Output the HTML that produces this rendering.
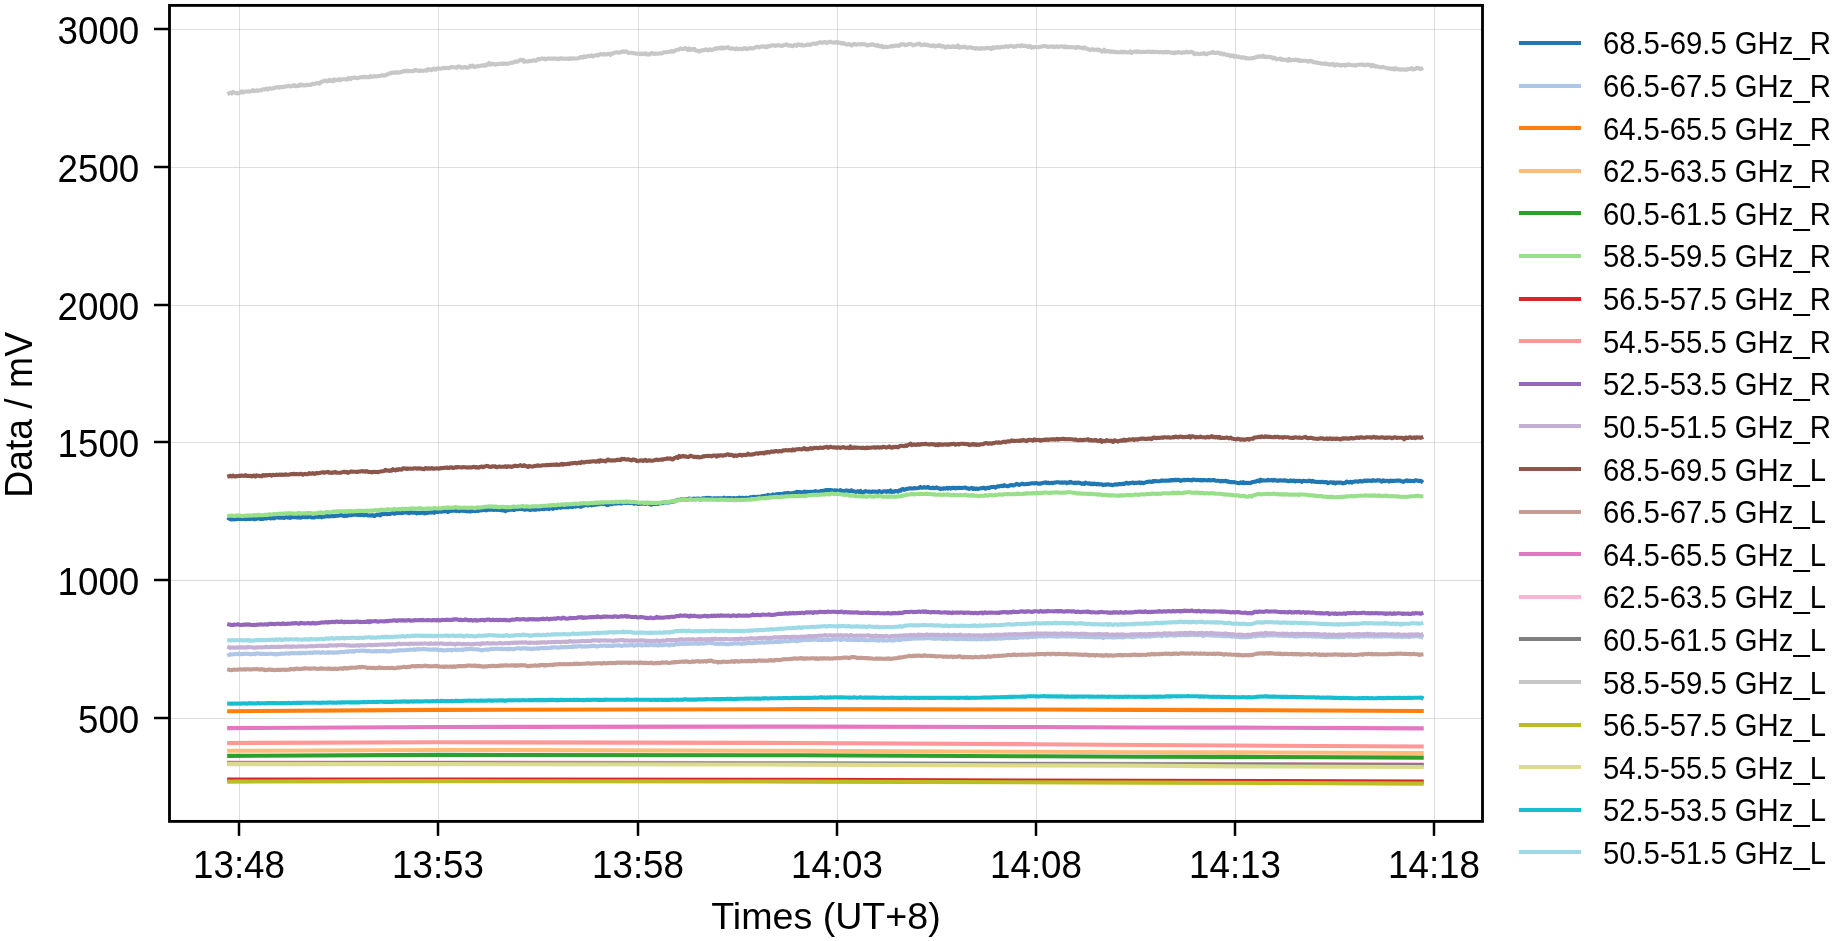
<!DOCTYPE html>
<html><head><meta charset="utf-8"><title>Data / mV vs Times (UT+8)</title>
<style>
html,body{margin:0;padding:0;background:#fff;overflow:hidden}
svg{display:block}
svg.root{will-change:transform}
text{font-family:"Liberation Sans",Arial,sans-serif;fill:#000}
.tk{font-size:37.5px}
.lg{font-size:29.17px}
.ln{fill:none;stroke-width:4.1;stroke-linejoin:round;stroke-linecap:square}
</style></head><body>
<svg class="root" width="1847" height="941" viewBox="0 0 1847 941">

<g stroke="#b0b0b0" stroke-opacity="0.42" stroke-width="1.0">
<line x1="239.50" y1="5.4" x2="239.50" y2="821.4"/>
<line x1="438.50" y1="5.4" x2="438.50" y2="821.4"/>
<line x1="638.50" y1="5.4" x2="638.50" y2="821.4"/>
<line x1="837.50" y1="5.4" x2="837.50" y2="821.4"/>
<line x1="1036.50" y1="5.4" x2="1036.50" y2="821.4"/>
<line x1="1235.50" y1="5.4" x2="1235.50" y2="821.4"/>
<line x1="1434.50" y1="5.4" x2="1434.50" y2="821.4"/>
<line x1="169.5" y1="718.50" x2="1482.5" y2="718.50"/>
<line x1="169.5" y1="580.50" x2="1482.5" y2="580.50"/>
<line x1="169.5" y1="442.50" x2="1482.5" y2="442.50"/>
<line x1="169.5" y1="305.50" x2="1482.5" y2="305.50"/>
<line x1="169.5" y1="167.50" x2="1482.5" y2="167.50"/>
<line x1="169.5" y1="29.50" x2="1482.5" y2="29.50"/>
</g>
<svg x="169.5" y="5.4" width="1313.0" height="816.0" viewBox="169.5 5.4 1313.0 816.0" overflow="hidden">
<path class="ln" stroke="#1f77b4" d="M229.2 518.6 230.4 519.2 231.7 519.5 232.9 519.0 234.2 519.4 235.4 519.2 236.7 519.1 237.9 518.7 239.2 518.9 240.4 519.1 241.7 518.8 242.9 519.1 244.2 518.7 245.4 519.2 246.7 519.1 247.9 518.9 249.2 518.7 250.4 519.2 251.7 518.7 252.9 518.4 254.2 519.3 255.4 519.3 256.7 518.6 257.9 518.3 259.2 518.6 260.4 518.9 261.7 518.7 262.9 518.9 264.2 518.3 265.4 518.4 266.7 518.4 267.9 517.7 269.2 517.9 270.4 518.4 271.7 518.3 272.9 517.9 274.2 518.4 275.4 517.4 276.7 517.4 277.9 517.4 279.2 517.6 280.4 517.5 281.7 517.7 282.9 517.4 284.2 518.0 285.4 516.9 286.7 517.2 287.9 517.6 289.2 516.9 290.4 517.9 291.7 517.0 292.9 517.2 294.2 517.1 295.4 517.1 296.7 517.4 297.9 517.5 299.2 517.0 300.4 517.7 301.7 517.3 302.9 517.0 304.2 517.0 305.4 517.3 306.7 517.3 307.9 517.2 309.2 516.6 310.4 516.8 311.7 517.4 312.9 517.4 314.2 517.5 315.4 516.6 316.7 516.3 317.9 517.0 319.2 516.7 320.4 516.5 321.7 517.3 322.9 516.4 324.2 516.7 325.4 515.9 326.7 516.5 327.9 515.8 329.2 516.4 330.4 516.3 331.7 515.4 332.9 516.2 334.2 516.1 335.4 515.9 336.7 515.8 337.9 515.7 339.2 515.4 340.4 515.2 341.7 515.0 342.9 515.7 344.2 516.1 345.4 515.3 346.7 516.0 347.9 515.4 349.2 515.3 350.4 515.3 351.7 515.2 352.9 514.4 354.2 514.6 355.4 514.8 356.7 514.1 357.9 515.1 359.2 515.0 360.4 514.9 361.7 515.0 362.9 515.0 364.2 515.2 365.4 515.0 366.7 514.9 367.9 515.5 369.2 515.5 370.4 515.3 371.7 515.6 372.9 515.1 374.2 516.0 375.4 515.5 376.7 514.5 377.9 514.9 379.2 514.3 380.4 515.4 381.7 514.0 382.9 514.0 384.2 514.1 385.4 513.6 386.7 514.2 387.9 513.8 389.2 514.0 390.4 513.9 391.7 513.0 392.9 513.0 394.2 513.8 395.4 513.6 396.7 512.8 397.9 513.1 399.2 512.5 400.4 513.0 401.7 513.1 402.9 512.9 404.2 512.2 405.4 512.4 406.7 512.8 407.9 512.3 409.2 513.2 410.4 512.4 411.7 512.3 412.9 512.8 414.2 512.7 415.4 512.5 416.7 513.5 417.9 512.7 419.2 512.9 420.4 512.9 421.7 512.7 422.9 512.5 424.2 513.5 425.4 512.6 426.7 513.1 427.9 512.6 429.2 512.6 430.4 512.3 431.7 512.6 432.9 511.7 434.2 512.8 435.4 511.5 436.7 511.9 437.9 512.1 439.2 511.0 440.4 511.6 441.7 511.7 442.9 510.9 444.2 511.5 445.4 511.1 446.7 511.2 447.9 511.9 449.2 511.3 450.4 511.0 451.7 510.8 452.9 510.4 454.2 510.6 455.4 510.7 456.7 510.9 457.9 510.4 459.2 511.2 460.4 510.7 461.7 510.5 462.9 510.6 464.2 511.0 465.4 510.9 466.7 511.4 467.9 510.9 469.2 511.2 470.4 511.5 471.7 510.6 472.9 511.0 474.2 510.7 475.4 511.1 476.7 510.4 477.9 511.0 479.2 510.6 480.4 510.0 481.7 510.4 482.9 509.9 484.2 510.0 485.4 510.3 486.7 510.2 487.9 509.0 489.2 509.7 490.4 509.5 491.7 509.8 492.9 509.6 494.2 509.9 495.4 509.3 496.7 509.9 497.9 509.5 499.2 510.0 500.4 509.8 501.7 510.3 502.9 510.5 504.2 509.8 505.4 511.2 506.7 510.2 507.9 510.2 509.2 509.9 510.4 509.5 511.7 509.7 513.0 509.7 514.2 510.0 515.5 509.2 516.7 509.1 518.0 509.3 519.2 509.1 520.5 508.9 521.7 509.1 523.0 508.9 524.2 509.6 525.5 509.7 526.7 508.7 528.0 509.5 529.2 509.6 530.5 510.1 531.7 509.3 533.0 509.4 534.2 509.8 535.5 509.7 536.7 509.4 538.0 508.7 539.2 509.5 540.5 508.9 541.7 508.7 543.0 508.9 544.2 509.2 545.5 508.7 546.7 508.5 548.0 508.7 549.2 509.1 550.5 507.9 551.7 508.2 553.0 508.9 554.2 508.1 555.5 507.2 556.7 508.2 558.0 507.5 559.2 507.1 560.5 507.7 561.7 507.3 563.0 507.2 564.2 507.0 565.5 507.4 566.7 507.0 568.0 507.4 569.2 506.9 570.5 506.5 571.7 507.0 573.0 506.9 574.2 505.7 575.5 506.6 576.7 506.1 578.0 506.3 579.2 506.2 580.5 506.8 581.7 506.5 583.0 505.9 584.2 505.4 585.5 505.2 586.7 505.3 588.0 505.4 589.2 505.1 590.5 504.8 591.7 505.5 593.0 504.5 594.2 505.0 595.5 504.2 596.7 504.6 598.0 504.1 599.2 504.3 600.5 503.9 601.7 503.5 603.0 504.2 604.2 503.8 605.5 503.9 606.7 505.0 608.0 505.0 609.2 504.3 610.5 504.0 611.7 504.2 613.0 503.4 614.2 503.6 615.5 503.0 616.7 503.5 618.0 503.2 619.2 503.2 620.5 503.4 621.7 503.5 623.0 502.7 624.2 502.8 625.5 503.1 626.7 502.5 628.0 502.9 629.2 503.0 630.5 502.9 631.7 502.6 633.0 503.3 634.2 503.8 635.5 503.4 636.7 503.3 638.0 503.9 639.2 503.9 640.5 503.8 641.7 503.6 643.0 503.6 644.2 503.5 645.5 503.9 646.7 503.3 648.0 503.2 649.2 503.9 650.5 504.5 651.7 504.7 653.0 503.1 654.2 504.0 655.5 503.9 656.7 503.9 658.0 503.9 659.2 503.3 660.5 503.2 661.7 503.2 663.0 503.2 664.2 502.3 665.5 502.6 666.7 502.3 668.0 502.6 669.2 502.4 670.5 501.8 671.7 501.9 673.0 501.2 674.2 501.5 675.5 500.6 676.7 500.5 678.0 499.8 679.2 499.7 680.5 499.8 681.7 499.2 683.0 499.2 684.2 499.5 685.5 499.6 686.7 499.1 688.0 499.4 689.2 498.5 690.5 499.3 691.7 498.7 693.0 499.4 694.2 498.5 695.5 499.1 696.7 498.6 698.0 498.9 699.2 498.6 700.5 499.7 701.7 498.7 703.0 498.2 704.2 498.7 705.5 498.1 706.7 497.9 708.0 498.5 709.2 497.7 710.5 498.4 711.7 498.3 713.0 498.8 714.2 498.2 715.5 498.6 716.7 498.3 718.0 498.3 719.2 498.2 720.5 498.2 721.7 498.3 723.0 498.4 724.2 497.6 725.5 498.6 726.7 498.3 728.0 497.9 729.2 498.3 730.5 498.1 731.7 498.4 733.0 498.3 734.2 498.1 735.5 498.5 736.7 498.1 738.0 498.5 739.2 497.5 740.5 498.2 741.7 497.9 743.0 497.8 744.2 498.4 745.5 497.7 746.7 497.8 748.0 498.0 749.2 498.0 750.5 497.1 751.7 497.7 753.0 496.9 754.2 496.8 755.5 497.5 756.7 496.7 758.0 496.8 759.2 496.9 760.5 497.0 761.7 496.3 763.0 496.1 764.2 495.9 765.5 495.8 766.7 496.1 768.0 494.9 769.2 495.3 770.5 495.5 771.7 495.4 773.0 494.4 774.2 495.2 775.5 494.7 776.7 494.3 778.0 494.1 779.2 494.1 780.5 494.1 781.7 494.4 783.0 493.7 784.2 493.4 785.5 493.4 786.7 493.5 788.0 492.8 789.2 493.7 790.5 493.2 791.7 493.2 793.0 493.0 794.2 492.7 795.5 492.4 796.7 491.9 798.0 492.0 799.2 492.0 800.5 492.2 801.7 492.3 803.0 492.4 804.2 491.6 805.5 491.9 806.7 492.0 808.0 491.9 809.2 492.3 810.5 491.7 811.7 492.2 813.0 491.7 814.2 491.5 815.5 491.1 816.7 491.8 818.0 491.8 819.2 491.6 820.5 491.1 821.7 491.3 823.0 490.7 824.2 491.3 825.5 490.1 826.7 490.5 828.0 490.0 829.2 490.3 830.5 490.0 831.7 490.4 833.0 490.6 834.2 490.4 835.5 490.6 836.7 490.4 838.0 490.8 839.2 490.9 840.5 490.1 841.7 491.0 843.0 491.0 844.2 491.1 845.5 490.9 846.7 490.4 848.0 491.2 849.2 490.8 850.5 491.1 851.7 490.3 853.0 491.3 854.2 491.4 855.5 491.9 856.7 491.7 858.0 491.2 859.2 491.9 860.5 490.9 861.7 492.7 863.0 492.4 864.2 491.7 865.5 491.1 866.7 491.5 868.0 491.7 869.2 491.6 870.5 491.8 871.7 491.9 873.0 491.4 874.2 491.7 875.5 491.6 876.7 491.7 878.0 491.9 879.2 491.0 880.5 491.7 881.7 492.2 883.0 491.5 884.2 491.3 885.5 491.4 886.7 491.9 888.0 491.0 889.2 491.7 890.5 490.5 891.7 492.1 893.0 491.5 894.2 491.8 895.5 491.0 896.7 491.2 898.0 491.7 899.2 490.4 900.5 490.8 901.7 489.4 903.0 489.0 904.2 489.9 905.5 489.4 906.7 488.9 908.0 488.8 909.2 488.4 910.5 488.4 911.7 488.5 913.0 488.5 914.2 488.1 915.5 488.3 916.7 488.2 918.0 488.0 919.2 487.7 920.5 486.9 921.7 487.7 923.0 487.6 924.2 487.1 925.5 487.8 926.7 487.5 928.0 487.0 929.2 487.9 930.5 488.0 931.7 488.3 933.0 487.6 934.2 488.3 935.5 488.0 936.7 487.4 938.0 488.3 939.2 488.3 940.5 489.1 941.7 488.5 943.0 488.8 944.2 488.2 945.5 488.6 946.7 487.9 948.0 488.6 949.2 487.8 950.5 488.6 951.7 488.1 953.0 487.9 954.2 487.8 955.5 488.4 956.7 487.7 958.0 488.1 959.2 487.8 960.5 488.0 961.7 488.0 963.0 487.7 964.2 487.7 965.5 487.6 966.7 488.3 968.0 488.3 969.2 488.9 970.5 488.4 971.7 487.8 973.0 489.0 974.2 488.2 975.5 488.9 976.7 488.6 978.0 489.0 979.2 488.6 980.5 488.2 981.7 488.1 983.0 487.9 984.2 487.9 985.5 488.7 986.7 487.9 988.0 487.8 989.2 488.1 990.5 487.2 991.7 487.1 993.0 487.0 994.2 486.9 995.5 487.6 996.7 486.7 998.0 486.3 999.2 486.4 1000.5 486.1 1001.7 485.8 1003.0 486.2 1004.2 485.2 1005.5 485.8 1006.7 486.1 1008.0 486.2 1009.2 485.8 1010.5 485.1 1011.7 485.1 1013.0 485.4 1014.2 485.2 1015.5 484.5 1016.7 483.9 1018.0 484.4 1019.2 485.0 1020.5 484.3 1021.7 483.8 1023.0 483.9 1024.2 484.3 1025.5 484.2 1026.7 483.9 1028.0 484.0 1029.2 483.7 1030.5 483.7 1031.7 483.2 1033.0 483.2 1034.2 483.4 1035.5 483.3 1036.7 483.1 1038.0 483.6 1039.2 483.5 1040.5 483.7 1041.7 483.2 1043.0 482.9 1044.2 482.8 1045.5 482.3 1046.7 483.1 1048.0 482.5 1049.2 483.2 1050.5 483.0 1051.7 482.9 1053.0 483.1 1054.2 482.6 1055.5 482.5 1056.7 482.3 1058.0 482.3 1059.2 482.4 1060.5 482.7 1061.7 482.4 1063.0 482.6 1064.2 482.5 1065.5 482.3 1066.7 483.3 1068.0 482.5 1069.2 482.7 1070.5 481.8 1071.7 482.5 1073.0 482.8 1074.2 483.1 1075.5 482.5 1076.7 483.1 1078.0 482.5 1079.2 482.9 1080.5 483.1 1081.7 483.9 1083.0 483.3 1084.2 483.9 1085.5 482.7 1086.7 483.2 1088.0 483.7 1089.2 483.3 1090.5 484.1 1091.7 483.5 1093.0 484.2 1094.2 483.6 1095.5 483.9 1096.7 484.4 1098.0 483.9 1099.2 484.4 1100.5 484.3 1101.7 484.3 1103.0 485.1 1104.2 484.7 1105.5 484.5 1106.7 484.6 1108.0 484.2 1109.2 484.7 1110.5 484.8 1111.7 484.9 1113.0 485.2 1114.2 484.7 1115.5 484.2 1116.7 484.7 1118.0 484.3 1119.2 484.1 1120.5 484.0 1121.7 484.1 1123.0 483.7 1124.2 484.0 1125.5 483.2 1126.7 482.7 1128.0 483.6 1129.2 483.0 1130.5 483.2 1131.7 482.7 1133.0 482.5 1134.2 483.2 1135.5 482.8 1136.7 482.9 1138.0 482.8 1139.2 482.4 1140.5 483.1 1141.7 482.6 1143.0 483.2 1144.2 482.8 1145.5 482.4 1146.7 482.0 1148.0 481.7 1149.2 481.6 1150.5 481.8 1151.7 481.9 1153.0 481.1 1154.2 481.4 1155.5 480.9 1156.7 481.2 1158.0 481.3 1159.2 481.3 1160.5 481.0 1161.7 480.5 1163.0 480.6 1164.2 480.7 1165.5 480.5 1166.7 480.7 1168.0 480.6 1169.2 480.8 1170.5 480.0 1171.7 480.5 1173.0 480.0 1174.2 480.2 1175.5 479.8 1176.7 480.2 1178.0 479.7 1179.2 479.9 1180.5 480.9 1181.7 480.3 1183.0 480.3 1184.2 479.7 1185.5 480.3 1186.7 479.8 1188.0 479.7 1189.2 480.1 1190.5 480.0 1191.7 480.4 1193.0 479.6 1194.2 479.8 1195.5 479.9 1196.7 480.1 1198.0 479.9 1199.2 480.1 1200.5 480.0 1201.7 480.5 1203.0 480.0 1204.2 480.1 1205.5 480.3 1206.7 480.2 1208.0 480.4 1209.2 479.9 1210.5 480.4 1211.7 480.3 1213.0 480.1 1214.2 480.0 1215.5 480.7 1216.7 480.7 1218.0 480.8 1219.2 480.8 1220.5 481.5 1221.7 480.8 1223.0 481.2 1224.2 481.1 1225.5 480.7 1226.7 481.5 1228.0 481.2 1229.2 482.0 1230.5 482.1 1231.7 482.1 1233.0 482.3 1234.2 482.1 1235.5 482.6 1236.7 482.8 1238.0 483.0 1239.2 483.2 1240.5 482.4 1241.7 483.0 1243.0 482.1 1244.2 483.2 1245.5 482.7 1246.7 483.0 1248.0 482.7 1249.2 483.0 1250.5 483.1 1251.7 482.3 1253.0 482.1 1254.2 481.7 1255.5 481.7 1256.7 480.9 1258.0 480.6 1259.2 481.4 1260.5 479.7 1261.7 480.6 1263.0 480.4 1264.2 480.5 1265.5 480.5 1266.7 480.5 1268.0 479.8 1269.2 480.5 1270.5 480.3 1271.7 480.0 1273.0 480.6 1274.2 479.8 1275.5 480.6 1276.7 480.4 1278.0 480.9 1279.2 480.3 1280.5 480.4 1281.7 480.5 1283.0 480.6 1284.2 480.2 1285.5 480.8 1286.7 480.6 1288.0 481.2 1289.2 481.2 1290.5 480.4 1291.7 480.9 1293.0 480.9 1294.2 480.6 1295.5 481.4 1296.7 480.9 1298.0 481.0 1299.2 480.8 1300.5 481.1 1301.7 481.9 1303.0 480.7 1304.2 481.0 1305.5 481.1 1306.7 481.2 1308.0 481.1 1309.2 480.6 1310.5 481.0 1311.7 481.6 1313.0 480.9 1314.2 481.8 1315.5 481.7 1316.7 481.9 1318.0 482.0 1319.2 481.9 1320.5 482.2 1321.7 481.7 1323.0 482.2 1324.2 482.3 1325.5 482.0 1326.7 482.3 1328.0 483.2 1329.2 482.7 1330.5 482.2 1331.7 482.3 1333.0 483.1 1334.2 482.3 1335.5 483.4 1336.7 482.5 1338.0 482.8 1339.2 482.6 1340.5 482.5 1341.7 482.7 1343.0 483.4 1344.2 483.0 1345.5 482.7 1346.7 481.5 1348.0 482.1 1349.2 482.5 1350.5 481.8 1351.7 482.6 1353.0 481.9 1354.2 481.8 1355.5 481.4 1356.7 481.5 1358.0 481.7 1359.2 481.3 1360.5 480.9 1361.7 481.6 1363.0 481.3 1364.2 480.6 1365.5 480.9 1366.7 480.6 1368.0 480.9 1369.2 480.5 1370.5 480.7 1371.7 481.1 1373.0 480.1 1374.2 480.6 1375.5 480.7 1376.7 480.4 1378.0 480.4 1379.2 480.2 1380.5 480.6 1381.7 481.7 1383.0 480.3 1384.2 480.9 1385.5 481.1 1386.7 480.8 1388.0 480.8 1389.2 481.6 1390.5 480.6 1391.7 480.9 1393.0 480.8 1394.2 480.9 1395.5 480.7 1396.7 480.6 1398.0 480.8 1399.2 480.5 1400.5 480.8 1401.7 481.3 1403.0 481.7 1404.2 481.6 1405.5 480.8 1406.7 480.4 1408.0 481.1 1409.2 480.8 1410.5 480.9 1411.7 481.0 1413.0 481.0 1414.2 481.2 1415.5 480.2 1416.7 480.4 1418.0 480.7 1419.2 481.0 1420.5 480.7 1421.4 481.4"/>
<path class="ln" stroke="#aec7e8" d="M229.2 654.8 230.4 654.3 231.7 654.4 232.9 654.2 234.2 654.3 235.4 654.0 236.7 653.9 237.9 654.2 239.2 653.6 240.4 654.1 241.7 654.1 242.9 653.8 244.2 653.9 245.4 653.7 246.7 653.6 247.9 654.0 249.2 653.8 250.4 654.2 251.7 654.3 252.9 653.9 254.2 653.8 255.4 654.1 256.7 653.4 257.9 653.5 259.2 653.8 260.4 653.9 261.7 653.9 262.9 653.9 264.2 654.0 265.4 653.9 266.7 654.0 267.9 654.0 269.2 653.8 270.4 653.8 271.7 653.7 272.9 654.1 274.2 654.0 275.4 654.4 276.7 654.1 277.9 654.5 279.2 653.8 280.4 653.9 281.7 653.6 282.9 653.7 284.2 653.8 285.4 653.5 286.7 653.4 287.9 653.5 289.2 653.8 290.4 653.1 291.7 653.1 292.9 653.1 294.2 653.2 295.4 653.0 296.7 653.2 297.9 653.3 299.2 652.8 300.4 653.4 301.7 652.7 302.9 653.0 304.2 652.9 305.4 653.3 306.7 652.7 307.9 652.8 309.2 652.8 310.4 652.9 311.7 652.6 312.9 653.0 314.2 652.3 315.4 652.4 316.7 652.6 317.9 652.4 319.2 652.2 320.4 652.9 321.7 652.7 322.9 652.1 324.2 652.7 325.4 652.8 326.7 652.3 327.9 652.8 329.2 652.2 330.4 652.4 331.7 652.5 332.9 652.6 334.2 652.6 335.4 652.5 336.7 652.2 337.9 652.6 339.2 652.3 340.4 652.0 341.7 651.9 342.9 652.3 344.2 652.0 345.4 651.6 346.7 651.6 347.9 651.9 349.2 651.1 350.4 651.3 351.7 651.6 352.9 651.0 354.2 651.6 355.4 650.9 356.7 650.8 357.9 650.7 359.2 650.9 360.4 650.7 361.7 650.6 362.9 650.7 364.2 650.6 365.4 650.9 366.7 651.1 367.9 651.1 369.2 650.8 370.4 651.3 371.7 651.2 372.9 651.4 374.2 651.4 375.4 651.1 376.7 651.4 377.9 651.0 379.2 651.3 380.4 650.8 381.7 651.3 382.9 651.2 384.2 650.8 385.4 651.3 386.7 651.1 387.9 651.6 389.2 651.1 390.4 651.5 391.7 651.1 392.9 650.7 394.2 650.8 395.4 650.7 396.7 650.8 397.9 650.2 399.2 650.4 400.4 650.2 401.7 650.3 402.9 650.2 404.2 650.2 405.4 650.2 406.7 649.9 407.9 650.0 409.2 649.7 410.4 649.6 411.7 649.7 412.9 649.6 414.2 649.3 415.4 650.0 416.7 649.2 417.9 649.0 419.2 649.5 420.4 649.3 421.7 649.3 422.9 649.1 424.2 649.0 425.4 649.3 426.7 649.4 427.9 649.5 429.2 649.6 430.4 649.9 431.7 649.5 432.9 649.3 434.2 649.7 435.4 649.5 436.7 649.3 437.9 650.3 439.2 650.1 440.4 649.9 441.7 649.9 442.9 650.4 444.2 650.3 445.4 650.2 446.7 650.1 447.9 649.8 449.2 650.0 450.4 649.8 451.7 650.5 452.9 649.8 454.2 649.7 455.4 649.6 456.7 650.1 457.9 649.5 459.2 649.9 460.4 649.8 461.7 649.6 462.9 650.1 464.2 649.3 465.4 649.5 466.7 649.0 467.9 649.1 469.2 649.3 470.4 648.9 471.7 649.0 472.9 649.3 474.2 649.3 475.4 649.3 476.7 649.5 477.9 649.2 479.2 649.7 480.4 650.1 481.7 650.4 482.9 650.1 484.2 649.8 485.4 649.7 486.7 649.4 487.9 649.7 489.2 649.6 490.4 649.1 491.7 648.8 492.9 649.1 494.2 649.2 495.4 648.7 496.7 648.7 497.9 648.8 499.2 649.0 500.4 648.9 501.7 648.7 502.9 649.1 504.2 648.9 505.4 649.0 506.7 649.3 507.9 648.7 509.2 649.3 510.4 648.8 511.7 648.9 513.0 649.2 514.2 649.1 515.5 648.6 516.7 648.5 518.0 648.3 519.2 648.3 520.5 648.8 521.7 648.4 523.0 648.2 524.2 648.4 525.5 648.3 526.7 648.6 528.0 648.9 529.2 648.5 530.5 649.0 531.7 649.1 533.0 648.9 534.2 648.5 535.5 648.8 536.7 648.3 538.0 648.2 539.2 648.8 540.5 648.0 541.7 648.0 543.0 648.1 544.2 648.1 545.5 648.3 546.7 648.1 548.0 648.1 549.2 647.9 550.5 647.8 551.7 647.3 553.0 647.6 554.2 647.3 555.5 647.3 556.7 647.3 558.0 647.8 559.2 647.5 560.5 647.5 561.7 647.0 563.0 647.2 564.2 647.1 565.5 647.1 566.7 647.2 568.0 646.9 569.2 647.0 570.5 647.0 571.7 646.9 573.0 647.0 574.2 646.1 575.5 646.5 576.7 646.6 578.0 646.4 579.2 646.3 580.5 645.9 581.7 646.6 583.0 646.4 584.2 646.2 585.5 646.7 586.7 646.2 588.0 646.4 589.2 646.3 590.5 646.3 591.7 645.7 593.0 646.0 594.2 645.9 595.5 646.1 596.7 646.6 598.0 646.2 599.2 646.1 600.5 645.5 601.7 645.9 603.0 645.7 604.2 645.5 605.5 645.8 606.7 645.9 608.0 645.8 609.2 645.9 610.5 646.0 611.7 645.5 613.0 646.0 614.2 645.4 615.5 645.5 616.7 645.5 618.0 645.4 619.2 645.2 620.5 645.7 621.7 645.9 623.0 645.5 624.2 645.4 625.5 645.3 626.7 645.5 628.0 645.5 629.2 645.3 630.5 645.2 631.7 644.8 633.0 645.3 634.2 645.7 635.5 645.4 636.7 645.0 638.0 645.2 639.2 645.0 640.5 644.8 641.7 645.6 643.0 645.3 644.2 645.3 645.5 644.7 646.7 645.3 648.0 645.3 649.2 645.4 650.5 644.9 651.7 644.8 653.0 645.3 654.2 645.2 655.5 645.0 656.7 645.2 658.0 645.4 659.2 645.1 660.5 645.1 661.7 645.2 663.0 645.2 664.2 645.0 665.5 645.0 666.7 644.6 668.0 644.7 669.2 645.5 670.5 644.7 671.7 644.3 673.0 644.9 674.2 644.9 675.5 644.1 676.7 644.3 678.0 644.2 679.2 644.1 680.5 643.9 681.7 643.8 683.0 643.9 684.2 644.1 685.5 643.9 686.7 644.0 688.0 643.9 689.2 643.8 690.5 643.7 691.7 643.6 693.0 643.7 694.2 643.8 695.5 643.4 696.7 643.6 698.0 643.9 699.2 643.5 700.5 643.6 701.7 643.2 703.0 643.7 704.2 643.6 705.5 643.2 706.7 643.1 708.0 643.1 709.2 642.8 710.5 642.8 711.7 643.3 713.0 643.1 714.2 643.6 715.5 643.9 716.7 643.6 718.0 644.0 719.2 644.0 720.5 643.5 721.7 643.8 723.0 643.9 724.2 643.6 725.5 644.1 726.7 644.2 728.0 644.2 729.2 644.3 730.5 643.7 731.7 644.0 733.0 643.8 734.2 643.4 735.5 643.5 736.7 643.6 738.0 643.2 739.2 643.5 740.5 643.5 741.7 644.1 743.0 643.4 744.2 643.6 745.5 643.4 746.7 643.1 748.0 642.9 749.2 643.0 750.5 643.0 751.7 643.2 753.0 643.2 754.2 642.8 755.5 642.8 756.7 642.6 758.0 642.6 759.2 642.7 760.5 642.4 761.7 642.5 763.0 642.3 764.2 642.7 765.5 642.4 766.7 642.1 768.0 642.5 769.2 641.7 770.5 642.0 771.7 642.3 773.0 642.2 774.2 642.1 775.5 641.8 776.7 642.0 778.0 641.9 779.2 641.9 780.5 641.3 781.7 641.8 783.0 641.2 784.2 641.1 785.5 641.3 786.7 641.2 788.0 641.5 789.2 641.1 790.5 641.1 791.7 640.7 793.0 640.6 794.2 640.7 795.5 640.8 796.7 641.2 798.0 640.3 799.2 640.8 800.5 640.3 801.7 640.5 803.0 639.8 804.2 640.1 805.5 640.0 806.7 639.9 808.0 639.9 809.2 640.0 810.5 640.0 811.7 639.5 813.0 639.6 814.2 639.7 815.5 639.3 816.7 639.6 818.0 640.1 819.2 640.0 820.5 639.7 821.7 640.1 823.0 639.9 824.2 639.6 825.5 640.0 826.7 640.1 828.0 639.7 829.2 640.0 830.5 639.9 831.7 639.8 833.0 639.4 834.2 639.3 835.5 639.3 836.7 639.6 838.0 639.5 839.2 639.5 840.5 639.9 841.7 639.9 843.0 639.2 844.2 639.2 845.5 639.6 846.7 639.8 848.0 639.9 849.2 639.7 850.5 639.3 851.7 640.2 853.0 639.7 854.2 639.9 855.5 639.9 856.7 639.8 858.0 640.2 859.2 640.2 860.5 639.7 861.7 639.4 863.0 639.9 864.2 640.1 865.5 640.1 866.7 640.2 868.0 640.3 869.2 640.3 870.5 640.0 871.7 639.8 873.0 640.0 874.2 640.4 875.5 640.0 876.7 640.4 878.0 640.3 879.2 640.7 880.5 640.2 881.7 639.7 883.0 640.7 884.2 640.3 885.5 640.2 886.7 640.6 888.0 640.2 889.2 640.1 890.5 640.3 891.7 640.5 893.0 640.2 894.2 640.6 895.5 639.8 896.7 639.8 898.0 639.5 899.2 640.1 900.5 640.0 901.7 639.4 903.0 639.2 904.2 638.9 905.5 639.5 906.7 639.2 908.0 639.1 909.2 638.7 910.5 639.0 911.7 638.7 913.0 638.4 914.2 638.4 915.5 638.6 916.7 638.2 918.0 638.6 919.2 638.3 920.5 638.4 921.7 638.3 923.0 638.4 924.2 638.5 925.5 638.1 926.7 638.2 928.0 638.0 929.2 638.3 930.5 638.2 931.7 638.4 933.0 638.5 934.2 638.9 935.5 638.4 936.7 638.8 938.0 638.4 939.2 638.4 940.5 638.7 941.7 638.8 943.0 638.9 944.2 638.8 945.5 638.7 946.7 639.1 948.0 638.6 949.2 638.5 950.5 638.6 951.7 638.5 953.0 638.6 954.2 639.2 955.5 638.5 956.7 639.2 958.0 638.5 959.2 639.1 960.5 638.3 961.7 639.3 963.0 638.8 964.2 639.0 965.5 639.0 966.7 638.9 968.0 639.4 969.2 639.3 970.5 639.0 971.7 639.2 973.0 639.3 974.2 639.1 975.5 639.3 976.7 639.4 978.0 639.0 979.2 638.9 980.5 639.2 981.7 638.9 983.0 639.1 984.2 638.9 985.5 639.2 986.7 639.1 988.0 639.3 989.2 639.1 990.5 638.9 991.7 638.6 993.0 638.5 994.2 638.8 995.5 638.9 996.7 638.8 998.0 638.5 999.2 638.3 1000.5 638.7 1001.7 638.4 1003.0 637.9 1004.2 638.6 1005.5 637.7 1006.7 638.0 1008.0 638.0 1009.2 638.2 1010.5 637.9 1011.7 637.8 1013.0 637.9 1014.2 638.1 1015.5 637.7 1016.7 638.2 1018.0 637.7 1019.2 637.5 1020.5 637.4 1021.7 637.3 1023.0 637.6 1024.2 637.3 1025.5 637.2 1026.7 637.0 1028.0 637.5 1029.2 636.6 1030.5 636.9 1031.7 637.0 1033.0 636.9 1034.2 636.7 1035.5 636.8 1036.7 636.6 1038.0 636.5 1039.2 636.3 1040.5 636.5 1041.7 636.2 1043.0 636.0 1044.2 636.6 1045.5 636.4 1046.7 636.3 1048.0 636.3 1049.2 636.3 1050.5 636.3 1051.7 636.3 1053.0 636.4 1054.2 636.3 1055.5 636.4 1056.7 636.8 1058.0 636.5 1059.2 636.4 1060.5 636.3 1061.7 636.3 1063.0 636.4 1064.2 636.3 1065.5 636.5 1066.7 636.4 1068.0 636.1 1069.2 636.1 1070.5 636.4 1071.7 636.7 1073.0 636.1 1074.2 636.5 1075.5 636.4 1076.7 636.5 1078.0 636.5 1079.2 637.0 1080.5 636.9 1081.7 636.8 1083.0 636.7 1084.2 637.0 1085.5 637.0 1086.7 636.8 1088.0 636.9 1089.2 637.1 1090.5 636.7 1091.7 637.1 1093.0 637.1 1094.2 637.0 1095.5 637.4 1096.7 637.1 1098.0 637.3 1099.2 637.2 1100.5 637.3 1101.7 637.3 1103.0 638.1 1104.2 637.5 1105.5 637.3 1106.7 637.1 1108.0 637.1 1109.2 637.2 1110.5 637.3 1111.7 637.3 1113.0 637.6 1114.2 637.2 1115.5 637.4 1116.7 637.2 1118.0 637.3 1119.2 637.3 1120.5 637.2 1121.7 637.1 1123.0 637.5 1124.2 637.1 1125.5 636.8 1126.7 636.8 1128.0 636.6 1129.2 636.7 1130.5 636.5 1131.7 637.0 1133.0 637.3 1134.2 636.8 1135.5 636.5 1136.7 636.5 1138.0 636.3 1139.2 636.3 1140.5 636.5 1141.7 636.7 1143.0 636.3 1144.2 636.0 1145.5 636.8 1146.7 635.8 1148.0 636.3 1149.2 636.6 1150.5 636.4 1151.7 636.2 1153.0 635.6 1154.2 636.1 1155.5 635.8 1156.7 635.9 1158.0 635.5 1159.2 635.5 1160.5 635.5 1161.7 636.1 1163.0 635.4 1164.2 635.3 1165.5 635.0 1166.7 635.9 1168.0 635.6 1169.2 635.3 1170.5 634.9 1171.7 635.2 1173.0 635.2 1174.2 635.8 1175.5 635.1 1176.7 635.4 1178.0 634.8 1179.2 635.1 1180.5 635.4 1181.7 635.0 1183.0 634.8 1184.2 635.2 1185.5 635.2 1186.7 635.1 1188.0 635.2 1189.2 634.9 1190.5 635.1 1191.7 634.8 1193.0 635.0 1194.2 635.1 1195.5 634.6 1196.7 635.0 1198.0 635.3 1199.2 634.8 1200.5 635.0 1201.7 635.2 1203.0 635.9 1204.2 635.4 1205.5 635.1 1206.7 634.9 1208.0 635.2 1209.2 635.3 1210.5 635.5 1211.7 635.2 1213.0 635.5 1214.2 635.7 1215.5 635.4 1216.7 635.7 1218.0 635.6 1219.2 635.7 1220.5 635.4 1221.7 635.9 1223.0 636.1 1224.2 636.1 1225.5 636.0 1226.7 636.3 1228.0 636.1 1229.2 636.2 1230.5 636.1 1231.7 636.6 1233.0 636.4 1234.2 636.6 1235.5 636.7 1236.7 636.7 1238.0 636.9 1239.2 637.1 1240.5 637.0 1241.7 637.1 1243.0 637.0 1244.2 637.1 1245.5 636.9 1246.7 637.2 1248.0 637.1 1249.2 636.8 1250.5 637.0 1251.7 636.7 1253.0 636.2 1254.2 636.3 1255.5 636.4 1256.7 636.0 1258.0 635.6 1259.2 635.7 1260.5 635.7 1261.7 635.8 1263.0 635.7 1264.2 635.9 1265.5 635.6 1266.7 635.0 1268.0 635.4 1269.2 635.6 1270.5 635.3 1271.7 635.1 1273.0 635.5 1274.2 635.3 1275.5 635.0 1276.7 635.5 1278.0 635.8 1279.2 635.8 1280.5 635.8 1281.7 635.7 1283.0 635.5 1284.2 636.0 1285.5 635.7 1286.7 635.7 1288.0 635.9 1289.2 636.2 1290.5 636.0 1291.7 636.0 1293.0 635.7 1294.2 636.4 1295.5 636.2 1296.7 636.4 1298.0 636.4 1299.2 635.8 1300.5 636.3 1301.7 636.3 1303.0 635.7 1304.2 636.2 1305.5 636.1 1306.7 635.8 1308.0 636.4 1309.2 636.3 1310.5 636.3 1311.7 636.5 1313.0 636.4 1314.2 636.5 1315.5 636.2 1316.7 636.7 1318.0 636.5 1319.2 636.4 1320.5 636.6 1321.7 636.8 1323.0 636.4 1324.2 636.9 1325.5 636.7 1326.7 637.2 1328.0 637.0 1329.2 636.9 1330.5 637.0 1331.7 636.8 1333.0 637.0 1334.2 636.9 1335.5 636.9 1336.7 637.1 1338.0 636.9 1339.2 637.2 1340.5 637.0 1341.7 636.9 1343.0 636.8 1344.2 637.1 1345.5 636.3 1346.7 636.3 1348.0 636.4 1349.2 636.7 1350.5 636.2 1351.7 636.3 1353.0 636.7 1354.2 636.6 1355.5 636.2 1356.7 636.6 1358.0 636.7 1359.2 636.8 1360.5 636.3 1361.7 636.3 1363.0 636.2 1364.2 636.6 1365.5 636.3 1366.7 636.0 1368.0 636.4 1369.2 636.1 1370.5 636.4 1371.7 636.0 1373.0 636.2 1374.2 636.8 1375.5 636.0 1376.7 636.4 1378.0 636.6 1379.2 636.3 1380.5 636.6 1381.7 636.5 1383.0 636.3 1384.2 636.3 1385.5 636.5 1386.7 636.1 1388.0 636.2 1389.2 636.5 1390.5 636.2 1391.7 636.5 1393.0 636.3 1394.2 636.8 1395.5 636.8 1396.7 636.7 1398.0 636.6 1399.2 636.5 1400.5 636.4 1401.7 637.1 1403.0 636.8 1404.2 636.6 1405.5 636.8 1406.7 636.8 1408.0 636.8 1409.2 636.9 1410.5 636.6 1411.7 636.2 1413.0 636.4 1414.2 636.4 1415.5 636.2 1416.7 636.2 1418.0 635.5 1419.2 636.7 1420.5 636.4 1421.4 636.9"/>
<path class="ln" stroke="#ff7f0e" d="M229.2 711.2 440.0 709.9 638.0 709.5 800.0 709.1 1036.0 709.5 1140.0 709.9 1235.0 710.1 1421.7 711.0"/>
<path class="ln" stroke="#ffbb78" d="M229.2 750.8 440.0 750.0 800.0 750.8 1036.0 751.8 1140.0 752.2 1235.0 752.4 1421.7 753.0"/>
<path class="ln" stroke="#2ca02c" d="M229.2 755.9 440.0 754.9 800.0 755.3 1036.0 756.3 1140.0 756.7 1235.0 756.9 1421.7 757.6"/>
<path class="ln" stroke="#98df8a" d="M229.2 515.7 230.4 515.7 231.7 515.6 232.9 515.8 234.2 515.9 235.4 515.7 236.7 515.4 237.9 515.8 239.2 515.5 240.4 515.6 241.7 516.0 242.9 516.1 244.2 515.7 245.4 515.8 246.7 515.3 247.9 515.8 249.2 515.3 250.4 515.5 251.7 515.6 252.9 515.4 254.2 515.1 255.4 515.4 256.7 515.5 257.9 514.9 259.2 515.1 260.4 515.3 261.7 515.3 262.9 515.2 264.2 514.9 265.4 514.9 266.7 514.7 267.9 515.0 269.2 514.3 270.4 514.5 271.7 514.5 272.9 514.3 274.2 514.0 275.4 514.2 276.7 514.1 277.9 513.8 279.2 513.8 280.4 513.9 281.7 513.6 282.9 513.7 284.2 514.0 285.4 513.3 286.7 513.4 287.9 513.8 289.2 513.2 290.4 513.3 291.7 513.5 292.9 513.4 294.2 513.7 295.4 513.5 296.7 513.6 297.9 513.1 299.2 513.0 300.4 513.7 301.7 513.3 302.9 513.2 304.2 513.5 305.4 513.3 306.7 513.0 307.9 513.1 309.2 513.4 310.4 513.1 311.7 513.2 312.9 514.0 314.2 513.4 315.4 513.4 316.7 513.4 317.9 512.8 319.2 512.6 320.4 512.9 321.7 512.4 322.9 513.1 324.2 512.9 325.4 512.3 326.7 512.0 327.9 512.1 329.2 512.4 330.4 512.2 331.7 512.1 332.9 511.8 334.2 511.5 335.4 511.5 336.7 511.3 337.9 511.5 339.2 511.2 340.4 511.2 341.7 511.3 342.9 511.6 344.2 511.4 345.4 511.3 346.7 511.1 347.9 511.2 349.2 511.1 350.4 511.0 351.7 511.1 352.9 511.5 354.2 511.2 355.4 511.3 356.7 510.7 357.9 511.1 359.2 510.9 360.4 510.8 361.7 510.9 362.9 510.8 364.2 510.9 365.4 511.0 366.7 510.6 367.9 510.9 369.2 510.7 370.4 510.5 371.7 510.8 372.9 510.5 374.2 510.5 375.4 510.1 376.7 510.3 377.9 510.5 379.2 510.0 380.4 509.9 381.7 509.5 382.9 509.9 384.2 510.1 385.4 509.7 386.7 509.5 387.9 509.4 389.2 509.4 390.4 509.9 391.7 509.5 392.9 509.5 394.2 508.9 395.4 509.3 396.7 509.3 397.9 509.2 399.2 509.1 400.4 509.4 401.7 509.0 402.9 508.7 404.2 509.2 405.4 508.8 406.7 508.9 407.9 509.0 409.2 508.6 410.4 508.8 411.7 508.4 412.9 508.6 414.2 508.4 415.4 508.8 416.7 508.8 417.9 508.4 419.2 508.2 420.4 508.2 421.7 508.5 422.9 508.7 424.2 508.7 425.4 508.6 426.7 508.5 427.9 508.4 429.2 508.6 430.4 508.5 431.7 508.7 432.9 508.4 434.2 508.1 435.4 508.3 436.7 508.5 437.9 508.5 439.2 508.4 440.4 508.4 441.7 508.2 442.9 507.9 444.2 507.8 445.4 507.8 446.7 507.7 447.9 507.4 449.2 507.7 450.4 507.7 451.7 507.5 452.9 507.7 454.2 507.8 455.4 507.0 456.7 507.4 457.9 507.9 459.2 507.6 460.4 507.7 461.7 507.8 462.9 507.8 464.2 507.6 465.4 507.8 466.7 507.8 467.9 507.9 469.2 507.7 470.4 507.8 471.7 507.6 472.9 507.7 474.2 508.2 475.4 508.1 476.7 507.5 477.9 507.3 479.2 507.8 480.4 507.5 481.7 507.3 482.9 507.3 484.2 506.8 485.4 506.8 486.7 506.7 487.9 506.6 489.2 506.3 490.4 506.7 491.7 506.4 492.9 506.5 494.2 507.0 495.4 506.5 496.7 506.9 497.9 506.9 499.2 507.3 500.4 506.8 501.7 506.8 502.9 506.7 504.2 507.0 505.4 507.2 506.7 507.0 507.9 507.1 509.2 507.1 510.4 507.2 511.7 507.0 513.0 506.6 514.2 506.6 515.5 506.7 516.7 506.7 518.0 506.6 519.2 506.5 520.5 506.5 521.7 506.2 523.0 506.0 524.2 506.7 525.5 506.5 526.7 506.3 528.0 506.4 529.2 506.8 530.5 506.8 531.7 506.4 533.0 506.4 534.2 506.4 535.5 506.2 536.7 506.2 538.0 506.4 539.2 506.2 540.5 506.1 541.7 506.1 543.0 505.7 544.2 505.7 545.5 505.8 546.7 505.7 548.0 505.5 549.2 505.4 550.5 505.7 551.7 505.1 553.0 505.1 554.2 505.0 555.5 505.2 556.7 505.2 558.0 504.5 559.2 504.9 560.5 504.7 561.7 504.4 563.0 504.4 564.2 505.0 565.5 504.1 566.7 504.4 568.0 504.3 569.2 504.3 570.5 504.2 571.7 504.1 573.0 503.6 574.2 504.1 575.5 503.5 576.7 503.7 578.0 504.0 579.2 503.7 580.5 503.3 581.7 503.5 583.0 503.4 584.2 503.0 585.5 503.4 586.7 503.5 588.0 503.2 589.2 503.4 590.5 502.9 591.7 503.1 593.0 503.2 594.2 502.6 595.5 502.9 596.7 502.3 598.0 503.0 599.2 502.6 600.5 502.6 601.7 502.1 603.0 502.8 604.2 502.4 605.5 502.2 606.7 502.3 608.0 502.3 609.2 502.3 610.5 502.3 611.7 502.1 613.0 502.2 614.2 502.2 615.5 501.7 616.7 501.8 618.0 502.0 619.2 501.7 620.5 501.8 621.7 501.8 623.0 501.9 624.2 501.6 625.5 502.0 626.7 501.3 628.0 501.8 629.2 501.9 630.5 501.7 631.7 502.1 633.0 502.0 634.2 502.0 635.5 502.1 636.7 502.3 638.0 502.5 639.2 502.7 640.5 502.8 641.7 502.5 643.0 502.5 644.2 503.0 645.5 503.0 646.7 502.4 648.0 503.1 649.2 502.5 650.5 502.9 651.7 502.8 653.0 503.0 654.2 502.9 655.5 502.8 656.7 503.1 658.0 502.8 659.2 502.8 660.5 502.9 661.7 502.5 663.0 502.2 664.2 502.2 665.5 502.1 666.7 502.2 668.0 501.9 669.2 501.8 670.5 501.8 671.7 501.4 673.0 501.1 674.2 501.0 675.5 501.2 676.7 500.5 678.0 500.2 679.2 500.2 680.5 499.9 681.7 499.6 683.0 499.5 684.2 499.4 685.5 499.7 686.7 499.7 688.0 499.6 689.2 499.7 690.5 499.1 691.7 499.7 693.0 499.7 694.2 499.7 695.5 499.8 696.7 499.5 698.0 499.5 699.2 499.6 700.5 500.0 701.7 499.5 703.0 499.4 704.2 499.6 705.5 499.5 706.7 499.6 708.0 499.8 709.2 499.6 710.5 499.7 711.7 499.5 713.0 499.6 714.2 499.7 715.5 499.7 716.7 499.9 718.0 499.8 719.2 500.0 720.5 499.5 721.7 499.7 723.0 499.7 724.2 499.8 725.5 499.9 726.7 499.9 728.0 500.0 729.2 499.9 730.5 500.0 731.7 499.9 733.0 500.0 734.2 500.3 735.5 499.8 736.7 500.2 738.0 499.8 739.2 500.0 740.5 500.2 741.7 499.7 743.0 500.1 744.2 499.7 745.5 499.8 746.7 499.7 748.0 499.6 749.2 499.5 750.5 499.7 751.7 498.9 753.0 499.4 754.2 499.1 755.5 499.2 756.7 498.8 758.0 498.7 759.2 498.1 760.5 498.5 761.7 498.3 763.0 498.3 764.2 498.0 765.5 498.3 766.7 497.7 768.0 498.0 769.2 497.6 770.5 497.3 771.7 497.6 773.0 497.3 774.2 497.1 775.5 497.3 776.7 496.7 778.0 497.1 779.2 497.1 780.5 497.1 781.7 496.5 783.0 496.9 784.2 496.8 785.5 496.4 786.7 496.4 788.0 496.4 789.2 496.3 790.5 496.2 791.7 496.1 793.0 496.1 794.2 496.1 795.5 496.1 796.7 496.0 798.0 496.0 799.2 495.9 800.5 496.0 801.7 496.0 803.0 495.8 804.2 496.1 805.5 495.9 806.7 495.8 808.0 495.4 809.2 495.4 810.5 495.0 811.7 495.2 813.0 494.8 814.2 494.8 815.5 495.0 816.7 494.6 818.0 495.0 819.2 494.7 820.5 494.6 821.7 494.5 823.0 494.4 824.2 494.8 825.5 494.1 826.7 494.1 828.0 494.2 829.2 494.4 830.5 493.8 831.7 493.6 833.0 493.6 834.2 494.1 835.5 494.0 836.7 493.9 838.0 493.7 839.2 494.1 840.5 494.2 841.7 494.4 843.0 494.6 844.2 494.9 845.5 494.6 846.7 494.6 848.0 494.8 849.2 495.4 850.5 495.6 851.7 495.4 853.0 495.7 854.2 495.6 855.5 496.2 856.7 496.3 858.0 496.2 859.2 496.2 860.5 496.3 861.7 496.0 863.0 496.7 864.2 496.3 865.5 496.3 866.7 496.9 868.0 496.5 869.2 496.1 870.5 496.2 871.7 496.7 873.0 496.5 874.2 496.6 875.5 496.3 876.7 496.0 878.0 496.5 879.2 495.8 880.5 496.1 881.7 496.4 883.0 496.6 884.2 496.8 885.5 496.6 886.7 496.4 888.0 496.9 889.2 496.4 890.5 496.7 891.7 496.7 893.0 496.8 894.2 496.4 895.5 497.0 896.7 496.6 898.0 496.3 899.2 496.6 900.5 496.1 901.7 496.1 903.0 495.5 904.2 495.4 905.5 495.2 906.7 494.6 908.0 494.7 909.2 494.5 910.5 494.3 911.7 493.9 913.0 494.1 914.2 494.4 915.5 494.2 916.7 494.1 918.0 493.8 919.2 494.1 920.5 493.9 921.7 494.0 923.0 494.0 924.2 494.0 925.5 493.9 926.7 493.8 928.0 494.1 929.2 494.0 930.5 494.0 931.7 494.3 933.0 494.4 934.2 494.4 935.5 494.6 936.7 494.7 938.0 494.7 939.2 494.6 940.5 494.8 941.7 495.0 943.0 494.5 944.2 494.6 945.5 494.8 946.7 494.7 948.0 494.3 949.2 494.9 950.5 494.9 951.7 495.2 953.0 494.8 954.2 495.2 955.5 495.1 956.7 495.1 958.0 495.2 959.2 495.1 960.5 494.9 961.7 495.2 963.0 495.2 964.2 494.9 965.5 494.8 966.7 495.4 968.0 495.4 969.2 495.5 970.5 495.2 971.7 495.8 973.0 495.1 974.2 495.8 975.5 495.7 976.7 495.6 978.0 496.2 979.2 496.0 980.5 495.8 981.7 495.8 983.0 495.8 984.2 495.7 985.5 495.0 986.7 495.6 988.0 495.6 989.2 495.0 990.5 495.2 991.7 495.2 993.0 495.5 994.2 495.3 995.5 494.7 996.7 495.0 998.0 494.6 999.2 494.4 1000.5 494.5 1001.7 494.7 1003.0 494.6 1004.2 494.2 1005.5 494.1 1006.7 494.2 1008.0 494.0 1009.2 494.3 1010.5 494.3 1011.7 494.2 1013.0 494.1 1014.2 494.3 1015.5 494.1 1016.7 493.5 1018.0 494.0 1019.2 493.8 1020.5 494.1 1021.7 494.0 1023.0 494.0 1024.2 493.5 1025.5 493.8 1026.7 493.1 1028.0 493.5 1029.2 493.3 1030.5 493.4 1031.7 493.5 1033.0 493.0 1034.2 493.3 1035.5 493.3 1036.7 492.7 1038.0 493.1 1039.2 492.8 1040.5 493.2 1041.7 492.7 1043.0 492.9 1044.2 492.5 1045.5 492.4 1046.7 492.7 1048.0 492.8 1049.2 492.9 1050.5 493.0 1051.7 492.4 1053.0 492.8 1054.2 492.5 1055.5 492.3 1056.7 492.5 1058.0 492.4 1059.2 492.8 1060.5 492.7 1061.7 492.5 1063.0 492.7 1064.2 492.6 1065.5 492.6 1066.7 492.5 1068.0 492.1 1069.2 492.3 1070.5 492.3 1071.7 492.5 1073.0 492.7 1074.2 492.8 1075.5 493.0 1076.7 493.5 1078.0 493.4 1079.2 493.4 1080.5 493.4 1081.7 493.7 1083.0 493.6 1084.2 493.7 1085.5 493.8 1086.7 493.8 1088.0 493.9 1089.2 493.8 1090.5 494.2 1091.7 493.7 1093.0 494.0 1094.2 494.2 1095.5 494.3 1096.7 494.3 1098.0 494.7 1099.2 494.1 1100.5 494.6 1101.7 494.9 1103.0 495.0 1104.2 495.0 1105.5 494.7 1106.7 495.2 1108.0 495.4 1109.2 495.1 1110.5 495.5 1111.7 495.4 1113.0 495.3 1114.2 495.4 1115.5 495.5 1116.7 495.7 1118.0 495.6 1119.2 495.6 1120.5 495.4 1121.7 495.3 1123.0 495.6 1124.2 495.4 1125.5 495.2 1126.7 495.0 1128.0 494.9 1129.2 495.1 1130.5 494.9 1131.7 495.2 1133.0 495.0 1134.2 494.8 1135.5 494.4 1136.7 494.8 1138.0 494.8 1139.2 494.9 1140.5 494.4 1141.7 494.3 1143.0 494.2 1144.2 494.6 1145.5 494.2 1146.7 494.1 1148.0 494.0 1149.2 494.0 1150.5 494.2 1151.7 493.6 1153.0 493.5 1154.2 493.8 1155.5 493.8 1156.7 494.1 1158.0 493.5 1159.2 493.7 1160.5 493.9 1161.7 493.6 1163.0 493.2 1164.2 493.2 1165.5 493.3 1166.7 493.3 1168.0 493.6 1169.2 493.2 1170.5 493.3 1171.7 493.2 1173.0 492.4 1174.2 493.2 1175.5 492.7 1176.7 493.2 1178.0 492.5 1179.2 493.0 1180.5 492.9 1181.7 493.1 1183.0 492.7 1184.2 492.5 1185.5 492.6 1186.7 492.2 1188.0 492.2 1189.2 492.1 1190.5 492.4 1191.7 492.8 1193.0 492.7 1194.2 492.6 1195.5 492.9 1196.7 492.6 1198.0 492.5 1199.2 493.1 1200.5 492.7 1201.7 493.0 1203.0 492.9 1204.2 493.4 1205.5 493.2 1206.7 493.1 1208.0 493.2 1209.2 493.5 1210.5 493.2 1211.7 493.1 1213.0 493.4 1214.2 493.2 1215.5 493.7 1216.7 493.8 1218.0 493.7 1219.2 493.8 1220.5 493.8 1221.7 494.0 1223.0 494.2 1224.2 494.7 1225.5 494.4 1226.7 494.4 1228.0 494.8 1229.2 494.5 1230.5 494.9 1231.7 495.3 1233.0 495.1 1234.2 495.2 1235.5 495.5 1236.7 495.5 1238.0 495.2 1239.2 495.8 1240.5 496.3 1241.7 496.0 1243.0 495.8 1244.2 496.1 1245.5 496.4 1246.7 496.7 1248.0 496.6 1249.2 496.1 1250.5 496.1 1251.7 496.6 1253.0 495.6 1254.2 495.0 1255.5 495.0 1256.7 494.4 1258.0 494.0 1259.2 493.9 1260.5 494.5 1261.7 494.3 1263.0 494.2 1264.2 494.1 1265.5 494.0 1266.7 493.7 1268.0 494.0 1269.2 494.1 1270.5 493.9 1271.7 494.1 1273.0 493.7 1274.2 493.6 1275.5 494.1 1276.7 494.2 1278.0 494.0 1279.2 494.4 1280.5 494.3 1281.7 494.5 1283.0 494.0 1284.2 494.8 1285.5 494.5 1286.7 494.2 1288.0 494.7 1289.2 494.5 1290.5 494.6 1291.7 494.6 1293.0 494.6 1294.2 494.6 1295.5 494.7 1296.7 494.8 1298.0 494.5 1299.2 495.0 1300.5 494.4 1301.7 494.5 1303.0 494.5 1304.2 494.5 1305.5 494.7 1306.7 494.8 1308.0 494.8 1309.2 495.4 1310.5 495.3 1311.7 495.3 1313.0 495.3 1314.2 495.8 1315.5 495.9 1316.7 495.9 1318.0 496.1 1319.2 496.1 1320.5 496.0 1321.7 496.0 1323.0 496.7 1324.2 496.7 1325.5 496.6 1326.7 496.8 1328.0 497.1 1329.2 496.9 1330.5 496.9 1331.7 496.8 1333.0 497.0 1334.2 497.4 1335.5 497.3 1336.7 497.1 1338.0 497.2 1339.2 497.0 1340.5 497.3 1341.7 496.7 1343.0 497.1 1344.2 496.8 1345.5 496.6 1346.7 496.3 1348.0 496.4 1349.2 496.2 1350.5 496.3 1351.7 495.9 1353.0 496.5 1354.2 496.3 1355.5 496.0 1356.7 496.1 1358.0 495.8 1359.2 495.7 1360.5 495.6 1361.7 495.8 1363.0 495.8 1364.2 495.7 1365.5 495.3 1366.7 495.5 1368.0 495.8 1369.2 495.6 1370.5 495.5 1371.7 495.6 1373.0 495.4 1374.2 495.8 1375.5 495.4 1376.7 495.7 1378.0 495.9 1379.2 495.3 1380.5 495.8 1381.7 496.0 1383.0 496.0 1384.2 495.9 1385.5 495.5 1386.7 496.0 1388.0 495.9 1389.2 496.4 1390.5 496.2 1391.7 496.1 1393.0 496.3 1394.2 496.3 1395.5 496.2 1396.7 496.7 1398.0 496.3 1399.2 496.6 1400.5 496.7 1401.7 496.7 1403.0 496.9 1404.2 496.7 1405.5 496.7 1406.7 497.0 1408.0 496.7 1409.2 496.5 1410.5 496.3 1411.7 496.3 1413.0 496.3 1414.2 496.2 1415.5 496.0 1416.7 495.8 1418.0 495.9 1419.2 495.9 1420.5 496.2 1421.4 496.2"/>
<path class="ln" stroke="#d62728" d="M229.2 779.6 440.0 779.5 800.0 779.9 1140.0 780.8 1421.7 781.6"/>
<path class="ln" stroke="#ff9896" d="M229.2 743.0 440.0 742.2 638.0 742.6 800.0 743.0 1036.0 744.2 1140.0 745.0 1235.0 745.5 1421.7 746.5"/>
<path class="ln" stroke="#9467bd" d="M229.2 624.4 230.4 624.7 231.7 625.0 232.9 625.0 234.2 624.5 235.4 624.7 236.7 624.5 237.9 624.2 239.2 624.7 240.4 624.9 241.7 625.0 242.9 624.9 244.2 624.5 245.4 624.6 246.7 624.4 247.9 624.8 249.2 624.4 250.4 624.8 251.7 625.0 252.9 625.0 254.2 624.7 255.4 625.1 256.7 624.7 257.9 624.5 259.2 624.6 260.4 624.4 261.7 624.4 262.9 624.6 264.2 624.5 265.4 624.2 266.7 624.5 267.9 624.6 269.2 623.8 270.4 624.1 271.7 623.8 272.9 624.0 274.2 624.1 275.4 624.1 276.7 623.7 277.9 623.7 279.2 623.7 280.4 624.1 281.7 624.0 282.9 623.4 284.2 624.0 285.4 623.9 286.7 624.0 287.9 623.6 289.2 623.8 290.4 623.8 291.7 623.4 292.9 623.3 294.2 623.4 295.4 623.1 296.7 623.2 297.9 623.7 299.2 623.7 300.4 622.9 301.7 623.1 302.9 623.3 304.2 623.4 305.4 623.5 306.7 623.3 307.9 623.0 309.2 623.2 310.4 623.6 311.7 623.2 312.9 622.8 314.2 623.4 315.4 623.2 316.7 623.4 317.9 623.0 319.2 623.0 320.4 622.7 321.7 622.4 322.9 622.5 324.2 622.5 325.4 622.1 326.7 622.4 327.9 622.5 329.2 622.0 330.4 622.2 331.7 621.9 332.9 621.9 334.2 622.3 335.4 621.7 336.7 621.5 337.9 621.9 339.2 621.9 340.4 621.9 341.7 621.3 342.9 622.3 344.2 621.8 345.4 622.2 346.7 621.7 347.9 621.9 349.2 621.9 350.4 622.2 351.7 621.7 352.9 621.9 354.2 621.7 355.4 621.9 356.7 621.5 357.9 621.6 359.2 622.1 360.4 621.8 361.7 622.1 362.9 622.0 364.2 621.9 365.4 621.7 366.7 622.0 367.9 621.2 369.2 622.2 370.4 621.0 371.7 621.6 372.9 621.3 374.2 621.3 375.4 621.1 376.7 621.2 377.9 621.8 379.2 621.4 380.4 621.2 381.7 621.3 382.9 621.2 384.2 621.5 385.4 621.1 386.7 621.1 387.9 621.2 389.2 620.8 390.4 620.7 391.7 620.8 392.9 620.6 394.2 620.4 395.4 620.4 396.7 621.0 397.9 620.3 399.2 620.4 400.4 620.3 401.7 620.4 402.9 620.3 404.2 620.4 405.4 620.7 406.7 620.2 407.9 620.4 409.2 620.0 410.4 620.6 411.7 620.6 412.9 620.4 414.2 620.4 415.4 620.1 416.7 620.2 417.9 620.2 419.2 620.1 420.4 620.0 421.7 620.2 422.9 619.8 424.2 620.3 425.4 620.3 426.7 620.2 427.9 619.9 429.2 620.3 430.4 620.3 431.7 620.4 432.9 620.1 434.2 620.0 435.4 620.3 436.7 620.4 437.9 619.7 439.2 620.4 440.4 620.4 441.7 619.9 442.9 620.0 444.2 620.0 445.4 620.0 446.7 619.6 447.9 620.0 449.2 619.9 450.4 619.7 451.7 619.9 452.9 619.6 454.2 619.4 455.4 619.4 456.7 619.3 457.9 619.6 459.2 620.1 460.4 619.6 461.7 620.2 462.9 620.0 464.2 620.0 465.4 619.4 466.7 619.8 467.9 620.2 469.2 620.1 470.4 620.4 471.7 620.0 472.9 620.6 474.2 620.2 475.4 619.9 476.7 620.7 477.9 620.3 479.2 620.3 480.4 620.1 481.7 620.0 482.9 619.9 484.2 620.4 485.4 620.1 486.7 619.6 487.9 619.5 489.2 619.6 490.4 620.2 491.7 620.0 492.9 619.6 494.2 620.2 495.4 620.0 496.7 619.7 497.9 620.3 499.2 619.9 500.4 619.9 501.7 620.0 502.9 620.1 504.2 619.8 505.4 620.2 506.7 620.0 507.9 620.3 509.2 620.5 510.4 620.0 511.7 619.8 513.0 619.6 514.2 619.7 515.5 619.5 516.7 619.0 518.0 619.1 519.2 619.5 520.5 619.4 521.7 619.2 523.0 619.3 524.2 619.0 525.5 619.6 526.7 619.4 528.0 619.6 529.2 619.0 530.5 619.3 531.7 619.4 533.0 619.1 534.2 619.4 535.5 619.2 536.7 619.4 538.0 619.2 539.2 619.4 540.5 619.1 541.7 619.0 543.0 618.6 544.2 619.2 545.5 619.0 546.7 618.6 548.0 618.7 549.2 619.4 550.5 618.8 551.7 618.9 553.0 618.7 554.2 618.5 555.5 618.9 556.7 618.3 558.0 618.1 559.2 618.2 560.5 618.5 561.7 618.6 563.0 617.6 564.2 618.2 565.5 618.4 566.7 618.7 568.0 618.5 569.2 618.2 570.5 617.8 571.7 618.3 573.0 618.0 574.2 618.0 575.5 618.1 576.7 617.9 578.0 617.4 579.2 617.4 580.5 617.4 581.7 617.1 583.0 618.0 584.2 617.3 585.5 617.8 586.7 617.5 588.0 617.5 589.2 617.2 590.5 617.1 591.7 617.4 593.0 616.9 594.2 617.2 595.5 616.8 596.7 617.1 598.0 616.4 599.2 617.0 600.5 617.4 601.7 616.9 603.0 617.0 604.2 616.4 605.5 616.7 606.7 616.5 608.0 616.8 609.2 616.8 610.5 616.7 611.7 616.8 613.0 616.9 614.2 616.2 615.5 616.5 616.7 616.6 618.0 616.9 619.2 616.7 620.5 616.3 621.7 616.4 623.0 616.4 624.2 616.2 625.5 616.0 626.7 616.8 628.0 616.2 629.2 616.7 630.5 616.7 631.7 617.0 633.0 617.0 634.2 617.0 635.5 616.7 636.7 617.2 638.0 617.5 639.2 617.2 640.5 617.1 641.7 617.0 643.0 617.3 644.2 617.5 645.5 617.9 646.7 617.8 648.0 618.2 649.2 617.9 650.5 617.5 651.7 618.0 653.0 618.2 654.2 618.0 655.5 617.7 656.7 616.9 658.0 617.6 659.2 617.6 660.5 617.5 661.7 617.7 663.0 617.8 664.2 617.5 665.5 617.4 666.7 617.3 668.0 617.1 669.2 617.4 670.5 616.8 671.7 616.8 673.0 616.9 674.2 616.7 675.5 616.5 676.7 616.0 678.0 616.0 679.2 616.1 680.5 615.3 681.7 615.8 683.0 615.8 684.2 615.5 685.5 615.6 686.7 615.9 688.0 615.8 689.2 616.7 690.5 615.5 691.7 615.9 693.0 616.2 694.2 615.7 695.5 616.0 696.7 616.2 698.0 616.4 699.2 616.4 700.5 616.6 701.7 616.3 703.0 616.3 704.2 615.8 705.5 615.9 706.7 616.4 708.0 616.1 709.2 616.2 710.5 616.1 711.7 615.6 713.0 616.1 714.2 615.6 715.5 615.9 716.7 615.9 718.0 615.5 719.2 615.9 720.5 615.3 721.7 615.7 723.0 615.5 724.2 615.8 725.5 615.8 726.7 615.6 728.0 615.8 729.2 615.6 730.5 616.1 731.7 615.9 733.0 615.3 734.2 615.6 735.5 615.7 736.7 616.0 738.0 615.5 739.2 615.4 740.5 615.6 741.7 615.7 743.0 615.5 744.2 615.8 745.5 615.6 746.7 615.5 748.0 615.8 749.2 615.8 750.5 615.5 751.7 615.3 753.0 614.4 754.2 615.2 755.5 614.9 756.7 615.1 758.0 614.7 759.2 615.2 760.5 615.2 761.7 614.8 763.0 614.6 764.2 614.7 765.5 614.8 766.7 614.7 768.0 614.7 769.2 614.3 770.5 615.0 771.7 614.9 773.0 615.0 774.2 614.6 775.5 614.6 776.7 614.3 778.0 613.9 779.2 613.9 780.5 613.7 781.7 613.9 783.0 613.8 784.2 613.7 785.5 613.0 786.7 613.7 788.0 613.7 789.2 613.0 790.5 613.5 791.7 613.2 793.0 612.9 794.2 613.4 795.5 613.2 796.7 613.0 798.0 613.1 799.2 612.9 800.5 613.0 801.7 612.7 803.0 612.8 804.2 613.2 805.5 612.7 806.7 612.2 808.0 612.5 809.2 612.2 810.5 612.4 811.7 612.3 813.0 613.0 814.2 612.0 815.5 612.4 816.7 612.2 818.0 612.4 819.2 611.8 820.5 611.7 821.7 612.0 823.0 612.0 824.2 612.1 825.5 611.9 826.7 612.1 828.0 611.5 829.2 611.8 830.5 612.0 831.7 611.8 833.0 611.7 834.2 611.8 835.5 612.0 836.7 611.9 838.0 612.3 839.2 612.0 840.5 611.9 841.7 611.5 843.0 612.4 844.2 612.4 845.5 612.1 846.7 612.1 848.0 612.5 849.2 612.1 850.5 612.6 851.7 612.2 853.0 612.7 854.2 612.5 855.5 612.4 856.7 612.2 858.0 612.8 859.2 612.6 860.5 613.0 861.7 612.9 863.0 612.9 864.2 612.7 865.5 612.7 866.7 612.9 868.0 612.6 869.2 612.9 870.5 613.0 871.7 613.0 873.0 613.1 874.2 613.1 875.5 613.0 876.7 613.2 878.0 612.8 879.2 613.1 880.5 613.3 881.7 613.2 883.0 613.3 884.2 613.4 885.5 613.3 886.7 613.2 888.0 612.9 889.2 613.3 890.5 613.5 891.7 613.4 893.0 613.1 894.2 613.1 895.5 613.0 896.7 613.2 898.0 613.3 899.2 612.7 900.5 612.9 901.7 613.1 903.0 612.7 904.2 612.1 905.5 612.1 906.7 612.0 908.0 612.0 909.2 612.2 910.5 611.7 911.7 611.7 913.0 612.2 914.2 611.9 915.5 612.0 916.7 611.9 918.0 611.7 919.2 611.5 920.5 611.9 921.7 611.8 923.0 611.3 924.2 611.9 925.5 611.3 926.7 612.1 928.0 611.7 929.2 612.1 930.5 612.5 931.7 612.0 933.0 612.0 934.2 612.1 935.5 612.2 936.7 612.2 938.0 612.1 939.2 612.1 940.5 612.6 941.7 612.5 943.0 612.5 944.2 612.4 945.5 612.2 946.7 612.6 948.0 612.9 949.2 612.4 950.5 612.7 951.7 613.1 953.0 612.4 954.2 612.8 955.5 612.8 956.7 612.5 958.0 612.6 959.2 612.8 960.5 612.4 961.7 612.6 963.0 612.5 964.2 613.0 965.5 612.8 966.7 612.6 968.0 612.8 969.2 612.6 970.5 613.1 971.7 612.7 973.0 613.3 974.2 613.0 975.5 612.8 976.7 613.2 978.0 613.2 979.2 612.8 980.5 612.8 981.7 612.6 983.0 613.4 984.2 612.6 985.5 612.4 986.7 612.9 988.0 612.7 989.2 612.5 990.5 612.7 991.7 612.6 993.0 612.8 994.2 612.8 995.5 612.7 996.7 612.9 998.0 612.6 999.2 613.0 1000.5 612.2 1001.7 612.4 1003.0 612.1 1004.2 612.3 1005.5 612.1 1006.7 612.3 1008.0 612.7 1009.2 612.3 1010.5 612.0 1011.7 612.5 1013.0 611.5 1014.2 612.0 1015.5 611.9 1016.7 612.1 1018.0 612.0 1019.2 611.9 1020.5 611.5 1021.7 611.2 1023.0 611.7 1024.2 611.5 1025.5 611.9 1026.7 611.2 1028.0 611.4 1029.2 611.4 1030.5 611.8 1031.7 611.9 1033.0 611.8 1034.2 611.2 1035.5 611.3 1036.7 611.2 1038.0 611.5 1039.2 611.7 1040.5 610.9 1041.7 611.3 1043.0 611.7 1044.2 611.4 1045.5 611.3 1046.7 611.6 1048.0 610.8 1049.2 611.3 1050.5 611.3 1051.7 611.2 1053.0 611.3 1054.2 611.5 1055.5 611.1 1056.7 611.0 1058.0 611.5 1059.2 611.0 1060.5 611.4 1061.7 611.1 1063.0 611.5 1064.2 611.6 1065.5 611.5 1066.7 611.1 1068.0 611.4 1069.2 611.3 1070.5 611.2 1071.7 611.6 1073.0 611.3 1074.2 611.6 1075.5 611.9 1076.7 611.9 1078.0 611.6 1079.2 611.9 1080.5 612.3 1081.7 611.9 1083.0 611.7 1084.2 611.7 1085.5 611.8 1086.7 612.1 1088.0 611.3 1089.2 612.2 1090.5 612.0 1091.7 612.4 1093.0 612.3 1094.2 612.3 1095.5 612.5 1096.7 612.5 1098.0 612.4 1099.2 612.4 1100.5 612.0 1101.7 611.9 1103.0 612.3 1104.2 612.3 1105.5 612.2 1106.7 612.2 1108.0 612.8 1109.2 612.6 1110.5 612.9 1111.7 612.5 1113.0 612.8 1114.2 612.0 1115.5 612.6 1116.7 612.2 1118.0 612.7 1119.2 612.7 1120.5 612.1 1121.7 612.4 1123.0 612.8 1124.2 612.7 1125.5 612.0 1126.7 612.5 1128.0 612.5 1129.2 612.5 1130.5 612.2 1131.7 612.6 1133.0 612.2 1134.2 612.1 1135.5 611.9 1136.7 612.0 1138.0 611.7 1139.2 611.5 1140.5 611.6 1141.7 611.9 1143.0 611.8 1144.2 612.1 1145.5 611.3 1146.7 612.1 1148.0 612.0 1149.2 611.9 1150.5 612.1 1151.7 611.8 1153.0 611.9 1154.2 611.7 1155.5 611.8 1156.7 611.5 1158.0 611.7 1159.2 611.0 1160.5 611.6 1161.7 611.8 1163.0 611.4 1164.2 611.4 1165.5 611.5 1166.7 611.4 1168.0 611.3 1169.2 611.1 1170.5 611.5 1171.7 611.5 1173.0 610.9 1174.2 611.5 1175.5 611.3 1176.7 611.1 1178.0 611.0 1179.2 611.0 1180.5 611.5 1181.7 611.0 1183.0 611.1 1184.2 610.6 1185.5 610.9 1186.7 610.9 1188.0 610.9 1189.2 611.0 1190.5 610.9 1191.7 610.5 1193.0 611.0 1194.2 611.2 1195.5 611.1 1196.7 611.5 1198.0 611.0 1199.2 610.7 1200.5 611.6 1201.7 611.4 1203.0 611.2 1204.2 611.0 1205.5 611.2 1206.7 611.4 1208.0 611.4 1209.2 611.4 1210.5 611.6 1211.7 611.4 1213.0 611.7 1214.2 611.3 1215.5 611.5 1216.7 611.5 1218.0 611.5 1219.2 611.5 1220.5 611.7 1221.7 611.3 1223.0 611.9 1224.2 611.5 1225.5 611.9 1226.7 611.8 1228.0 611.9 1229.2 612.1 1230.5 612.4 1231.7 612.2 1233.0 612.0 1234.2 612.4 1235.5 612.4 1236.7 612.0 1238.0 612.3 1239.2 612.1 1240.5 612.8 1241.7 612.7 1243.0 612.7 1244.2 612.9 1245.5 612.5 1246.7 613.1 1248.0 613.0 1249.2 613.3 1250.5 612.9 1251.7 613.4 1253.0 612.9 1254.2 611.9 1255.5 611.9 1256.7 611.9 1258.0 612.1 1259.2 611.4 1260.5 611.8 1261.7 611.8 1263.0 611.7 1264.2 611.9 1265.5 611.4 1266.7 611.1 1268.0 611.5 1269.2 611.6 1270.5 611.5 1271.7 611.5 1273.0 611.5 1274.2 611.5 1275.5 611.4 1276.7 611.7 1278.0 611.8 1279.2 612.0 1280.5 612.1 1281.7 612.1 1283.0 612.2 1284.2 611.9 1285.5 612.3 1286.7 612.2 1288.0 612.6 1289.2 611.7 1290.5 612.0 1291.7 612.6 1293.0 612.3 1294.2 612.4 1295.5 612.1 1296.7 612.4 1298.0 612.0 1299.2 611.9 1300.5 612.7 1301.7 612.4 1303.0 612.1 1304.2 612.2 1305.5 613.0 1306.7 612.3 1308.0 612.6 1309.2 612.3 1310.5 612.8 1311.7 612.8 1313.0 612.4 1314.2 612.7 1315.5 613.2 1316.7 613.0 1318.0 613.2 1319.2 613.0 1320.5 613.5 1321.7 613.1 1323.0 613.4 1324.2 613.5 1325.5 613.4 1326.7 613.0 1328.0 613.0 1329.2 614.2 1330.5 613.7 1331.7 613.5 1333.0 613.5 1334.2 613.9 1335.5 613.4 1336.7 614.0 1338.0 613.8 1339.2 613.5 1340.5 613.8 1341.7 613.7 1343.0 613.6 1344.2 613.3 1345.5 613.9 1346.7 613.3 1348.0 613.1 1349.2 613.1 1350.5 613.0 1351.7 613.1 1353.0 613.0 1354.2 612.6 1355.5 613.2 1356.7 613.0 1358.0 613.2 1359.2 613.0 1360.5 613.0 1361.7 612.9 1363.0 612.7 1364.2 612.8 1365.5 613.1 1366.7 613.2 1368.0 613.0 1369.2 613.4 1370.5 613.3 1371.7 613.0 1373.0 613.2 1374.2 613.3 1375.5 613.1 1376.7 613.1 1378.0 613.3 1379.2 613.4 1380.5 613.3 1381.7 613.3 1383.0 613.5 1384.2 613.3 1385.5 613.9 1386.7 613.3 1388.0 613.8 1389.2 613.3 1390.5 613.4 1391.7 613.9 1393.0 613.7 1394.2 613.3 1395.5 613.7 1396.7 613.5 1398.0 613.2 1399.2 613.3 1400.5 613.5 1401.7 613.5 1403.0 614.0 1404.2 613.5 1405.5 613.8 1406.7 613.8 1408.0 613.5 1409.2 614.0 1410.5 614.0 1411.7 613.7 1413.0 613.2 1414.2 613.6 1415.5 613.0 1416.7 613.3 1418.0 613.3 1419.2 613.4 1420.5 613.7 1421.4 613.4"/>
<path class="ln" stroke="#c5b0d5" d="M229.2 647.5 230.4 648.0 231.7 647.3 232.9 647.6 234.2 647.6 235.4 647.7 236.7 647.5 237.9 647.4 239.2 647.4 240.4 647.2 241.7 647.4 242.9 647.3 244.2 647.6 245.4 647.4 246.7 647.5 247.9 647.0 249.2 647.3 250.4 647.3 251.7 647.3 252.9 647.4 254.2 647.7 255.4 647.6 256.7 647.2 257.9 647.4 259.2 647.3 260.4 647.3 261.7 647.5 262.9 647.2 264.2 647.3 265.4 646.9 266.7 646.9 267.9 647.3 269.2 647.3 270.4 646.9 271.7 647.0 272.9 646.7 274.2 646.9 275.4 647.0 276.7 646.9 277.9 646.9 279.2 646.7 280.4 646.9 281.7 646.8 282.9 646.8 284.2 646.7 285.4 646.4 286.7 646.6 287.9 646.6 289.2 646.5 290.4 646.6 291.7 646.9 292.9 646.2 294.2 646.6 295.4 646.8 296.7 646.7 297.9 646.4 299.2 646.4 300.4 646.5 301.7 646.3 302.9 646.4 304.2 646.5 305.4 646.5 306.7 646.6 307.9 646.2 309.2 646.3 310.4 646.2 311.7 646.0 312.9 646.2 314.2 646.2 315.4 646.2 316.7 645.8 317.9 646.0 319.2 645.8 320.4 645.8 321.7 646.1 322.9 645.8 324.2 645.8 325.4 646.0 326.7 645.7 327.9 646.0 329.2 645.1 330.4 645.4 331.7 645.2 332.9 645.5 334.2 645.5 335.4 645.2 336.7 645.6 337.9 645.0 339.2 645.2 340.4 645.3 341.7 645.0 342.9 645.2 344.2 644.9 345.4 645.4 346.7 645.4 347.9 645.2 349.2 645.4 350.4 645.7 351.7 645.7 352.9 645.6 354.2 645.5 355.4 645.6 356.7 645.2 357.9 645.3 359.2 645.7 360.4 645.3 361.7 645.1 362.9 645.5 364.2 645.4 365.4 645.4 366.7 645.3 367.9 645.0 369.2 644.8 370.4 645.1 371.7 645.0 372.9 645.2 374.2 645.0 375.4 644.9 376.7 644.9 377.9 644.7 379.2 644.7 380.4 644.7 381.7 644.4 382.9 644.6 384.2 644.6 385.4 644.9 386.7 644.3 387.9 644.5 389.2 644.3 390.4 644.4 391.7 644.5 392.9 644.3 394.2 644.3 395.4 644.7 396.7 644.0 397.9 643.7 399.2 643.6 400.4 644.2 401.7 644.0 402.9 643.7 404.2 643.7 405.4 644.0 406.7 644.0 407.9 643.9 409.2 644.1 410.4 643.5 411.7 643.8 412.9 643.9 414.2 643.7 415.4 643.7 416.7 643.8 417.9 643.9 419.2 643.8 420.4 643.5 421.7 643.7 422.9 643.8 424.2 643.4 425.4 643.5 426.7 643.6 427.9 643.7 429.2 644.0 430.4 643.2 431.7 643.8 432.9 643.8 434.2 643.7 435.4 643.4 436.7 643.8 437.9 643.6 439.2 643.7 440.4 643.4 441.7 643.5 442.9 643.6 444.2 643.9 445.4 644.1 446.7 643.7 447.9 644.1 449.2 643.8 450.4 643.6 451.7 644.1 452.9 643.9 454.2 644.2 455.4 644.7 456.7 643.7 457.9 644.0 459.2 643.8 460.4 643.8 461.7 644.3 462.9 644.0 464.2 644.1 465.4 644.1 466.7 644.3 467.9 643.8 469.2 644.2 470.4 644.3 471.7 644.4 472.9 644.1 474.2 644.2 475.4 643.7 476.7 643.7 477.9 643.7 479.2 643.9 480.4 644.5 481.7 643.2 482.9 643.3 484.2 643.6 485.4 643.5 486.7 643.3 487.9 643.1 489.2 643.6 490.4 643.5 491.7 643.5 492.9 643.1 494.2 643.4 495.4 643.5 496.7 643.5 497.9 643.4 499.2 643.3 500.4 642.7 501.7 643.4 502.9 643.5 504.2 643.2 505.4 643.1 506.7 643.2 507.9 642.9 509.2 643.4 510.4 643.1 511.7 642.8 513.0 642.9 514.2 642.8 515.5 642.6 516.7 642.9 518.0 642.6 519.2 642.5 520.5 642.5 521.7 642.4 523.0 642.6 524.2 642.5 525.5 642.2 526.7 642.7 528.0 642.8 529.2 643.0 530.5 642.5 531.7 642.8 533.0 642.7 534.2 642.7 535.5 642.7 536.7 643.0 538.0 642.5 539.2 642.6 540.5 642.7 541.7 642.2 543.0 642.5 544.2 642.3 545.5 642.4 546.7 642.6 548.0 642.1 549.2 642.3 550.5 642.3 551.7 642.0 553.0 642.0 554.2 642.3 555.5 641.8 556.7 641.9 558.0 642.0 559.2 641.8 560.5 642.3 561.7 641.8 563.0 641.7 564.2 641.7 565.5 641.9 566.7 641.8 568.0 642.0 569.2 641.3 570.5 641.0 571.7 641.7 573.0 641.7 574.2 641.3 575.5 641.5 576.7 641.5 578.0 641.4 579.2 641.3 580.5 641.3 581.7 641.0 583.0 640.9 584.2 641.2 585.5 641.1 586.7 641.2 588.0 640.7 589.2 641.0 590.5 641.1 591.7 640.6 593.0 640.5 594.2 640.3 595.5 640.4 596.7 640.5 598.0 640.4 599.2 640.9 600.5 640.3 601.7 640.5 603.0 640.5 604.2 640.4 605.5 640.4 606.7 640.6 608.0 640.6 609.2 640.5 610.5 640.5 611.7 640.7 613.0 640.9 614.2 640.9 615.5 640.3 616.7 640.6 618.0 640.2 619.2 640.4 620.5 640.0 621.7 640.2 623.0 640.1 624.2 640.7 625.5 640.5 626.7 640.4 628.0 640.6 629.2 640.7 630.5 640.6 631.7 640.4 633.0 640.9 634.2 640.5 635.5 640.6 636.7 640.4 638.0 640.8 639.2 640.6 640.5 640.3 641.7 640.6 643.0 640.2 644.2 640.8 645.5 640.6 646.7 640.9 648.0 640.8 649.2 641.1 650.5 640.7 651.7 641.1 653.0 640.7 654.2 641.1 655.5 640.7 656.7 640.4 658.0 641.0 659.2 640.7 660.5 641.0 661.7 640.6 663.0 640.5 664.2 640.8 665.5 640.5 666.7 640.1 668.0 639.9 669.2 640.1 670.5 640.1 671.7 640.3 673.0 639.9 674.2 640.1 675.5 640.1 676.7 640.1 678.0 639.9 679.2 639.7 680.5 639.3 681.7 639.4 683.0 639.6 684.2 639.6 685.5 639.8 686.7 639.2 688.0 639.6 689.2 639.1 690.5 639.5 691.7 639.4 693.0 639.2 694.2 639.5 695.5 639.8 696.7 639.8 698.0 639.1 699.2 639.5 700.5 638.9 701.7 639.7 703.0 639.2 704.2 639.3 705.5 639.7 706.7 639.3 708.0 639.3 709.2 639.4 710.5 639.4 711.7 638.8 713.0 639.2 714.2 639.1 715.5 638.6 716.7 639.1 718.0 639.2 719.2 639.1 720.5 639.0 721.7 639.1 723.0 639.2 724.2 639.0 725.5 639.0 726.7 638.9 728.0 639.2 729.2 639.3 730.5 639.3 731.7 639.3 733.0 639.3 734.2 639.0 735.5 639.4 736.7 639.0 738.0 639.1 739.2 639.2 740.5 638.6 741.7 638.8 743.0 639.2 744.2 639.1 745.5 638.8 746.7 638.4 748.0 638.7 749.2 638.6 750.5 638.4 751.7 638.1 753.0 638.5 754.2 638.3 755.5 638.8 756.7 638.5 758.0 638.2 759.2 638.0 760.5 637.9 761.7 638.4 763.0 637.8 764.2 637.8 765.5 637.6 766.7 638.1 768.0 637.8 769.2 638.0 770.5 637.7 771.7 638.0 773.0 637.7 774.2 637.3 775.5 637.4 776.7 637.4 778.0 637.7 779.2 637.1 780.5 637.8 781.7 637.1 783.0 637.1 784.2 636.9 785.5 637.4 786.7 636.9 788.0 637.0 789.2 637.0 790.5 637.4 791.7 636.9 793.0 636.8 794.2 636.8 795.5 636.7 796.7 637.3 798.0 636.9 799.2 636.7 800.5 636.9 801.7 636.6 803.0 636.8 804.2 636.8 805.5 636.6 806.7 636.7 808.0 636.3 809.2 635.9 810.5 636.5 811.7 636.2 813.0 636.1 814.2 636.1 815.5 636.1 816.7 636.1 818.0 635.7 819.2 635.6 820.5 635.8 821.7 635.7 823.0 635.5 824.2 635.4 825.5 635.0 826.7 635.8 828.0 635.7 829.2 635.3 830.5 635.3 831.7 635.6 833.0 635.7 834.2 635.2 835.5 635.5 836.7 635.4 838.0 635.4 839.2 635.6 840.5 635.0 841.7 635.8 843.0 635.6 844.2 635.4 845.5 635.3 846.7 635.3 848.0 635.7 849.2 635.9 850.5 635.1 851.7 635.3 853.0 635.7 854.2 635.9 855.5 635.8 856.7 635.6 858.0 635.9 859.2 635.8 860.5 635.5 861.7 635.7 863.0 635.6 864.2 635.6 865.5 635.7 866.7 635.7 868.0 635.0 869.2 635.7 870.5 635.9 871.7 635.8 873.0 636.1 874.2 636.1 875.5 635.5 876.7 636.0 878.0 636.1 879.2 636.4 880.5 636.0 881.7 636.0 883.0 636.2 884.2 636.3 885.5 636.0 886.7 635.8 888.0 636.4 889.2 636.6 890.5 636.6 891.7 635.8 893.0 636.1 894.2 636.0 895.5 635.7 896.7 635.7 898.0 636.3 899.2 635.5 900.5 635.6 901.7 635.7 903.0 635.4 904.2 635.2 905.5 635.4 906.7 635.3 908.0 635.5 909.2 635.2 910.5 634.9 911.7 635.3 913.0 635.2 914.2 634.8 915.5 635.4 916.7 635.1 918.0 634.6 919.2 634.9 920.5 634.9 921.7 634.9 923.0 635.1 924.2 635.0 925.5 634.7 926.7 634.4 928.0 634.8 929.2 635.0 930.5 634.8 931.7 634.8 933.0 635.0 934.2 634.7 935.5 635.1 936.7 634.8 938.0 634.9 939.2 634.8 940.5 635.2 941.7 635.4 943.0 634.8 944.2 634.9 945.5 635.0 946.7 635.1 948.0 634.5 949.2 634.9 950.5 635.5 951.7 635.3 953.0 635.0 954.2 634.9 955.5 635.0 956.7 635.2 958.0 635.4 959.2 634.9 960.5 634.6 961.7 635.2 963.0 635.3 964.2 635.8 965.5 635.4 966.7 635.3 968.0 635.4 969.2 635.1 970.5 635.4 971.7 635.5 973.0 635.4 974.2 635.3 975.5 635.5 976.7 635.4 978.0 635.2 979.2 635.6 980.5 635.4 981.7 635.7 983.0 635.6 984.2 635.0 985.5 635.3 986.7 635.4 988.0 635.4 989.2 635.3 990.5 634.8 991.7 635.0 993.0 635.7 994.2 635.1 995.5 634.7 996.7 634.9 998.0 634.6 999.2 635.0 1000.5 634.8 1001.7 635.0 1003.0 634.6 1004.2 634.8 1005.5 634.3 1006.7 634.7 1008.0 634.5 1009.2 634.2 1010.5 634.3 1011.7 634.7 1013.0 634.3 1014.2 634.4 1015.5 634.1 1016.7 634.2 1018.0 634.2 1019.2 634.2 1020.5 634.4 1021.7 634.2 1023.0 634.4 1024.2 634.1 1025.5 634.1 1026.7 633.9 1028.0 633.9 1029.2 634.0 1030.5 633.9 1031.7 633.5 1033.0 633.9 1034.2 633.6 1035.5 633.7 1036.7 633.6 1038.0 633.4 1039.2 633.7 1040.5 633.6 1041.7 633.5 1043.0 633.8 1044.2 633.5 1045.5 633.5 1046.7 633.4 1048.0 634.3 1049.2 633.6 1050.5 633.5 1051.7 634.1 1053.0 633.5 1054.2 633.7 1055.5 633.4 1056.7 633.9 1058.0 633.7 1059.2 633.8 1060.5 633.9 1061.7 633.3 1063.0 633.7 1064.2 633.7 1065.5 633.6 1066.7 633.4 1068.0 633.8 1069.2 633.6 1070.5 634.0 1071.7 633.6 1073.0 634.0 1074.2 634.0 1075.5 633.8 1076.7 634.1 1078.0 633.9 1079.2 634.2 1080.5 633.9 1081.7 633.9 1083.0 633.6 1084.2 634.0 1085.5 633.8 1086.7 634.0 1088.0 634.2 1089.2 634.2 1090.5 634.4 1091.7 634.3 1093.0 634.2 1094.2 634.5 1095.5 634.1 1096.7 634.6 1098.0 634.0 1099.2 633.9 1100.5 634.3 1101.7 634.2 1103.0 634.5 1104.2 634.3 1105.5 634.4 1106.7 634.1 1108.0 634.3 1109.2 634.7 1110.5 634.7 1111.7 634.6 1113.0 634.5 1114.2 634.7 1115.5 634.6 1116.7 634.7 1118.0 634.3 1119.2 634.8 1120.5 634.5 1121.7 634.6 1123.0 634.4 1124.2 634.7 1125.5 635.1 1126.7 634.7 1128.0 634.9 1129.2 634.8 1130.5 634.4 1131.7 634.5 1133.0 634.3 1134.2 634.6 1135.5 634.2 1136.7 634.4 1138.0 634.4 1139.2 634.2 1140.5 634.0 1141.7 634.2 1143.0 634.6 1144.2 634.1 1145.5 634.2 1146.7 634.6 1148.0 634.3 1149.2 634.1 1150.5 634.0 1151.7 634.4 1153.0 634.0 1154.2 634.0 1155.5 634.0 1156.7 633.7 1158.0 633.5 1159.2 633.9 1160.5 633.8 1161.7 633.7 1163.0 633.7 1164.2 633.3 1165.5 633.4 1166.7 633.5 1168.0 633.6 1169.2 633.3 1170.5 633.5 1171.7 633.6 1173.0 633.5 1174.2 633.9 1175.5 633.3 1176.7 633.4 1178.0 633.2 1179.2 633.7 1180.5 633.0 1181.7 633.3 1183.0 633.6 1184.2 633.1 1185.5 632.8 1186.7 633.5 1188.0 633.1 1189.2 633.2 1190.5 632.6 1191.7 633.0 1193.0 633.0 1194.2 633.0 1195.5 633.3 1196.7 633.9 1198.0 633.1 1199.2 633.0 1200.5 633.1 1201.7 632.7 1203.0 633.2 1204.2 633.2 1205.5 633.5 1206.7 633.0 1208.0 633.2 1209.2 633.4 1210.5 633.0 1211.7 632.8 1213.0 633.5 1214.2 633.3 1215.5 633.5 1216.7 633.6 1218.0 633.5 1219.2 633.5 1220.5 633.7 1221.7 633.7 1223.0 633.7 1224.2 633.7 1225.5 633.4 1226.7 633.8 1228.0 634.1 1229.2 634.0 1230.5 634.5 1231.7 634.3 1233.0 634.4 1234.2 634.4 1235.5 634.7 1236.7 634.7 1238.0 634.7 1239.2 634.5 1240.5 634.8 1241.7 634.6 1243.0 635.0 1244.2 635.2 1245.5 635.0 1246.7 635.2 1248.0 634.6 1249.2 635.0 1250.5 634.8 1251.7 634.9 1253.0 634.1 1254.2 634.2 1255.5 634.2 1256.7 633.7 1258.0 633.7 1259.2 633.9 1260.5 633.4 1261.7 633.4 1263.0 633.7 1264.2 633.4 1265.5 632.7 1266.7 633.6 1268.0 633.2 1269.2 633.7 1270.5 633.3 1271.7 633.4 1273.0 633.4 1274.2 633.4 1275.5 633.5 1276.7 633.8 1278.0 634.0 1279.2 633.7 1280.5 633.7 1281.7 634.2 1283.0 633.5 1284.2 633.8 1285.5 634.4 1286.7 633.6 1288.0 634.2 1289.2 634.2 1290.5 633.9 1291.7 633.8 1293.0 633.9 1294.2 634.2 1295.5 634.0 1296.7 633.9 1298.0 633.8 1299.2 634.1 1300.5 634.4 1301.7 634.1 1303.0 633.7 1304.2 633.9 1305.5 633.8 1306.7 634.0 1308.0 634.4 1309.2 634.1 1310.5 634.0 1311.7 634.1 1313.0 634.1 1314.2 633.8 1315.5 634.4 1316.7 634.1 1318.0 634.0 1319.2 634.2 1320.5 634.8 1321.7 634.8 1323.0 634.4 1324.2 634.3 1325.5 634.4 1326.7 634.9 1328.0 634.8 1329.2 634.5 1330.5 634.7 1331.7 635.3 1333.0 634.6 1334.2 634.6 1335.5 635.1 1336.7 635.1 1338.0 634.6 1339.2 635.0 1340.5 634.5 1341.7 635.0 1343.0 634.6 1344.2 635.2 1345.5 634.4 1346.7 634.6 1348.0 634.4 1349.2 634.1 1350.5 634.8 1351.7 634.6 1353.0 634.9 1354.2 634.4 1355.5 634.6 1356.7 634.0 1358.0 634.2 1359.2 634.0 1360.5 634.3 1361.7 634.5 1363.0 634.1 1364.2 634.2 1365.5 634.4 1366.7 633.8 1368.0 633.9 1369.2 634.5 1370.5 633.8 1371.7 634.5 1373.0 634.5 1374.2 634.0 1375.5 634.9 1376.7 634.9 1378.0 634.3 1379.2 634.5 1380.5 634.4 1381.7 634.4 1383.0 634.3 1384.2 634.3 1385.5 634.4 1386.7 634.4 1388.0 634.6 1389.2 634.8 1390.5 634.4 1391.7 634.2 1393.0 634.5 1394.2 634.6 1395.5 634.8 1396.7 634.6 1398.0 634.3 1399.2 634.2 1400.5 634.9 1401.7 634.8 1403.0 634.7 1404.2 634.5 1405.5 634.7 1406.7 634.7 1408.0 634.9 1409.2 634.3 1410.5 634.9 1411.7 634.2 1413.0 634.5 1414.2 634.9 1415.5 634.4 1416.7 634.5 1418.0 634.2 1419.2 634.6 1420.5 635.0 1421.4 634.7"/>
<path class="ln" stroke="#8c564b" d="M229.2 476.1 230.4 475.7 231.7 476.5 232.9 475.5 234.2 476.4 235.4 476.4 236.7 476.1 237.9 476.2 239.2 475.7 240.4 476.0 241.7 475.5 242.9 475.7 244.2 475.9 245.4 475.1 246.7 476.0 247.9 475.9 249.2 476.0 250.4 475.8 251.7 476.4 252.9 475.8 254.2 475.5 255.4 476.6 256.7 475.3 257.9 475.8 259.2 475.8 260.4 476.2 261.7 476.2 262.9 475.1 264.2 475.7 265.4 475.1 266.7 475.4 267.9 475.1 269.2 475.0 270.4 474.9 271.7 475.7 272.9 474.8 274.2 475.1 275.4 475.0 276.7 474.6 277.9 475.0 279.2 474.6 280.4 474.9 281.7 474.6 282.9 474.9 284.2 474.8 285.4 474.4 286.7 474.6 287.9 474.7 289.2 474.7 290.4 474.2 291.7 474.0 292.9 474.2 294.2 473.8 295.4 474.3 296.7 474.0 297.9 474.3 299.2 474.2 300.4 473.8 301.7 474.1 302.9 474.7 304.2 474.0 305.4 473.9 306.7 474.2 307.9 474.2 309.2 473.1 310.4 473.7 311.7 473.7 312.9 473.0 314.2 474.0 315.4 473.5 316.7 472.9 317.9 473.4 319.2 473.0 320.4 472.8 321.7 472.3 322.9 472.2 324.2 472.8 325.4 472.2 326.7 472.3 327.9 471.8 329.2 472.7 330.4 472.6 331.7 472.9 332.9 472.2 334.2 472.6 335.4 471.9 336.7 472.7 337.9 472.8 339.2 472.7 340.4 472.7 341.7 472.4 342.9 472.1 344.2 471.7 345.4 472.3 346.7 471.9 347.9 472.9 349.2 472.4 350.4 471.6 351.7 471.5 352.9 471.7 354.2 471.8 355.4 471.7 356.7 471.9 357.9 471.9 359.2 471.5 360.4 471.5 361.7 471.1 362.9 471.4 364.2 471.4 365.4 471.8 366.7 471.0 367.9 471.7 369.2 472.1 370.4 471.9 371.7 472.4 372.9 472.1 374.2 471.7 375.4 472.0 376.7 472.0 377.9 472.2 379.2 471.8 380.4 471.6 381.7 471.3 382.9 471.3 384.2 470.9 385.4 469.8 386.7 470.6 387.9 470.4 389.2 470.9 390.4 470.3 391.7 470.7 392.9 469.2 394.2 469.9 395.4 470.5 396.7 469.4 397.9 469.9 399.2 469.1 400.4 469.5 401.7 469.7 402.9 468.3 404.2 468.4 405.4 468.5 406.7 469.0 407.9 468.5 409.2 468.7 410.4 468.6 411.7 468.7 412.9 468.8 414.2 468.2 415.4 468.2 416.7 468.6 417.9 468.6 419.2 468.2 420.4 468.7 421.7 468.6 422.9 469.0 424.2 469.2 425.4 468.1 426.7 468.3 427.9 468.8 429.2 468.2 430.4 468.6 431.7 468.0 432.9 468.7 434.2 468.6 435.4 468.5 436.7 468.3 437.9 468.5 439.2 468.7 440.4 468.0 441.7 468.3 442.9 468.1 444.2 467.9 445.4 467.8 446.7 467.5 447.9 468.0 449.2 468.0 450.4 467.2 451.7 467.2 452.9 467.9 454.2 467.9 455.4 467.1 456.7 467.5 457.9 467.0 459.2 467.2 460.4 467.2 461.7 467.5 462.9 467.1 464.2 467.3 465.4 467.3 466.7 467.6 467.9 467.4 469.2 467.3 470.4 467.5 471.7 467.4 472.9 467.1 474.2 466.8 475.4 467.4 476.7 467.1 477.9 467.6 479.2 467.4 480.4 466.7 481.7 466.6 482.9 467.3 484.2 466.6 485.4 466.4 486.7 465.9 487.9 466.1 489.2 466.8 490.4 466.9 491.7 466.7 492.9 466.2 494.2 466.6 495.4 466.3 496.7 467.3 497.9 466.9 499.2 466.5 500.4 466.8 501.7 466.7 502.9 466.8 504.2 466.7 505.4 466.3 506.7 467.1 507.9 466.2 509.2 466.5 510.4 466.6 511.7 466.9 513.0 466.5 514.2 465.9 515.5 465.8 516.7 466.1 518.0 466.0 519.2 465.6 520.5 465.1 521.7 465.9 523.0 466.0 524.2 465.2 525.5 466.3 526.7 466.1 528.0 467.0 529.2 465.9 530.5 466.2 531.7 466.4 533.0 466.6 534.2 465.9 535.5 466.0 536.7 465.7 538.0 465.3 539.2 465.8 540.5 465.8 541.7 465.5 543.0 465.3 544.2 465.2 545.5 465.3 546.7 464.8 548.0 465.3 549.2 464.9 550.5 464.7 551.7 465.0 553.0 464.6 554.2 464.7 555.5 465.0 556.7 464.3 558.0 464.9 559.2 464.9 560.5 464.5 561.7 463.8 563.0 464.7 564.2 464.1 565.5 464.2 566.7 464.2 568.0 463.7 569.2 464.1 570.5 463.3 571.7 463.5 573.0 463.1 574.2 463.0 575.5 462.8 576.7 463.5 578.0 462.9 579.2 462.5 580.5 463.1 581.7 461.9 583.0 462.4 584.2 462.5 585.5 462.1 586.7 461.8 588.0 461.8 589.2 461.9 590.5 461.6 591.7 461.5 593.0 461.2 594.2 461.2 595.5 461.6 596.7 461.6 598.0 460.7 599.2 461.7 600.5 460.1 601.7 460.9 603.0 460.7 604.2 460.8 605.5 461.4 606.7 460.4 608.0 459.5 609.2 460.4 610.5 460.3 611.7 460.6 613.0 460.2 614.2 460.5 615.5 460.4 616.7 459.8 618.0 459.9 619.2 459.7 620.5 460.2 621.7 458.8 623.0 459.2 624.2 458.9 625.5 459.4 626.7 459.6 628.0 459.2 629.2 459.5 630.5 460.1 631.7 460.4 633.0 459.4 634.2 460.0 635.5 459.8 636.7 460.9 638.0 461.1 639.2 460.6 640.5 460.5 641.7 460.2 643.0 460.9 644.2 460.3 645.5 459.9 646.7 460.9 648.0 460.7 649.2 460.2 650.5 460.7 651.7 460.8 653.0 460.6 654.2 460.3 655.5 459.9 656.7 459.6 658.0 460.1 659.2 459.7 660.5 459.7 661.7 459.4 663.0 459.6 664.2 459.1 665.5 459.0 666.7 458.6 668.0 458.4 669.2 458.8 670.5 458.4 671.7 459.2 673.0 459.5 674.2 458.1 675.5 457.8 676.7 457.1 678.0 457.9 679.2 455.9 680.5 457.0 681.7 456.4 683.0 455.8 684.2 456.7 685.5 456.2 686.7 456.8 688.0 457.0 689.2 456.7 690.5 455.7 691.7 456.2 693.0 456.5 694.2 457.1 695.5 456.8 696.7 457.2 698.0 456.8 699.2 457.5 700.5 457.3 701.7 457.1 703.0 456.4 704.2 456.4 705.5 456.1 706.7 455.9 708.0 456.0 709.2 455.9 710.5 456.0 711.7 456.4 713.0 455.5 714.2 455.5 715.5 455.6 716.7 456.6 718.0 455.3 719.2 455.7 720.5 455.3 721.7 455.4 723.0 455.7 724.2 455.3 725.5 455.2 726.7 454.5 728.0 454.3 729.2 455.1 730.5 454.7 731.7 455.0 733.0 455.5 734.2 456.1 735.5 455.3 736.7 455.9 738.0 455.3 739.2 454.8 740.5 454.7 741.7 455.6 743.0 455.1 744.2 454.8 745.5 455.1 746.7 454.9 748.0 453.7 749.2 454.5 750.5 454.7 751.7 454.4 753.0 454.4 754.2 454.1 755.5 453.5 756.7 453.4 758.0 453.8 759.2 453.2 760.5 452.9 761.7 453.2 763.0 452.8 764.2 453.4 765.5 452.2 766.7 452.6 768.0 451.9 769.2 452.6 770.5 452.0 771.7 451.5 773.0 451.6 774.2 451.8 775.5 451.0 776.7 451.0 778.0 451.6 779.2 451.1 780.5 451.3 781.7 451.5 783.0 450.4 784.2 450.5 785.5 450.1 786.7 450.3 788.0 450.4 789.2 450.1 790.5 450.3 791.7 450.6 793.0 449.3 794.2 450.3 795.5 449.7 796.7 449.2 798.0 449.3 799.2 449.0 800.5 449.2 801.7 449.4 803.0 448.8 804.2 448.1 805.5 449.3 806.7 448.7 808.0 449.4 809.2 448.7 810.5 448.0 811.7 448.9 813.0 448.5 814.2 447.7 815.5 448.0 816.7 447.9 818.0 448.1 819.2 448.0 820.5 447.5 821.7 447.9 823.0 447.9 824.2 447.4 825.5 447.3 826.7 446.8 828.0 447.7 829.2 447.5 830.5 446.7 831.7 447.1 833.0 447.5 834.2 447.2 835.5 447.5 836.7 447.9 838.0 447.2 839.2 447.6 840.5 447.9 841.7 447.5 843.0 447.1 844.2 447.4 845.5 447.9 846.7 447.7 848.0 447.5 849.2 448.1 850.5 446.5 851.7 447.9 853.0 448.0 854.2 447.4 855.5 447.6 856.7 447.6 858.0 447.7 859.2 447.7 860.5 447.7 861.7 448.0 863.0 447.6 864.2 448.0 865.5 448.2 866.7 447.5 868.0 448.0 869.2 447.7 870.5 447.7 871.7 447.5 873.0 447.5 874.2 447.2 875.5 447.8 876.7 447.4 878.0 447.3 879.2 447.6 880.5 447.4 881.7 447.6 883.0 446.7 884.2 446.9 885.5 447.4 886.7 447.5 888.0 447.1 889.2 446.4 890.5 447.5 891.7 447.7 893.0 446.9 894.2 447.2 895.5 446.8 896.7 446.8 898.0 447.4 899.2 446.5 900.5 445.7 901.7 445.8 903.0 446.0 904.2 446.2 905.5 445.4 906.7 446.0 908.0 444.9 909.2 444.6 910.5 443.6 911.7 445.1 913.0 444.6 914.2 444.6 915.5 444.6 916.7 445.0 918.0 444.0 919.2 444.9 920.5 444.5 921.7 444.0 923.0 444.2 924.2 444.1 925.5 443.7 926.7 444.3 928.0 444.2 929.2 444.6 930.5 444.2 931.7 444.1 933.0 444.4 934.2 444.4 935.5 445.1 936.7 444.4 938.0 445.2 939.2 444.1 940.5 444.8 941.7 444.6 943.0 444.6 944.2 444.5 945.5 444.4 946.7 444.7 948.0 444.3 949.2 444.8 950.5 444.1 951.7 444.1 953.0 444.0 954.2 443.8 955.5 444.8 956.7 444.4 958.0 444.0 959.2 444.5 960.5 443.7 961.7 443.8 963.0 443.7 964.2 444.0 965.5 443.9 966.7 444.2 968.0 444.0 969.2 445.1 970.5 444.5 971.7 444.8 973.0 443.9 974.2 444.8 975.5 444.2 976.7 445.0 978.0 444.5 979.2 444.9 980.5 444.4 981.7 444.3 983.0 444.3 984.2 443.5 985.5 443.1 986.7 443.1 988.0 443.8 989.2 443.3 990.5 443.3 991.7 443.8 993.0 443.1 994.2 443.1 995.5 442.6 996.7 442.4 998.0 442.7 999.2 442.3 1000.5 442.8 1001.7 442.5 1003.0 441.8 1004.2 441.7 1005.5 442.3 1006.7 441.5 1008.0 441.4 1009.2 441.3 1010.5 441.4 1011.7 440.4 1013.0 441.0 1014.2 440.8 1015.5 441.0 1016.7 440.8 1018.0 440.7 1019.2 441.0 1020.5 440.4 1021.7 440.7 1023.0 439.9 1024.2 440.4 1025.5 440.6 1026.7 441.2 1028.0 440.0 1029.2 439.8 1030.5 440.0 1031.7 440.0 1033.0 440.7 1034.2 439.4 1035.5 440.1 1036.7 439.9 1038.0 440.0 1039.2 439.9 1040.5 440.6 1041.7 440.0 1043.0 440.1 1044.2 439.6 1045.5 440.0 1046.7 439.4 1048.0 440.0 1049.2 439.5 1050.5 439.5 1051.7 439.3 1053.0 439.4 1054.2 439.4 1055.5 439.6 1056.7 438.9 1058.0 439.6 1059.2 439.0 1060.5 439.3 1061.7 439.1 1063.0 438.8 1064.2 439.1 1065.5 439.0 1066.7 439.3 1068.0 439.2 1069.2 439.1 1070.5 439.2 1071.7 439.3 1073.0 439.5 1074.2 439.7 1075.5 439.4 1076.7 439.9 1078.0 440.2 1079.2 440.1 1080.5 439.8 1081.7 440.2 1083.0 439.9 1084.2 440.0 1085.5 439.8 1086.7 439.8 1088.0 439.2 1089.2 440.4 1090.5 439.8 1091.7 440.6 1093.0 440.3 1094.2 440.5 1095.5 440.0 1096.7 440.5 1098.0 441.2 1099.2 440.7 1100.5 439.9 1101.7 441.9 1103.0 440.8 1104.2 441.2 1105.5 441.2 1106.7 440.0 1108.0 440.8 1109.2 441.0 1110.5 440.6 1111.7 441.3 1113.0 441.9 1114.2 440.3 1115.5 440.5 1116.7 441.3 1118.0 441.6 1119.2 440.7 1120.5 440.7 1121.7 440.3 1123.0 440.7 1124.2 439.6 1125.5 440.6 1126.7 440.1 1128.0 440.0 1129.2 439.3 1130.5 439.8 1131.7 439.6 1133.0 439.1 1134.2 440.0 1135.5 439.3 1136.7 439.4 1138.0 439.6 1139.2 438.9 1140.5 438.9 1141.7 438.6 1143.0 438.5 1144.2 438.9 1145.5 438.8 1146.7 439.1 1148.0 438.6 1149.2 438.6 1150.5 438.5 1151.7 439.1 1153.0 437.8 1154.2 437.5 1155.5 438.0 1156.7 438.2 1158.0 437.7 1159.2 437.9 1160.5 437.7 1161.7 437.5 1163.0 437.8 1164.2 437.2 1165.5 437.3 1166.7 437.5 1168.0 437.4 1169.2 437.4 1170.5 437.8 1171.7 437.6 1173.0 437.1 1174.2 437.4 1175.5 436.5 1176.7 437.0 1178.0 437.4 1179.2 436.8 1180.5 436.6 1181.7 436.9 1183.0 437.1 1184.2 437.1 1185.5 437.0 1186.7 436.9 1188.0 437.0 1189.2 436.1 1190.5 437.5 1191.7 436.3 1193.0 436.4 1194.2 436.8 1195.5 437.5 1196.7 436.9 1198.0 437.2 1199.2 437.1 1200.5 436.5 1201.7 437.2 1203.0 437.2 1204.2 437.2 1205.5 437.6 1206.7 437.1 1208.0 436.9 1209.2 437.4 1210.5 436.8 1211.7 436.2 1213.0 437.2 1214.2 436.8 1215.5 437.5 1216.7 436.9 1218.0 437.6 1219.2 436.8 1220.5 438.1 1221.7 437.8 1223.0 437.9 1224.2 438.1 1225.5 437.8 1226.7 437.5 1228.0 437.9 1229.2 438.5 1230.5 437.5 1231.7 438.4 1233.0 438.7 1234.2 438.9 1235.5 439.4 1236.7 439.3 1238.0 438.7 1239.2 439.1 1240.5 439.7 1241.7 439.4 1243.0 439.4 1244.2 439.9 1245.5 439.4 1246.7 439.4 1248.0 439.0 1249.2 439.7 1250.5 438.7 1251.7 438.7 1253.0 438.8 1254.2 437.5 1255.5 437.5 1256.7 437.3 1258.0 437.2 1259.2 436.7 1260.5 437.3 1261.7 436.4 1263.0 436.9 1264.2 437.1 1265.5 436.3 1266.7 437.0 1268.0 436.6 1269.2 436.9 1270.5 436.9 1271.7 437.1 1273.0 437.2 1274.2 436.9 1275.5 437.1 1276.7 436.7 1278.0 436.7 1279.2 437.4 1280.5 437.3 1281.7 437.3 1283.0 437.7 1284.2 437.1 1285.5 437.3 1286.7 437.3 1288.0 437.2 1289.2 437.7 1290.5 437.8 1291.7 437.9 1293.0 438.0 1294.2 437.5 1295.5 437.2 1296.7 437.5 1298.0 437.7 1299.2 437.4 1300.5 437.8 1301.7 438.0 1303.0 437.6 1304.2 437.3 1305.5 436.9 1306.7 437.9 1308.0 438.1 1309.2 438.0 1310.5 437.7 1311.7 437.8 1313.0 438.4 1314.2 438.5 1315.5 438.8 1316.7 438.8 1318.0 438.9 1319.2 438.6 1320.5 438.2 1321.7 438.5 1323.0 438.3 1324.2 439.2 1325.5 438.7 1326.7 438.4 1328.0 439.1 1329.2 438.7 1330.5 438.3 1331.7 439.2 1333.0 438.5 1334.2 438.9 1335.5 439.0 1336.7 438.5 1338.0 438.9 1339.2 438.7 1340.5 439.5 1341.7 438.7 1343.0 438.3 1344.2 438.7 1345.5 438.2 1346.7 438.7 1348.0 438.4 1349.2 438.8 1350.5 438.1 1351.7 438.1 1353.0 438.4 1354.2 438.2 1355.5 438.0 1356.7 437.5 1358.0 437.5 1359.2 438.0 1360.5 437.3 1361.7 437.4 1363.0 437.6 1364.2 437.7 1365.5 437.7 1366.7 437.2 1368.0 437.2 1369.2 437.2 1370.5 437.4 1371.7 437.7 1373.0 437.0 1374.2 436.9 1375.5 437.7 1376.7 437.3 1378.0 437.6 1379.2 437.7 1380.5 437.5 1381.7 437.4 1383.0 437.4 1384.2 437.7 1385.5 438.0 1386.7 437.5 1388.0 437.6 1389.2 437.5 1390.5 437.5 1391.7 438.1 1393.0 437.9 1394.2 437.4 1395.5 437.3 1396.7 437.9 1398.0 437.7 1399.2 437.7 1400.5 437.8 1401.7 437.8 1403.0 438.1 1404.2 439.3 1405.5 437.5 1406.7 438.0 1408.0 438.0 1409.2 437.2 1410.5 437.3 1411.7 438.0 1413.0 437.7 1414.2 437.4 1415.5 438.1 1416.7 437.3 1418.0 437.6 1419.2 437.4 1420.5 437.9 1421.4 437.6"/>
<path class="ln" stroke="#c49c94" d="M229.2 669.7 230.4 670.0 231.7 670.2 232.9 669.8 234.2 669.6 235.4 669.7 236.7 669.7 237.9 669.6 239.2 669.5 240.4 669.3 241.7 669.6 242.9 669.4 244.2 669.2 245.4 669.6 246.7 669.2 247.9 669.3 249.2 669.4 250.4 669.4 251.7 669.5 252.9 669.2 254.2 669.1 255.4 669.2 256.7 669.1 257.9 669.3 259.2 669.5 260.4 669.6 261.7 669.1 262.9 669.6 264.2 669.5 265.4 670.2 266.7 670.0 267.9 669.6 269.2 669.6 270.4 669.5 271.7 670.0 272.9 669.9 274.2 670.1 275.4 670.0 276.7 669.7 277.9 670.0 279.2 669.8 280.4 670.1 281.7 669.8 282.9 669.8 284.2 669.6 285.4 670.0 286.7 669.7 287.9 669.7 289.2 669.8 290.4 668.9 291.7 669.2 292.9 669.0 294.2 669.5 295.4 668.8 296.7 668.6 297.9 668.9 299.2 668.7 300.4 669.0 301.7 668.7 302.9 668.5 304.2 668.6 305.4 668.1 306.7 668.5 307.9 668.5 309.2 668.6 310.4 668.6 311.7 668.6 312.9 668.4 314.2 668.2 315.4 668.7 316.7 668.7 317.9 668.9 319.2 668.7 320.4 668.4 321.7 668.6 322.9 668.5 324.2 668.7 325.4 668.8 326.7 668.7 327.9 668.5 329.2 668.6 330.4 668.9 331.7 668.9 332.9 668.8 334.2 669.0 335.4 668.6 336.7 668.9 337.9 669.0 339.2 668.6 340.4 668.4 341.7 668.4 342.9 668.9 344.2 667.9 345.4 668.4 346.7 668.1 347.9 668.6 349.2 667.8 350.4 667.9 351.7 667.5 352.9 667.7 354.2 667.7 355.4 667.6 356.7 667.7 357.9 667.2 359.2 667.1 360.4 667.4 361.7 666.8 362.9 667.0 364.2 667.3 365.4 667.2 366.7 667.7 367.9 667.9 369.2 667.8 370.4 667.8 371.7 668.1 372.9 667.9 374.2 667.9 375.4 668.2 376.7 667.9 377.9 668.1 379.2 667.4 380.4 668.1 381.7 667.8 382.9 668.0 384.2 668.2 385.4 668.0 386.7 668.0 387.9 667.9 389.2 668.0 390.4 668.1 391.7 667.7 392.9 668.1 394.2 668.2 395.4 668.3 396.7 667.9 397.9 667.4 399.2 667.8 400.4 667.5 401.7 667.3 402.9 667.1 404.2 666.8 405.4 667.1 406.7 667.3 407.9 666.9 409.2 666.9 410.4 666.7 411.7 666.2 412.9 665.9 414.2 666.2 415.4 666.5 416.7 666.0 417.9 666.1 419.2 666.1 420.4 666.1 421.7 666.2 422.9 666.1 424.2 665.9 425.4 665.6 426.7 666.1 427.9 666.0 429.2 666.1 430.4 666.5 431.7 666.3 432.9 666.2 434.2 666.1 435.4 666.1 436.7 665.9 437.9 666.5 439.2 666.4 440.4 666.7 441.7 666.8 442.9 666.5 444.2 667.0 445.4 666.6 446.7 666.6 447.9 666.7 449.2 666.7 450.4 666.5 451.7 666.6 452.9 666.9 454.2 666.3 455.4 666.9 456.7 666.4 457.9 666.3 459.2 666.0 460.4 666.1 461.7 666.1 462.9 666.0 464.2 666.1 465.4 666.2 466.7 665.6 467.9 665.6 469.2 665.5 470.4 665.5 471.7 665.9 472.9 665.8 474.2 665.5 475.4 666.0 476.7 665.7 477.9 666.3 479.2 665.8 480.4 666.2 481.7 666.2 482.9 666.8 484.2 666.6 485.4 666.2 486.7 666.6 487.9 666.1 489.2 666.1 490.4 666.3 491.7 665.8 492.9 666.0 494.2 665.8 495.4 666.3 496.7 666.0 497.9 665.8 499.2 665.9 500.4 665.4 501.7 665.9 502.9 665.5 504.2 665.3 505.4 665.5 506.7 665.3 507.9 665.6 509.2 665.5 510.4 665.5 511.7 665.2 513.0 665.3 514.2 665.7 515.5 665.3 516.7 665.7 518.0 665.4 519.2 665.4 520.5 665.4 521.7 665.1 523.0 665.5 524.2 665.3 525.5 665.3 526.7 665.9 528.0 666.2 529.2 665.9 530.5 665.9 531.7 665.8 533.0 665.8 534.2 665.6 535.5 665.4 536.7 665.7 538.0 665.6 539.2 665.1 540.5 665.4 541.7 664.8 543.0 665.1 544.2 665.6 545.5 664.9 546.7 665.4 548.0 665.0 549.2 664.9 550.5 664.7 551.7 664.7 553.0 665.0 554.2 664.5 555.5 664.4 556.7 664.5 558.0 664.4 559.2 664.0 560.5 664.1 561.7 664.2 563.0 664.3 564.2 664.1 565.5 664.2 566.7 664.1 568.0 664.2 569.2 664.1 570.5 664.1 571.7 664.2 573.0 664.0 574.2 663.7 575.5 663.9 576.7 663.6 578.0 664.0 579.2 663.8 580.5 664.0 581.7 663.8 583.0 663.8 584.2 663.7 585.5 663.6 586.7 663.4 588.0 663.5 589.2 663.2 590.5 663.7 591.7 663.8 593.0 663.4 594.2 663.5 595.5 663.4 596.7 663.2 598.0 663.2 599.2 663.2 600.5 663.3 601.7 663.7 603.0 663.1 604.2 662.9 605.5 663.2 606.7 663.4 608.0 663.0 609.2 663.1 610.5 662.7 611.7 663.1 613.0 663.0 614.2 663.0 615.5 663.1 616.7 662.5 618.0 662.8 619.2 662.8 620.5 662.5 621.7 663.0 623.0 662.6 624.2 662.8 625.5 662.6 626.7 662.7 628.0 662.7 629.2 663.0 630.5 662.5 631.7 662.7 633.0 662.8 634.2 662.6 635.5 662.7 636.7 662.7 638.0 662.8 639.2 663.1 640.5 662.4 641.7 662.7 643.0 662.9 644.2 662.9 645.5 662.9 646.7 662.8 648.0 663.0 649.2 663.2 650.5 662.7 651.7 662.6 653.0 663.5 654.2 663.3 655.5 663.0 656.7 663.3 658.0 662.7 659.2 662.9 660.5 663.1 661.7 662.4 663.0 662.6 664.2 662.8 665.5 662.5 666.7 662.3 668.0 662.9 669.2 663.0 670.5 662.8 671.7 662.5 673.0 662.2 674.2 662.5 675.5 662.0 676.7 662.1 678.0 662.0 679.2 661.9 680.5 661.8 681.7 661.8 683.0 661.5 684.2 661.9 685.5 661.2 686.7 661.7 688.0 661.6 689.2 662.0 690.5 662.1 691.7 661.6 693.0 661.4 694.2 661.7 695.5 661.4 696.7 661.3 698.0 661.0 699.2 661.8 700.5 661.5 701.7 661.3 703.0 661.6 704.2 661.1 705.5 661.3 706.7 661.7 708.0 660.7 709.2 661.0 710.5 660.5 711.7 660.7 713.0 661.5 714.2 661.7 715.5 661.8 716.7 661.7 718.0 662.5 719.2 662.0 720.5 662.1 721.7 662.1 723.0 661.5 724.2 661.7 725.5 661.8 726.7 662.1 728.0 661.8 729.2 661.8 730.5 661.8 731.7 661.2 733.0 661.3 734.2 661.9 735.5 661.1 736.7 661.0 738.0 661.7 739.2 661.4 740.5 661.4 741.7 660.9 743.0 661.3 744.2 661.3 745.5 660.9 746.7 661.4 748.0 661.0 749.2 661.2 750.5 660.8 751.7 661.4 753.0 661.0 754.2 660.5 755.5 661.2 756.7 660.8 758.0 660.6 759.2 660.4 760.5 660.5 761.7 660.9 763.0 660.5 764.2 660.9 765.5 660.5 766.7 660.8 768.0 660.7 769.2 660.3 770.5 660.1 771.7 660.6 773.0 660.3 774.2 660.6 775.5 659.9 776.7 659.7 778.0 660.1 779.2 660.0 780.5 659.9 781.7 659.8 783.0 659.3 784.2 659.3 785.5 659.1 786.7 659.3 788.0 659.2 789.2 659.0 790.5 659.0 791.7 658.7 793.0 658.6 794.2 658.6 795.5 658.3 796.7 658.8 798.0 658.6 799.2 658.2 800.5 658.5 801.7 658.0 803.0 658.8 804.2 658.3 805.5 658.8 806.7 658.2 808.0 658.5 809.2 658.5 810.5 658.4 811.7 658.2 813.0 658.3 814.2 658.4 815.5 658.8 816.7 658.2 818.0 659.0 819.2 658.5 820.5 658.3 821.7 658.6 823.0 658.4 824.2 658.3 825.5 658.4 826.7 658.6 828.0 658.3 829.2 658.7 830.5 658.5 831.7 658.5 833.0 658.6 834.2 658.3 835.5 658.3 836.7 658.2 838.0 658.0 839.2 658.2 840.5 658.1 841.7 658.0 843.0 657.8 844.2 657.6 845.5 657.6 846.7 657.6 848.0 657.7 849.2 658.2 850.5 657.4 851.7 657.1 853.0 657.1 854.2 657.3 855.5 657.4 856.7 657.9 858.0 657.9 859.2 657.7 860.5 657.9 861.7 657.9 863.0 658.0 864.2 658.0 865.5 658.3 866.7 658.0 868.0 658.4 869.2 658.4 870.5 658.4 871.7 658.5 873.0 658.7 874.2 658.7 875.5 658.8 876.7 658.4 878.0 658.7 879.2 658.5 880.5 658.6 881.7 658.8 883.0 658.8 884.2 658.7 885.5 658.9 886.7 658.5 888.0 658.9 889.2 658.4 890.5 659.0 891.7 658.9 893.0 658.6 894.2 658.4 895.5 658.3 896.7 658.3 898.0 657.8 899.2 657.4 900.5 657.7 901.7 657.2 903.0 657.3 904.2 656.8 905.5 656.7 906.7 656.5 908.0 656.3 909.2 655.7 910.5 656.1 911.7 656.1 913.0 655.7 914.2 656.2 915.5 655.5 916.7 655.9 918.0 655.8 919.2 655.5 920.5 655.9 921.7 655.8 923.0 655.9 924.2 655.2 925.5 655.6 926.7 655.9 928.0 655.8 929.2 655.7 930.5 656.0 931.7 655.9 933.0 656.0 934.2 656.1 935.5 656.2 936.7 656.5 938.0 656.3 939.2 656.2 940.5 656.3 941.7 656.3 943.0 656.8 944.2 656.6 945.5 656.5 946.7 656.6 948.0 656.8 949.2 656.9 950.5 656.5 951.7 656.5 953.0 657.2 954.2 656.6 955.5 656.7 956.7 656.9 958.0 656.6 959.2 656.3 960.5 656.5 961.7 657.0 963.0 657.5 964.2 656.8 965.5 657.2 966.7 657.1 968.0 657.1 969.2 657.0 970.5 657.4 971.7 657.1 973.0 657.5 974.2 657.1 975.5 656.9 976.7 657.0 978.0 657.2 979.2 657.1 980.5 657.1 981.7 656.5 983.0 656.8 984.2 657.2 985.5 656.7 986.7 656.9 988.0 656.4 989.2 656.4 990.5 657.0 991.7 656.4 993.0 656.3 994.2 655.8 995.5 656.2 996.7 656.2 998.0 655.7 999.2 655.9 1000.5 655.7 1001.7 655.7 1003.0 655.6 1004.2 655.5 1005.5 655.5 1006.7 655.3 1008.0 654.8 1009.2 655.0 1010.5 655.4 1011.7 654.9 1013.0 654.9 1014.2 654.3 1015.5 655.0 1016.7 655.1 1018.0 654.7 1019.2 654.8 1020.5 654.9 1021.7 654.5 1023.0 654.6 1024.2 654.7 1025.5 654.7 1026.7 654.7 1028.0 654.8 1029.2 654.4 1030.5 654.5 1031.7 654.5 1033.0 654.5 1034.2 654.6 1035.5 654.5 1036.7 654.0 1038.0 654.1 1039.2 654.2 1040.5 654.0 1041.7 654.0 1043.0 654.1 1044.2 654.0 1045.5 654.5 1046.7 653.8 1048.0 653.8 1049.2 653.9 1050.5 654.4 1051.7 653.8 1053.0 653.8 1054.2 653.8 1055.5 654.2 1056.7 653.9 1058.0 654.1 1059.2 653.7 1060.5 654.0 1061.7 654.2 1063.0 654.1 1064.2 654.3 1065.5 654.1 1066.7 653.7 1068.0 654.4 1069.2 654.3 1070.5 654.5 1071.7 654.2 1073.0 654.5 1074.2 654.2 1075.5 654.4 1076.7 654.4 1078.0 654.6 1079.2 654.8 1080.5 654.5 1081.7 654.8 1083.0 655.1 1084.2 654.8 1085.5 654.5 1086.7 654.9 1088.0 654.8 1089.2 655.5 1090.5 655.1 1091.7 655.1 1093.0 655.1 1094.2 655.0 1095.5 655.6 1096.7 654.9 1098.0 655.2 1099.2 655.3 1100.5 655.4 1101.7 655.3 1103.0 655.7 1104.2 655.4 1105.5 655.4 1106.7 654.9 1108.0 655.7 1109.2 655.4 1110.5 655.3 1111.7 655.4 1113.0 655.8 1114.2 655.5 1115.5 655.3 1116.7 655.2 1118.0 655.1 1119.2 655.3 1120.5 654.9 1121.7 655.4 1123.0 655.1 1124.2 655.2 1125.5 654.9 1126.7 655.1 1128.0 655.2 1129.2 655.1 1130.5 655.3 1131.7 654.7 1133.0 654.9 1134.2 654.5 1135.5 655.0 1136.7 654.9 1138.0 655.1 1139.2 654.9 1140.5 654.7 1141.7 655.0 1143.0 654.8 1144.2 654.7 1145.5 655.0 1146.7 654.7 1148.0 654.3 1149.2 654.5 1150.5 654.6 1151.7 653.9 1153.0 654.3 1154.2 654.4 1155.5 654.1 1156.7 654.2 1158.0 654.2 1159.2 654.0 1160.5 654.3 1161.7 653.8 1163.0 654.0 1164.2 653.7 1165.5 653.6 1166.7 653.9 1168.0 653.8 1169.2 653.6 1170.5 654.3 1171.7 653.7 1173.0 654.0 1174.2 653.5 1175.5 653.6 1176.7 653.6 1178.0 654.0 1179.2 653.7 1180.5 653.4 1181.7 653.4 1183.0 653.3 1184.2 653.5 1185.5 653.6 1186.7 653.5 1188.0 653.4 1189.2 653.7 1190.5 653.5 1191.7 653.4 1193.0 653.4 1194.2 653.9 1195.5 653.6 1196.7 653.4 1198.0 653.8 1199.2 653.8 1200.5 653.4 1201.7 653.8 1203.0 653.7 1204.2 653.6 1205.5 653.8 1206.7 653.9 1208.0 653.9 1209.2 653.8 1210.5 653.7 1211.7 654.0 1213.0 653.9 1214.2 653.6 1215.5 654.1 1216.7 653.8 1218.0 653.5 1219.2 653.9 1220.5 653.8 1221.7 654.0 1223.0 654.4 1224.2 654.7 1225.5 654.1 1226.7 654.2 1228.0 654.7 1229.2 654.2 1230.5 654.5 1231.7 654.8 1233.0 654.8 1234.2 654.7 1235.5 654.7 1236.7 655.1 1238.0 654.5 1239.2 655.4 1240.5 655.0 1241.7 655.3 1243.0 655.4 1244.2 655.4 1245.5 655.0 1246.7 655.1 1248.0 655.2 1249.2 655.0 1250.5 655.3 1251.7 654.7 1253.0 654.9 1254.2 654.4 1255.5 654.0 1256.7 653.6 1258.0 653.8 1259.2 653.4 1260.5 653.2 1261.7 653.4 1263.0 653.3 1264.2 653.7 1265.5 653.3 1266.7 653.1 1268.0 653.8 1269.2 653.0 1270.5 653.5 1271.7 653.1 1273.0 653.5 1274.2 653.6 1275.5 653.7 1276.7 653.9 1278.0 653.5 1279.2 654.0 1280.5 653.6 1281.7 654.2 1283.0 654.1 1284.2 653.7 1285.5 654.1 1286.7 653.7 1288.0 654.0 1289.2 654.1 1290.5 654.0 1291.7 653.9 1293.0 654.1 1294.2 654.4 1295.5 653.9 1296.7 654.4 1298.0 654.1 1299.2 654.1 1300.5 654.7 1301.7 654.1 1303.0 654.5 1304.2 654.2 1305.5 654.2 1306.7 654.3 1308.0 654.2 1309.2 654.0 1310.5 654.5 1311.7 654.7 1313.0 654.5 1314.2 654.4 1315.5 654.1 1316.7 654.5 1318.0 654.7 1319.2 654.4 1320.5 655.1 1321.7 654.9 1323.0 654.3 1324.2 655.1 1325.5 654.9 1326.7 654.9 1328.0 654.6 1329.2 654.8 1330.5 654.7 1331.7 654.6 1333.0 654.7 1334.2 654.4 1335.5 654.4 1336.7 654.5 1338.0 654.8 1339.2 654.6 1340.5 654.6 1341.7 655.2 1343.0 654.4 1344.2 655.0 1345.5 654.8 1346.7 654.9 1348.0 654.5 1349.2 654.9 1350.5 654.5 1351.7 654.8 1353.0 655.0 1354.2 654.9 1355.5 654.7 1356.7 655.0 1358.0 654.8 1359.2 654.5 1360.5 654.5 1361.7 654.3 1363.0 654.7 1364.2 654.3 1365.5 653.9 1366.7 654.1 1368.0 654.1 1369.2 653.8 1370.5 654.3 1371.7 653.8 1373.0 654.5 1374.2 654.3 1375.5 654.3 1376.7 654.0 1378.0 654.4 1379.2 654.2 1380.5 654.3 1381.7 654.3 1383.0 654.2 1384.2 654.2 1385.5 654.2 1386.7 654.2 1388.0 654.2 1389.2 654.0 1390.5 653.9 1391.7 654.0 1393.0 654.1 1394.2 653.8 1395.5 654.1 1396.7 653.6 1398.0 653.7 1399.2 653.8 1400.5 653.6 1401.7 653.8 1403.0 653.9 1404.2 654.0 1405.5 653.8 1406.7 654.0 1408.0 654.0 1409.2 654.1 1410.5 654.0 1411.7 654.2 1413.0 654.0 1414.2 653.8 1415.5 654.3 1416.7 654.3 1418.0 654.3 1419.2 655.0 1420.5 654.6 1421.4 654.5"/>
<path class="ln" stroke="#e377c2" d="M229.2 728.1 440.0 727.0 800.0 726.6 1036.0 727.0 1140.0 727.5 1235.0 727.6 1421.7 728.4"/>
<path class="ln" stroke="#f7b6d2" d="M229.2 762.5 440.0 762.5 800.0 763.0 1140.0 763.8 1421.7 764.4"/>
<path class="ln" stroke="#7f7f7f" d="M229.2 763.2 440.0 763.1 800.0 763.5 1140.0 764.3 1421.7 765.0"/>
<path class="ln" stroke="#c7c7c7" d="M229.2 93.2 230.4 92.5 231.7 93.5 232.9 92.0 234.2 92.4 235.4 92.9 236.7 93.4 237.9 93.0 239.2 93.1 240.4 92.4 241.7 91.3 242.9 92.5 244.2 92.0 245.4 91.6 246.7 91.5 247.9 91.4 249.2 91.6 250.4 91.4 251.7 91.1 252.9 90.2 254.2 91.2 255.4 90.9 256.7 90.3 257.9 90.9 259.2 90.3 260.4 90.2 261.7 90.1 262.9 89.3 264.2 89.6 265.4 89.1 266.7 88.5 267.9 89.5 269.2 88.4 270.4 88.5 271.7 88.8 272.9 88.4 274.2 88.1 275.4 87.5 276.7 87.2 277.9 86.9 279.2 87.6 280.4 87.3 281.7 86.8 282.9 87.1 284.2 86.9 285.4 86.5 286.7 86.2 287.9 86.2 289.2 85.8 290.4 86.5 291.7 86.2 292.9 85.8 294.2 85.0 295.4 86.2 296.7 86.1 297.9 85.6 299.2 85.9 300.4 84.4 301.7 85.4 302.9 84.7 304.2 85.4 305.4 85.4 306.7 84.7 307.9 85.1 309.2 84.7 310.4 85.0 311.7 84.2 312.9 83.8 314.2 84.1 315.4 83.8 316.7 83.1 317.9 83.3 319.2 83.7 320.4 82.5 321.7 81.6 322.9 81.5 324.2 80.7 325.4 80.4 326.7 81.2 327.9 81.2 329.2 79.8 330.4 80.8 331.7 80.2 332.9 81.2 334.2 79.5 335.4 80.4 336.7 79.7 337.9 80.1 339.2 79.2 340.4 80.2 341.7 79.4 342.9 79.3 344.2 79.2 345.4 79.2 346.7 79.7 347.9 78.5 349.2 78.0 350.4 79.1 351.7 78.1 352.9 78.0 354.2 77.4 355.4 77.8 356.7 78.1 357.9 78.2 359.2 77.4 360.4 77.2 361.7 77.3 362.9 76.8 364.2 77.2 365.4 76.8 366.7 77.2 367.9 77.0 369.2 77.3 370.4 76.1 371.7 76.7 372.9 76.8 374.2 76.1 375.4 76.5 376.7 76.5 377.9 76.1 379.2 76.1 380.4 75.8 381.7 75.4 382.9 75.4 384.2 75.6 385.4 75.4 386.7 74.5 387.9 74.3 389.2 73.2 390.4 73.5 391.7 72.6 392.9 72.5 394.2 72.9 395.4 72.6 396.7 72.1 397.9 72.6 399.2 72.6 400.4 72.1 401.7 72.0 402.9 71.3 404.2 71.0 405.4 71.3 406.7 70.5 407.9 71.4 409.2 70.9 410.4 71.0 411.7 71.4 412.9 70.9 414.2 70.9 415.4 69.9 416.7 70.3 417.9 70.8 419.2 70.9 420.4 70.6 421.7 70.8 422.9 70.9 424.2 70.5 425.4 70.4 426.7 70.7 427.9 69.0 429.2 69.7 430.4 69.4 431.7 70.2 432.9 68.9 434.2 68.6 435.4 69.7 436.7 69.1 437.9 68.3 439.2 68.4 440.4 68.7 441.7 68.5 442.9 68.0 444.2 67.9 445.4 68.2 446.7 67.8 447.9 68.0 449.2 68.3 450.4 67.2 451.7 66.9 452.9 67.3 454.2 67.3 455.4 67.5 456.7 67.7 457.9 66.6 459.2 66.5 460.4 66.9 461.7 67.7 462.9 67.7 464.2 66.9 465.4 67.1 466.7 67.8 467.9 67.6 469.2 67.4 470.4 65.7 471.7 66.4 472.9 65.6 474.2 67.1 475.4 66.6 476.7 66.7 477.9 65.8 479.2 66.2 480.4 66.0 481.7 65.4 482.9 65.6 484.2 65.0 485.4 65.7 486.7 64.4 487.9 64.7 489.2 63.0 490.4 64.6 491.7 64.0 492.9 63.7 494.2 64.3 495.4 64.8 496.7 64.0 497.9 64.1 499.2 64.0 500.4 63.6 501.7 63.7 502.9 64.0 504.2 63.3 505.4 63.8 506.7 63.9 507.9 63.8 509.2 63.3 510.4 63.0 511.7 62.6 513.0 62.6 514.2 62.0 515.5 61.4 516.7 61.9 518.0 61.3 519.2 60.7 520.5 59.6 521.7 60.4 523.0 59.9 524.2 61.8 525.5 61.1 526.7 61.5 528.0 61.4 529.2 60.7 530.5 61.2 531.7 60.9 533.0 60.4 534.2 60.4 535.5 60.8 536.7 60.2 538.0 58.9 539.2 59.2 540.5 59.1 541.7 58.4 543.0 58.7 544.2 58.6 545.5 59.4 546.7 59.0 548.0 58.4 549.2 58.6 550.5 58.8 551.7 58.6 553.0 58.7 554.2 58.4 555.5 58.8 556.7 58.9 558.0 58.6 559.2 59.1 560.5 58.3 561.7 58.5 563.0 58.9 564.2 58.5 565.5 58.8 566.7 58.8 568.0 58.5 569.2 59.0 570.5 58.2 571.7 58.7 573.0 58.5 574.2 58.3 575.5 58.8 576.7 58.5 578.0 58.3 579.2 58.0 580.5 57.1 581.7 56.9 583.0 57.7 584.2 56.3 585.5 57.1 586.7 56.4 588.0 56.0 589.2 56.3 590.5 56.1 591.7 55.3 593.0 56.3 594.2 55.7 595.5 55.3 596.7 55.0 598.0 55.5 599.2 54.9 600.5 54.0 601.7 54.3 603.0 54.5 604.2 54.0 605.5 54.5 606.7 54.5 608.0 53.7 609.2 54.0 610.5 55.0 611.7 53.6 613.0 53.4 614.2 52.8 615.5 52.4 616.7 52.2 618.0 52.7 619.2 52.6 620.5 52.0 621.7 52.1 623.0 51.3 624.2 51.9 625.5 51.4 626.7 51.6 628.0 52.7 629.2 53.0 630.5 52.8 631.7 52.7 633.0 53.2 634.2 53.3 635.5 53.3 636.7 53.8 638.0 53.8 639.2 53.5 640.5 54.3 641.7 53.6 643.0 54.3 644.2 53.5 645.5 53.2 646.7 54.5 648.0 54.3 649.2 54.6 650.5 53.7 651.7 53.1 653.0 53.4 654.2 54.0 655.5 53.5 656.7 53.7 658.0 53.8 659.2 53.5 660.5 53.4 661.7 53.4 663.0 52.7 664.2 52.2 665.5 52.2 666.7 52.2 668.0 52.0 669.2 51.7 670.5 51.7 671.7 50.9 673.0 51.8 674.2 51.4 675.5 50.3 676.7 49.8 678.0 49.7 679.2 49.4 680.5 48.5 681.7 48.9 683.0 49.0 684.2 48.6 685.5 48.0 686.7 49.1 688.0 50.0 689.2 48.3 690.5 49.9 691.7 49.1 693.0 49.7 694.2 48.9 695.5 50.4 696.7 50.8 698.0 50.7 699.2 51.6 700.5 50.6 701.7 50.7 703.0 50.1 704.2 50.3 705.5 49.3 706.7 49.7 708.0 50.5 709.2 49.4 710.5 49.5 711.7 50.1 713.0 49.7 714.2 48.7 715.5 48.9 716.7 48.0 718.0 48.6 719.2 47.9 720.5 48.5 721.7 47.4 723.0 48.5 724.2 47.6 725.5 48.1 726.7 47.5 728.0 47.1 729.2 48.1 730.5 48.8 731.7 48.2 733.0 48.5 734.2 48.7 735.5 49.3 736.7 48.4 738.0 49.2 739.2 48.8 740.5 48.8 741.7 49.2 743.0 49.1 744.2 48.1 745.5 48.2 746.7 49.1 748.0 48.7 749.2 48.4 750.5 47.9 751.7 48.4 753.0 48.5 754.2 47.9 755.5 47.4 756.7 46.8 758.0 46.9 759.2 47.5 760.5 46.8 761.7 46.3 763.0 46.6 764.2 46.9 765.5 46.4 766.7 47.3 768.0 46.1 769.2 46.4 770.5 45.9 771.7 45.4 773.0 45.4 774.2 45.2 775.5 45.9 776.7 45.3 778.0 45.3 779.2 45.4 780.5 45.5 781.7 46.1 783.0 45.6 784.2 44.9 785.5 45.0 786.7 44.4 788.0 45.4 789.2 45.7 790.5 45.2 791.7 46.0 793.0 46.1 794.2 45.1 795.5 45.0 796.7 45.8 798.0 44.4 799.2 44.6 800.5 45.3 801.7 44.6 803.0 45.5 804.2 45.5 805.5 45.1 806.7 44.7 808.0 44.4 809.2 45.0 810.5 44.7 811.7 44.1 813.0 43.8 814.2 43.6 815.5 43.9 816.7 43.2 818.0 43.4 819.2 42.4 820.5 42.3 821.7 42.6 823.0 42.8 824.2 42.0 825.5 42.3 826.7 43.1 828.0 42.5 829.2 41.8 830.5 41.7 831.7 42.3 833.0 42.6 834.2 42.6 835.5 42.4 836.7 41.8 838.0 43.0 839.2 42.5 840.5 42.7 841.7 43.7 843.0 42.8 844.2 43.6 845.5 44.2 846.7 44.7 848.0 44.4 849.2 44.1 850.5 44.8 851.7 45.4 853.0 44.6 854.2 43.8 855.5 44.4 856.7 44.7 858.0 44.2 859.2 44.2 860.5 44.5 861.7 44.0 863.0 44.3 864.2 44.2 865.5 44.4 866.7 45.2 868.0 45.5 869.2 44.8 870.5 44.9 871.7 44.2 873.0 44.5 874.2 44.9 875.5 45.5 876.7 45.8 878.0 45.2 879.2 46.3 880.5 46.5 881.7 45.8 883.0 47.3 884.2 46.9 885.5 46.8 886.7 47.1 888.0 46.7 889.2 46.8 890.5 46.3 891.7 45.8 893.0 46.4 894.2 46.0 895.5 45.5 896.7 45.5 898.0 45.9 899.2 45.7 900.5 44.8 901.7 44.1 903.0 44.5 904.2 44.3 905.5 45.3 906.7 45.0 908.0 44.5 909.2 43.9 910.5 44.0 911.7 44.4 913.0 45.4 914.2 44.7 915.5 44.7 916.7 44.3 918.0 44.1 919.2 43.5 920.5 44.8 921.7 45.2 923.0 44.9 924.2 44.3 925.5 45.0 926.7 44.5 928.0 45.4 929.2 45.4 930.5 45.8 931.7 46.1 933.0 45.4 934.2 45.6 935.5 46.4 936.7 45.9 938.0 46.0 939.2 45.1 940.5 45.8 941.7 46.7 943.0 46.1 944.2 46.7 945.5 47.6 946.7 46.6 948.0 46.2 949.2 47.0 950.5 46.9 951.7 46.9 953.0 46.2 954.2 47.1 955.5 46.8 956.7 46.9 958.0 45.3 959.2 47.7 960.5 47.3 961.7 46.9 963.0 47.3 964.2 46.5 965.5 47.3 966.7 47.7 968.0 47.8 969.2 47.4 970.5 47.4 971.7 47.5 973.0 48.2 974.2 47.9 975.5 48.8 976.7 48.1 978.0 48.7 979.2 48.2 980.5 49.0 981.7 48.1 983.0 48.2 984.2 48.4 985.5 48.5 986.7 47.9 988.0 47.9 989.2 48.4 990.5 47.8 991.7 49.0 993.0 47.3 994.2 48.1 995.5 47.4 996.7 47.6 998.0 46.9 999.2 47.6 1000.5 47.4 1001.7 46.8 1003.0 47.0 1004.2 46.9 1005.5 46.3 1006.7 46.3 1008.0 46.9 1009.2 46.2 1010.5 46.0 1011.7 46.0 1013.0 46.8 1014.2 46.6 1015.5 46.8 1016.7 45.9 1018.0 45.7 1019.2 45.8 1020.5 46.3 1021.7 45.2 1023.0 45.9 1024.2 45.9 1025.5 45.9 1026.7 46.3 1028.0 47.1 1029.2 45.9 1030.5 46.4 1031.7 47.8 1033.0 47.1 1034.2 47.1 1035.5 47.0 1036.7 47.0 1038.0 47.3 1039.2 46.8 1040.5 46.8 1041.7 46.8 1043.0 46.0 1044.2 45.9 1045.5 46.4 1046.7 46.2 1048.0 47.0 1049.2 46.8 1050.5 46.6 1051.7 46.6 1053.0 46.4 1054.2 47.2 1055.5 46.7 1056.7 46.4 1058.0 46.9 1059.2 46.7 1060.5 46.4 1061.7 46.2 1063.0 46.5 1064.2 47.1 1065.5 46.4 1066.7 47.4 1068.0 46.8 1069.2 47.3 1070.5 47.1 1071.7 47.3 1073.0 47.3 1074.2 47.3 1075.5 48.0 1076.7 47.1 1078.0 47.0 1079.2 47.5 1080.5 47.6 1081.7 48.0 1083.0 48.5 1084.2 47.3 1085.5 48.2 1086.7 48.6 1088.0 49.1 1089.2 49.6 1090.5 49.9 1091.7 49.3 1093.0 49.4 1094.2 49.9 1095.5 49.7 1096.7 49.6 1098.0 50.1 1099.2 49.5 1100.5 50.5 1101.7 51.6 1103.0 51.4 1104.2 49.7 1105.5 51.6 1106.7 51.0 1108.0 51.4 1109.2 51.1 1110.5 52.0 1111.7 51.3 1113.0 52.0 1114.2 51.6 1115.5 52.0 1116.7 52.1 1118.0 52.2 1119.2 52.3 1120.5 52.3 1121.7 51.6 1123.0 52.4 1124.2 51.7 1125.5 52.2 1126.7 52.2 1128.0 52.5 1129.2 52.3 1130.5 51.4 1131.7 52.9 1133.0 51.9 1134.2 51.7 1135.5 51.6 1136.7 52.1 1138.0 51.3 1139.2 51.9 1140.5 52.1 1141.7 52.0 1143.0 51.8 1144.2 51.9 1145.5 52.0 1146.7 51.8 1148.0 51.5 1149.2 52.0 1150.5 51.6 1151.7 52.3 1153.0 51.6 1154.2 52.3 1155.5 52.0 1156.7 51.7 1158.0 52.1 1159.2 52.2 1160.5 52.1 1161.7 52.0 1163.0 52.5 1164.2 52.2 1165.5 51.8 1166.7 52.5 1168.0 51.7 1169.2 52.3 1170.5 52.2 1171.7 52.9 1173.0 52.5 1174.2 53.3 1175.5 52.4 1176.7 52.7 1178.0 52.0 1179.2 52.5 1180.5 52.5 1181.7 53.1 1183.0 52.2 1184.2 52.7 1185.5 52.2 1186.7 51.8 1188.0 52.4 1189.2 52.3 1190.5 51.8 1191.7 52.0 1193.0 52.4 1194.2 54.1 1195.5 53.7 1196.7 53.4 1198.0 53.7 1199.2 54.1 1200.5 54.0 1201.7 53.8 1203.0 53.6 1204.2 53.1 1205.5 54.0 1206.7 54.3 1208.0 53.5 1209.2 53.3 1210.5 52.8 1211.7 53.0 1213.0 51.9 1214.2 53.0 1215.5 53.0 1216.7 52.9 1218.0 52.5 1219.2 53.3 1220.5 53.7 1221.7 53.3 1223.0 54.5 1224.2 53.9 1225.5 54.5 1226.7 55.1 1228.0 54.7 1229.2 55.3 1230.5 56.2 1231.7 55.4 1233.0 55.5 1234.2 56.7 1235.5 55.8 1236.7 56.3 1238.0 57.1 1239.2 56.7 1240.5 57.4 1241.7 57.8 1243.0 57.2 1244.2 57.5 1245.5 58.4 1246.7 58.1 1248.0 58.4 1249.2 58.5 1250.5 58.5 1251.7 58.1 1253.0 58.0 1254.2 57.7 1255.5 57.3 1256.7 56.8 1258.0 57.1 1259.2 56.2 1260.5 56.7 1261.7 56.8 1263.0 55.7 1264.2 57.1 1265.5 56.6 1266.7 57.1 1268.0 56.9 1269.2 56.8 1270.5 57.3 1271.7 57.1 1273.0 58.4 1274.2 57.7 1275.5 58.3 1276.7 59.4 1278.0 59.0 1279.2 58.7 1280.5 58.5 1281.7 60.0 1283.0 59.4 1284.2 59.9 1285.5 59.8 1286.7 59.8 1288.0 60.7 1289.2 58.9 1290.5 60.5 1291.7 60.2 1293.0 59.7 1294.2 60.1 1295.5 59.6 1296.7 60.1 1298.0 59.7 1299.2 61.0 1300.5 60.5 1301.7 61.0 1303.0 60.7 1304.2 60.7 1305.5 60.7 1306.7 61.0 1308.0 61.7 1309.2 60.9 1310.5 61.1 1311.7 60.8 1313.0 62.2 1314.2 62.3 1315.5 62.5 1316.7 62.6 1318.0 62.9 1319.2 63.1 1320.5 63.4 1321.7 63.5 1323.0 63.7 1324.2 63.9 1325.5 63.3 1326.7 64.3 1328.0 64.1 1329.2 64.7 1330.5 64.4 1331.7 64.5 1333.0 63.9 1334.2 65.5 1335.5 65.2 1336.7 64.3 1338.0 65.0 1339.2 64.7 1340.5 65.7 1341.7 65.3 1343.0 65.0 1344.2 64.9 1345.5 65.6 1346.7 64.5 1348.0 65.0 1349.2 64.3 1350.5 64.9 1351.7 65.2 1353.0 65.3 1354.2 65.1 1355.5 65.6 1356.7 65.0 1358.0 64.8 1359.2 64.8 1360.5 64.6 1361.7 64.6 1363.0 64.5 1364.2 65.1 1365.5 65.2 1366.7 64.6 1368.0 64.8 1369.2 65.1 1370.5 64.9 1371.7 66.3 1373.0 64.9 1374.2 65.7 1375.5 66.6 1376.7 66.2 1378.0 66.6 1379.2 67.1 1380.5 67.2 1381.7 67.3 1383.0 66.9 1384.2 67.4 1385.5 67.8 1386.7 68.1 1388.0 68.4 1389.2 68.5 1390.5 68.5 1391.7 69.0 1393.0 68.5 1394.2 69.6 1395.5 68.2 1396.7 69.1 1398.0 69.0 1399.2 69.3 1400.5 69.8 1401.7 69.2 1403.0 69.5 1404.2 69.6 1405.5 69.4 1406.7 69.7 1408.0 68.9 1409.2 69.1 1410.5 68.8 1411.7 68.2 1413.0 69.4 1414.2 69.2 1415.5 68.8 1416.7 68.0 1418.0 68.1 1419.2 68.4 1420.5 69.1 1421.4 68.8"/>
<path class="ln" stroke="#bcbd22" d="M229.2 781.6 440.0 781.1 800.0 781.6 1140.0 782.6 1421.7 783.6"/>
<path class="ln" stroke="#dbdb8d" d="M229.2 764.1 440.0 764.1 800.0 764.6 1036.0 765.4 1140.0 765.6 1235.0 766.4 1421.7 767.0"/>
<path class="ln" stroke="#17becf" d="M229.2 703.6 230.4 703.7 231.7 703.6 232.9 703.6 234.2 703.6 235.4 703.4 236.7 703.7 237.9 703.5 239.2 703.5 240.4 703.6 241.7 703.5 242.9 703.5 244.2 703.4 245.4 703.5 246.7 703.6 247.9 703.5 249.2 703.1 250.4 703.4 251.7 703.3 252.9 703.5 254.2 703.3 255.4 703.5 256.7 703.4 257.9 703.1 259.2 703.2 260.4 703.5 261.7 703.2 262.9 703.2 264.2 703.2 265.4 703.4 266.7 703.1 267.9 703.3 269.2 703.0 270.4 703.1 271.7 703.1 272.9 703.1 274.2 703.1 275.4 703.1 276.7 703.2 277.9 703.1 279.2 703.2 280.4 703.3 281.7 703.0 282.9 703.1 284.2 703.1 285.4 703.0 286.7 703.2 287.9 702.9 289.2 702.9 290.4 703.2 291.7 703.1 292.9 703.0 294.2 702.7 295.4 703.1 296.7 702.9 297.9 702.9 299.2 702.9 300.4 702.9 301.7 702.9 302.9 702.7 304.2 702.8 305.4 702.8 306.7 702.7 307.9 702.8 309.2 702.8 310.4 702.7 311.7 702.8 312.9 702.6 314.2 702.8 315.4 702.8 316.7 702.8 317.9 702.8 319.2 702.7 320.4 702.9 321.7 702.7 322.9 702.6 324.2 702.8 325.4 702.7 326.7 702.6 327.9 702.6 329.2 702.6 330.4 702.4 331.7 702.8 332.9 702.6 334.2 702.6 335.4 702.7 336.7 702.7 337.9 702.4 339.2 702.5 340.4 702.6 341.7 702.4 342.9 702.3 344.2 702.4 345.4 702.5 346.7 702.3 347.9 702.3 349.2 702.4 350.4 702.4 351.7 702.4 352.9 702.3 354.2 702.4 355.4 702.3 356.7 702.4 357.9 702.4 359.2 702.4 360.4 702.3 361.7 702.2 362.9 702.1 364.2 702.0 365.4 702.2 366.7 702.1 367.9 701.9 369.2 702.0 370.4 702.0 371.7 702.0 372.9 701.9 374.2 702.0 375.4 702.0 376.7 701.9 377.9 702.0 379.2 701.8 380.4 701.7 381.7 701.8 382.9 701.8 384.2 702.0 385.4 701.7 386.7 701.9 387.9 701.9 389.2 701.9 390.4 701.9 391.7 701.8 392.9 701.9 394.2 701.8 395.4 701.6 396.7 701.6 397.9 701.7 399.2 701.6 400.4 701.6 401.7 701.6 402.9 701.4 404.2 701.6 405.4 701.4 406.7 701.6 407.9 701.5 409.2 701.6 410.4 701.5 411.7 701.4 412.9 701.6 414.2 701.4 415.4 701.5 416.7 701.4 417.9 701.3 419.2 701.6 420.4 701.4 421.7 701.5 422.9 701.5 424.2 701.2 425.4 701.2 426.7 701.3 427.9 701.2 429.2 701.4 430.4 701.3 431.7 701.2 432.9 701.1 434.2 701.3 435.4 701.2 436.7 701.0 437.9 700.9 439.2 701.2 440.4 701.1 441.7 700.9 442.9 701.0 444.2 701.0 445.4 701.2 446.7 700.9 447.9 701.2 449.2 701.0 450.4 701.0 451.7 700.9 452.9 701.2 454.2 701.0 455.4 700.9 456.7 700.8 457.9 700.9 459.2 701.0 460.4 701.0 461.7 700.9 462.9 701.0 464.2 700.7 465.4 700.7 466.7 700.8 467.9 700.7 469.2 700.6 470.4 700.8 471.7 700.8 472.9 700.8 474.2 700.6 475.4 700.8 476.7 700.7 477.9 700.8 479.2 700.8 480.4 700.6 481.7 700.5 482.9 700.7 484.2 700.8 485.4 700.5 486.7 700.7 487.9 700.5 489.2 700.4 490.4 700.6 491.7 700.6 492.9 700.6 494.2 700.5 495.4 700.5 496.7 700.6 497.9 700.4 499.2 700.5 500.4 700.3 501.7 700.4 502.9 700.4 504.2 700.6 505.4 700.5 506.7 700.6 507.9 700.2 509.2 700.2 510.4 700.3 511.7 700.4 513.0 700.3 514.2 700.2 515.5 700.2 516.7 700.3 518.0 700.3 519.2 700.4 520.5 700.2 521.7 700.3 523.0 700.1 524.2 700.2 525.5 700.3 526.7 700.3 528.0 700.2 529.2 700.0 530.5 700.3 531.7 700.3 533.0 700.1 534.2 700.1 535.5 700.1 536.7 700.1 538.0 700.1 539.2 700.1 540.5 700.1 541.7 700.0 543.0 700.1 544.2 700.0 545.5 700.2 546.7 700.1 548.0 700.2 549.2 699.8 550.5 699.9 551.7 699.9 553.0 699.9 554.2 700.0 555.5 700.2 556.7 700.0 558.0 700.1 559.2 700.1 560.5 699.9 561.7 699.9 563.0 700.1 564.2 699.9 565.5 700.1 566.7 699.9 568.0 700.0 569.2 700.0 570.5 699.9 571.7 700.0 573.0 699.9 574.2 699.8 575.5 700.0 576.7 699.9 578.0 699.8 579.2 700.0 580.5 700.0 581.7 700.0 583.0 700.1 584.2 700.2 585.5 700.0 586.7 699.8 588.0 700.0 589.2 699.8 590.5 700.0 591.7 699.8 593.0 699.8 594.2 699.8 595.5 699.7 596.7 699.7 598.0 699.9 599.2 699.9 600.5 699.9 601.7 700.0 603.0 699.7 604.2 699.9 605.5 699.6 606.7 699.8 608.0 699.7 609.2 699.8 610.5 699.7 611.7 699.8 613.0 699.7 614.2 699.7 615.5 699.8 616.7 699.7 618.0 699.7 619.2 699.7 620.5 699.7 621.7 699.7 623.0 699.8 624.2 699.8 625.5 699.9 626.7 699.6 628.0 699.6 629.2 699.7 630.5 699.7 631.7 699.7 633.0 699.7 634.2 699.7 635.5 699.6 636.7 699.6 638.0 699.7 639.2 699.8 640.5 699.7 641.7 699.7 643.0 699.8 644.2 699.7 645.5 699.7 646.7 699.7 648.0 699.8 649.2 699.7 650.5 699.9 651.7 700.0 653.0 699.8 654.2 699.7 655.5 699.9 656.7 699.7 658.0 700.0 659.2 699.7 660.5 699.8 661.7 699.9 663.0 699.9 664.2 699.7 665.5 699.9 666.7 699.9 668.0 699.8 669.2 699.9 670.5 699.7 671.7 699.8 673.0 699.6 674.2 699.7 675.5 699.8 676.7 699.6 678.0 699.9 679.2 699.8 680.5 699.7 681.7 699.6 683.0 699.7 684.2 699.4 685.5 699.4 686.7 699.5 688.0 699.6 689.2 699.7 690.5 699.6 691.7 699.5 693.0 699.6 694.2 699.5 695.5 699.6 696.7 699.6 698.0 699.3 699.2 699.5 700.5 699.3 701.7 699.5 703.0 699.4 704.2 699.2 705.5 699.4 706.7 699.1 708.0 699.3 709.2 699.2 710.5 699.3 711.7 699.3 713.0 699.3 714.2 699.0 715.5 699.1 716.7 699.4 718.0 699.1 719.2 699.4 720.5 699.0 721.7 699.1 723.0 699.0 724.2 699.0 725.5 699.1 726.7 698.9 728.0 698.9 729.2 699.0 730.5 698.8 731.7 699.1 733.0 699.0 734.2 699.1 735.5 699.0 736.7 698.7 738.0 699.0 739.2 698.8 740.5 698.7 741.7 698.7 743.0 698.8 744.2 698.8 745.5 698.6 746.7 698.8 748.0 698.6 749.2 698.8 750.5 698.5 751.7 698.5 753.0 698.7 754.2 698.5 755.5 698.6 756.7 698.5 758.0 698.6 759.2 698.5 760.5 698.7 761.7 698.5 763.0 698.4 764.2 698.4 765.5 698.3 766.7 698.2 768.0 698.6 769.2 698.4 770.5 698.2 771.7 698.3 773.0 698.3 774.2 698.2 775.5 698.3 776.7 698.2 778.0 698.2 779.2 698.1 780.5 698.2 781.7 698.3 783.0 698.1 784.2 698.0 785.5 698.0 786.7 698.0 788.0 698.1 789.2 698.2 790.5 698.1 791.7 698.0 793.0 697.9 794.2 698.0 795.5 697.8 796.7 698.0 798.0 698.0 799.2 697.9 800.5 697.7 801.7 697.9 803.0 697.7 804.2 698.0 805.5 697.9 806.7 697.9 808.0 697.7 809.2 697.9 810.5 697.9 811.7 697.7 813.0 697.7 814.2 697.6 815.5 697.6 816.7 697.7 818.0 697.8 819.2 697.6 820.5 697.3 821.7 697.4 823.0 697.6 824.2 697.4 825.5 697.7 826.7 697.6 828.0 697.4 829.2 697.6 830.5 697.4 831.7 697.5 833.0 697.5 834.2 697.3 835.5 697.3 836.7 697.4 838.0 697.5 839.2 697.4 840.5 697.4 841.7 697.3 843.0 697.5 844.2 697.4 845.5 697.5 846.7 697.5 848.0 697.6 849.2 697.6 850.5 697.6 851.7 697.7 853.0 697.5 854.2 697.4 855.5 697.5 856.7 697.7 858.0 697.8 859.2 697.6 860.5 697.4 861.7 697.5 863.0 697.7 864.2 697.6 865.5 697.6 866.7 697.6 868.0 697.5 869.2 697.6 870.5 697.7 871.7 697.6 873.0 697.5 874.2 697.6 875.5 697.7 876.7 697.6 878.0 697.7 879.2 697.7 880.5 697.7 881.7 697.7 883.0 697.5 884.2 697.9 885.5 697.7 886.7 697.7 888.0 697.8 889.2 697.7 890.5 697.7 891.7 697.6 893.0 697.9 894.2 697.8 895.5 697.7 896.7 697.7 898.0 697.9 899.2 697.9 900.5 697.8 901.7 697.9 903.0 697.7 904.2 697.8 905.5 697.6 906.7 698.0 908.0 697.7 909.2 697.7 910.5 698.1 911.7 697.8 913.0 697.8 914.2 697.9 915.5 697.8 916.7 698.0 918.0 697.8 919.2 697.9 920.5 697.7 921.7 697.8 923.0 697.9 924.2 697.9 925.5 697.8 926.7 697.8 928.0 697.9 929.2 697.8 930.5 697.9 931.7 697.8 933.0 697.9 934.2 697.9 935.5 697.9 936.7 697.7 938.0 697.8 939.2 697.8 940.5 697.8 941.7 697.8 943.0 697.8 944.2 697.8 945.5 697.9 946.7 697.8 948.0 697.8 949.2 697.9 950.5 697.9 951.7 697.9 953.0 697.7 954.2 697.8 955.5 697.7 956.7 697.9 958.0 697.9 959.2 697.9 960.5 697.8 961.7 697.8 963.0 697.7 964.2 697.7 965.5 697.9 966.7 697.6 968.0 697.9 969.2 697.8 970.5 698.0 971.7 697.8 973.0 697.7 974.2 697.8 975.5 697.9 976.7 697.8 978.0 697.7 979.2 697.8 980.5 697.7 981.7 697.8 983.0 697.4 984.2 697.6 985.5 697.4 986.7 697.6 988.0 697.5 989.2 697.4 990.5 697.7 991.7 697.4 993.0 697.3 994.2 697.5 995.5 697.2 996.7 697.2 998.0 697.2 999.2 697.2 1000.5 697.3 1001.7 697.1 1003.0 697.2 1004.2 697.1 1005.5 697.2 1006.7 697.1 1008.0 697.0 1009.2 696.9 1010.5 696.9 1011.7 696.7 1013.0 696.9 1014.2 696.8 1015.5 696.8 1016.7 696.8 1018.0 696.8 1019.2 696.7 1020.5 696.7 1021.7 696.6 1023.0 696.6 1024.2 696.6 1025.5 696.5 1026.7 696.6 1028.0 696.3 1029.2 696.3 1030.5 696.4 1031.7 696.3 1033.0 696.2 1034.2 696.2 1035.5 696.4 1036.7 696.4 1038.0 696.5 1039.2 696.5 1040.5 696.3 1041.7 696.3 1043.0 696.3 1044.2 696.1 1045.5 696.3 1046.7 696.5 1048.0 696.2 1049.2 696.4 1050.5 696.3 1051.7 696.4 1053.0 696.5 1054.2 696.4 1055.5 696.5 1056.7 696.4 1058.0 696.6 1059.2 696.4 1060.5 696.6 1061.7 696.3 1063.0 696.4 1064.2 696.6 1065.5 696.5 1066.7 696.6 1068.0 696.4 1069.2 696.6 1070.5 696.7 1071.7 696.5 1073.0 696.6 1074.2 696.6 1075.5 696.6 1076.7 696.5 1078.0 696.6 1079.2 696.5 1080.5 696.5 1081.7 696.6 1083.0 696.5 1084.2 696.6 1085.5 696.5 1086.7 696.5 1088.0 696.5 1089.2 696.6 1090.5 696.6 1091.7 696.7 1093.0 696.5 1094.2 696.7 1095.5 696.7 1096.7 696.7 1098.0 696.6 1099.2 696.8 1100.5 696.8 1101.7 696.6 1103.0 696.8 1104.2 696.6 1105.5 696.7 1106.7 696.7 1108.0 696.9 1109.2 696.6 1110.5 696.8 1111.7 696.7 1113.0 696.8 1114.2 696.7 1115.5 696.9 1116.7 696.7 1118.0 696.8 1119.2 696.9 1120.5 696.8 1121.7 696.7 1123.0 697.0 1124.2 696.8 1125.5 696.6 1126.7 697.0 1128.0 696.6 1129.2 696.8 1130.5 696.8 1131.7 696.7 1133.0 696.8 1134.2 696.8 1135.5 696.9 1136.7 696.7 1138.0 696.8 1139.2 696.7 1140.5 696.7 1141.7 696.9 1143.0 696.8 1144.2 696.9 1145.5 696.8 1146.7 697.0 1148.0 696.7 1149.2 696.8 1150.5 696.7 1151.7 696.8 1153.0 696.5 1154.2 696.7 1155.5 696.6 1156.7 696.9 1158.0 696.6 1159.2 696.6 1160.5 696.5 1161.7 696.7 1163.0 696.7 1164.2 696.6 1165.5 696.5 1166.7 696.4 1168.0 696.3 1169.2 696.6 1170.5 696.4 1171.7 696.4 1173.0 696.3 1174.2 696.3 1175.5 696.2 1176.7 696.4 1178.0 696.3 1179.2 696.3 1180.5 696.4 1181.7 696.3 1183.0 696.2 1184.2 696.3 1185.5 696.3 1186.7 696.3 1188.0 696.1 1189.2 696.2 1190.5 696.3 1191.7 696.2 1193.0 696.2 1194.2 696.2 1195.5 696.3 1196.7 696.2 1198.0 696.3 1199.2 696.6 1200.5 696.6 1201.7 696.3 1203.0 696.6 1204.2 696.6 1205.5 696.5 1206.7 696.5 1208.0 696.5 1209.2 696.7 1210.5 696.7 1211.7 696.7 1213.0 696.9 1214.2 696.7 1215.5 696.8 1216.7 696.9 1218.0 696.8 1219.2 696.7 1220.5 696.9 1221.7 697.0 1223.0 696.9 1224.2 697.0 1225.5 697.0 1226.7 697.0 1228.0 697.0 1229.2 696.9 1230.5 697.1 1231.7 697.2 1233.0 697.1 1234.2 697.3 1235.5 697.1 1236.7 697.2 1238.0 697.2 1239.2 697.2 1240.5 697.2 1241.7 697.3 1243.0 697.1 1244.2 697.3 1245.5 697.3 1246.7 697.4 1248.0 697.4 1249.2 697.1 1250.5 697.3 1251.7 697.4 1253.0 697.3 1254.2 697.2 1255.5 697.0 1256.7 696.9 1258.0 696.6 1259.2 696.7 1260.5 696.5 1261.7 696.5 1263.0 696.6 1264.2 696.4 1265.5 696.4 1266.7 696.4 1268.0 696.6 1269.2 696.5 1270.5 696.8 1271.7 696.6 1273.0 696.6 1274.2 696.6 1275.5 696.6 1276.7 696.7 1278.0 696.8 1279.2 696.7 1280.5 696.9 1281.7 696.7 1283.0 696.9 1284.2 696.9 1285.5 696.8 1286.7 696.9 1288.0 697.1 1289.2 696.9 1290.5 697.1 1291.7 696.9 1293.0 696.9 1294.2 697.0 1295.5 696.9 1296.7 697.1 1298.0 697.1 1299.2 697.0 1300.5 697.0 1301.7 697.2 1303.0 697.1 1304.2 697.2 1305.5 697.2 1306.7 697.5 1308.0 697.3 1309.2 697.3 1310.5 697.4 1311.7 697.3 1313.0 697.3 1314.2 697.3 1315.5 697.6 1316.7 697.5 1318.0 697.4 1319.2 697.5 1320.5 697.7 1321.7 697.6 1323.0 697.5 1324.2 697.7 1325.5 697.6 1326.7 697.6 1328.0 697.6 1329.2 697.6 1330.5 697.5 1331.7 697.6 1333.0 697.9 1334.2 697.9 1335.5 697.8 1336.7 697.9 1338.0 698.0 1339.2 697.9 1340.5 698.1 1341.7 698.1 1343.0 697.9 1344.2 697.9 1345.5 698.0 1346.7 697.9 1348.0 698.0 1349.2 698.1 1350.5 698.2 1351.7 698.1 1353.0 698.3 1354.2 698.2 1355.5 698.3 1356.7 698.2 1358.0 698.3 1359.2 698.1 1360.5 698.2 1361.7 698.1 1363.0 698.1 1364.2 698.1 1365.5 698.1 1366.7 698.0 1368.0 697.9 1369.2 698.3 1370.5 698.2 1371.7 698.0 1373.0 698.2 1374.2 698.3 1375.5 698.2 1376.7 698.2 1378.0 697.9 1379.2 698.0 1380.5 698.0 1381.7 698.1 1383.0 698.1 1384.2 698.1 1385.5 698.2 1386.7 697.9 1388.0 697.9 1389.2 698.0 1390.5 698.0 1391.7 698.0 1393.0 698.2 1394.2 697.8 1395.5 698.0 1396.7 697.9 1398.0 698.0 1399.2 697.9 1400.5 697.8 1401.7 698.0 1403.0 698.0 1404.2 697.8 1405.5 698.0 1406.7 698.0 1408.0 697.9 1409.2 697.8 1410.5 697.9 1411.7 698.0 1413.0 697.8 1414.2 697.8 1415.5 697.7 1416.7 697.8 1418.0 697.7 1419.2 697.8 1420.5 697.5 1421.7 697.9"/>
<path class="ln" stroke="#9edae5" d="M229.2 640.3 230.4 640.5 231.7 640.4 232.9 640.1 234.2 640.2 235.4 640.3 236.7 640.3 237.9 640.2 239.2 640.3 240.4 640.1 241.7 640.2 242.9 640.6 244.2 640.2 245.4 640.3 246.7 640.4 247.9 639.8 249.2 640.7 250.4 640.4 251.7 640.7 252.9 640.6 254.2 640.4 255.4 640.3 256.7 640.1 257.9 640.3 259.2 639.9 260.4 640.2 261.7 640.0 262.9 640.1 264.2 639.9 265.4 640.2 266.7 639.9 267.9 639.8 269.2 640.1 270.4 639.7 271.7 639.8 272.9 639.6 274.2 640.1 275.4 639.6 276.7 639.4 277.9 639.9 279.2 639.4 280.4 639.4 281.7 640.1 282.9 639.7 284.2 639.4 285.4 639.4 286.7 639.2 287.9 639.5 289.2 639.6 290.4 639.3 291.7 639.2 292.9 639.5 294.2 639.5 295.4 639.3 296.7 639.1 297.9 639.6 299.2 639.5 300.4 639.5 301.7 639.8 302.9 639.5 304.2 639.4 305.4 639.4 306.7 639.3 307.9 639.5 309.2 639.8 310.4 638.9 311.7 639.1 312.9 639.2 314.2 639.3 315.4 639.4 316.7 639.4 317.9 639.1 319.2 639.3 320.4 639.1 321.7 638.9 322.9 639.3 324.2 639.3 325.4 638.6 326.7 638.4 327.9 638.8 329.2 638.6 330.4 638.5 331.7 638.0 332.9 638.5 334.2 638.7 335.4 638.5 336.7 638.0 337.9 638.1 339.2 638.4 340.4 638.1 341.7 638.2 342.9 637.7 344.2 638.4 345.4 638.2 346.7 638.0 347.9 637.8 349.2 638.0 350.4 638.0 351.7 637.6 352.9 637.8 354.2 637.7 355.4 637.9 356.7 638.1 357.9 637.7 359.2 637.9 360.4 637.7 361.7 637.7 362.9 638.0 364.2 637.8 365.4 637.4 366.7 637.5 367.9 637.3 369.2 637.0 370.4 637.5 371.7 637.8 372.9 637.2 374.2 637.8 375.4 637.8 376.7 637.5 377.9 637.2 379.2 637.4 380.4 637.3 381.7 637.2 382.9 636.7 384.2 637.4 385.4 636.6 386.7 636.9 387.9 636.7 389.2 637.2 390.4 636.9 391.7 636.8 392.9 637.1 394.2 636.6 395.4 636.6 396.7 636.6 397.9 636.8 399.2 636.5 400.4 636.5 401.7 636.3 402.9 636.1 404.2 636.6 405.4 636.8 406.7 636.0 407.9 636.0 409.2 636.2 410.4 636.3 411.7 635.7 412.9 635.9 414.2 635.9 415.4 635.6 416.7 635.8 417.9 635.6 419.2 635.7 420.4 635.9 421.7 635.6 422.9 636.0 424.2 635.6 425.4 635.9 426.7 635.7 427.9 636.0 429.2 635.8 430.4 635.9 431.7 635.7 432.9 636.2 434.2 636.2 435.4 635.8 436.7 635.9 437.9 635.7 439.2 635.8 440.4 635.8 441.7 635.7 442.9 636.0 444.2 635.7 445.4 635.6 446.7 635.6 447.9 635.5 449.2 636.2 450.4 635.7 451.7 635.8 452.9 635.5 454.2 635.9 455.4 635.9 456.7 635.7 457.9 635.9 459.2 635.8 460.4 635.5 461.7 636.0 462.9 636.1 464.2 636.4 465.4 635.8 466.7 635.6 467.9 635.8 469.2 636.0 470.4 636.0 471.7 636.0 472.9 636.0 474.2 636.3 475.4 636.5 476.7 636.1 477.9 635.9 479.2 635.5 480.4 635.7 481.7 635.7 482.9 635.7 484.2 635.8 485.4 635.4 486.7 635.6 487.9 635.3 489.2 634.9 490.4 635.3 491.7 635.2 492.9 635.5 494.2 635.1 495.4 635.5 496.7 635.5 497.9 635.9 499.2 635.6 500.4 635.7 501.7 635.7 502.9 635.9 504.2 635.6 505.4 635.6 506.7 635.0 507.9 635.5 509.2 636.1 510.4 635.8 511.7 635.5 513.0 635.8 514.2 635.4 515.5 635.1 516.7 635.3 518.0 635.2 519.2 635.1 520.5 635.4 521.7 634.9 523.0 634.6 524.2 634.9 525.5 634.9 526.7 635.0 528.0 635.1 529.2 635.7 530.5 635.5 531.7 635.6 533.0 635.2 534.2 634.9 535.5 635.3 536.7 634.7 538.0 634.9 539.2 634.8 540.5 635.2 541.7 635.0 543.0 634.7 544.2 635.0 545.5 635.2 546.7 634.8 548.0 634.6 549.2 634.7 550.5 634.7 551.7 634.4 553.0 634.4 554.2 634.7 555.5 634.1 556.7 634.5 558.0 634.3 559.2 634.2 560.5 634.5 561.7 634.2 563.0 634.2 564.2 633.9 565.5 634.2 566.7 634.4 568.0 634.2 569.2 634.4 570.5 634.2 571.7 633.9 573.0 633.5 574.2 634.0 575.5 633.7 576.7 634.0 578.0 633.7 579.2 633.9 580.5 633.5 581.7 633.7 583.0 633.5 584.2 633.4 585.5 633.7 586.7 633.3 588.0 633.4 589.2 633.5 590.5 633.5 591.7 633.3 593.0 633.0 594.2 633.0 595.5 633.0 596.7 633.0 598.0 632.5 599.2 633.2 600.5 632.8 601.7 632.8 603.0 632.7 604.2 632.5 605.5 632.7 606.7 632.5 608.0 632.6 609.2 632.1 610.5 632.2 611.7 632.3 613.0 632.6 614.2 632.2 615.5 632.4 616.7 632.0 618.0 632.2 619.2 632.2 620.5 632.2 621.7 632.0 623.0 631.5 624.2 632.1 625.5 631.9 626.7 632.0 628.0 631.8 629.2 632.0 630.5 631.9 631.7 632.3 633.0 632.6 634.2 632.6 635.5 632.8 636.7 632.8 638.0 632.6 639.2 632.4 640.5 632.6 641.7 632.6 643.0 632.6 644.2 632.7 645.5 632.8 646.7 632.8 648.0 632.8 649.2 633.0 650.5 632.4 651.7 633.0 653.0 632.7 654.2 632.8 655.5 632.5 656.7 632.8 658.0 632.8 659.2 632.3 660.5 632.5 661.7 632.9 663.0 632.7 664.2 632.2 665.5 632.6 666.7 632.2 668.0 632.1 669.2 632.7 670.5 632.0 671.7 631.8 673.0 632.1 674.2 631.5 675.5 631.1 676.7 631.0 678.0 631.3 679.2 630.9 680.5 630.8 681.7 630.9 683.0 630.9 684.2 630.6 685.5 630.7 686.7 631.4 688.0 630.7 689.2 630.5 690.5 631.1 691.7 631.2 693.0 631.4 694.2 631.1 695.5 631.2 696.7 631.1 698.0 631.1 699.2 631.1 700.5 631.5 701.7 630.9 703.0 631.3 704.2 631.0 705.5 631.1 706.7 631.0 708.0 631.0 709.2 630.9 710.5 631.2 711.7 630.3 713.0 630.8 714.2 630.7 715.5 631.1 716.7 630.9 718.0 630.9 719.2 630.9 720.5 630.7 721.7 630.7 723.0 630.9 724.2 631.1 725.5 630.8 726.7 630.8 728.0 631.1 729.2 631.1 730.5 631.1 731.7 630.9 733.0 630.7 734.2 631.2 735.5 630.9 736.7 631.1 738.0 630.9 739.2 630.9 740.5 630.8 741.7 631.2 743.0 630.8 744.2 631.2 745.5 630.9 746.7 630.8 748.0 630.8 749.2 630.9 750.5 630.4 751.7 630.6 753.0 630.4 754.2 630.2 755.5 630.2 756.7 630.5 758.0 630.0 759.2 630.3 760.5 629.9 761.7 629.9 763.0 630.2 764.2 629.9 765.5 629.8 766.7 629.6 768.0 629.6 769.2 629.6 770.5 629.4 771.7 629.3 773.0 629.4 774.2 629.2 775.5 629.2 776.7 629.1 778.0 629.1 779.2 628.8 780.5 628.6 781.7 628.9 783.0 628.9 784.2 628.5 785.5 628.5 786.7 628.2 788.0 628.2 789.2 628.1 790.5 628.3 791.7 628.3 793.0 627.8 794.2 627.9 795.5 627.7 796.7 628.0 798.0 627.7 799.2 627.2 800.5 627.8 801.7 628.1 803.0 627.3 804.2 627.2 805.5 627.3 806.7 627.3 808.0 627.3 809.2 627.2 810.5 627.0 811.7 626.8 813.0 626.8 814.2 627.0 815.5 627.1 816.7 626.6 818.0 626.8 819.2 626.6 820.5 626.6 821.7 626.3 823.0 626.3 824.2 626.3 825.5 626.1 826.7 626.7 828.0 626.2 829.2 626.0 830.5 626.0 831.7 626.3 833.0 626.2 834.2 626.3 835.5 626.3 836.7 626.4 838.0 626.6 839.2 625.8 840.5 626.4 841.7 625.9 843.0 626.0 844.2 625.9 845.5 626.4 846.7 626.4 848.0 626.1 849.2 626.0 850.5 626.6 851.7 626.5 853.0 626.8 854.2 626.4 855.5 626.5 856.7 626.4 858.0 626.3 859.2 626.5 860.5 626.6 861.7 626.8 863.0 626.5 864.2 626.6 865.5 626.7 866.7 627.3 868.0 626.7 869.2 626.2 870.5 626.6 871.7 626.7 873.0 626.8 874.2 627.1 875.5 626.7 876.7 627.0 878.0 626.7 879.2 627.3 880.5 627.0 881.7 627.3 883.0 627.1 884.2 626.9 885.5 627.2 886.7 627.0 888.0 627.0 889.2 627.3 890.5 627.0 891.7 627.3 893.0 627.3 894.2 626.9 895.5 626.8 896.7 626.7 898.0 626.8 899.2 626.3 900.5 626.2 901.7 626.8 903.0 626.2 904.2 626.0 905.5 625.5 906.7 625.5 908.0 625.5 909.2 625.4 910.5 625.2 911.7 625.1 913.0 625.6 914.2 625.3 915.5 625.4 916.7 625.4 918.0 625.1 919.2 625.5 920.5 625.2 921.7 625.3 923.0 625.0 924.2 625.2 925.5 624.9 926.7 625.3 928.0 625.2 929.2 625.3 930.5 625.4 931.7 625.1 933.0 625.2 934.2 625.3 935.5 625.8 936.7 625.4 938.0 625.5 939.2 625.4 940.5 625.5 941.7 625.7 943.0 626.1 944.2 625.6 945.5 625.9 946.7 625.5 948.0 625.8 949.2 626.3 950.5 625.8 951.7 625.7 953.0 625.7 954.2 625.5 955.5 625.8 956.7 625.9 958.0 625.9 959.2 625.9 960.5 625.7 961.7 625.5 963.0 625.9 964.2 625.9 965.5 625.7 966.7 625.8 968.0 625.9 969.2 626.1 970.5 625.9 971.7 625.9 973.0 625.6 974.2 625.8 975.5 625.4 976.7 626.1 978.0 626.0 979.2 625.6 980.5 625.4 981.7 625.8 983.0 625.8 984.2 625.5 985.5 625.6 986.7 625.3 988.0 625.4 989.2 625.5 990.5 625.6 991.7 625.1 993.0 625.2 994.2 624.9 995.5 625.1 996.7 625.3 998.0 625.3 999.2 625.3 1000.5 625.0 1001.7 624.9 1003.0 624.8 1004.2 624.7 1005.5 624.6 1006.7 624.4 1008.0 624.3 1009.2 624.1 1010.5 624.4 1011.7 624.6 1013.0 624.5 1014.2 624.4 1015.5 624.4 1016.7 623.9 1018.0 624.0 1019.2 623.9 1020.5 624.2 1021.7 624.2 1023.0 623.7 1024.2 623.8 1025.5 624.1 1026.7 623.7 1028.0 623.6 1029.2 623.5 1030.5 623.5 1031.7 623.4 1033.0 623.6 1034.2 623.5 1035.5 623.0 1036.7 623.3 1038.0 623.4 1039.2 623.3 1040.5 623.5 1041.7 623.5 1043.0 623.1 1044.2 623.3 1045.5 623.6 1046.7 622.9 1048.0 623.4 1049.2 622.8 1050.5 623.3 1051.7 623.5 1053.0 622.9 1054.2 623.2 1055.5 622.8 1056.7 623.2 1058.0 622.9 1059.2 623.4 1060.5 623.1 1061.7 623.3 1063.0 622.8 1064.2 623.0 1065.5 623.0 1066.7 623.5 1068.0 623.1 1069.2 623.4 1070.5 623.4 1071.7 623.0 1073.0 623.1 1074.2 623.4 1075.5 623.8 1076.7 623.5 1078.0 623.5 1079.2 623.4 1080.5 623.0 1081.7 623.6 1083.0 623.4 1084.2 623.6 1085.5 623.7 1086.7 623.9 1088.0 623.8 1089.2 623.8 1090.5 624.1 1091.7 624.0 1093.0 624.2 1094.2 624.4 1095.5 624.1 1096.7 624.3 1098.0 624.3 1099.2 624.4 1100.5 624.5 1101.7 624.4 1103.0 624.4 1104.2 624.6 1105.5 624.3 1106.7 624.1 1108.0 624.9 1109.2 624.3 1110.5 624.1 1111.7 624.9 1113.0 624.9 1114.2 624.6 1115.5 624.3 1116.7 624.2 1118.0 624.9 1119.2 624.5 1120.5 624.1 1121.7 624.7 1123.0 624.1 1124.2 624.7 1125.5 624.3 1126.7 624.2 1128.0 624.4 1129.2 624.2 1130.5 624.2 1131.7 624.1 1133.0 623.8 1134.2 624.5 1135.5 623.7 1136.7 623.5 1138.0 623.7 1139.2 623.5 1140.5 623.7 1141.7 623.8 1143.0 623.6 1144.2 623.7 1145.5 623.0 1146.7 623.6 1148.0 623.5 1149.2 623.7 1150.5 623.2 1151.7 623.5 1153.0 623.5 1154.2 622.8 1155.5 622.9 1156.7 622.9 1158.0 622.7 1159.2 623.3 1160.5 622.7 1161.7 623.1 1163.0 622.5 1164.2 622.7 1165.5 622.8 1166.7 622.6 1168.0 622.5 1169.2 622.5 1170.5 622.2 1171.7 622.5 1173.0 622.2 1174.2 622.1 1175.5 622.4 1176.7 622.2 1178.0 621.9 1179.2 622.0 1180.5 621.6 1181.7 621.8 1183.0 622.2 1184.2 621.9 1185.5 622.1 1186.7 621.8 1188.0 622.5 1189.2 621.8 1190.5 622.5 1191.7 621.7 1193.0 621.9 1194.2 621.9 1195.5 622.1 1196.7 622.5 1198.0 621.8 1199.2 621.8 1200.5 622.1 1201.7 621.6 1203.0 622.0 1204.2 622.4 1205.5 622.5 1206.7 622.2 1208.0 622.0 1209.2 622.3 1210.5 622.4 1211.7 622.2 1213.0 622.5 1214.2 622.2 1215.5 622.6 1216.7 622.1 1218.0 622.8 1219.2 622.3 1220.5 622.4 1221.7 622.5 1223.0 622.5 1224.2 623.1 1225.5 623.3 1226.7 623.1 1228.0 623.0 1229.2 622.9 1230.5 623.1 1231.7 623.7 1233.0 623.8 1234.2 623.7 1235.5 623.3 1236.7 623.6 1238.0 623.8 1239.2 623.7 1240.5 624.0 1241.7 623.8 1243.0 623.7 1244.2 623.9 1245.5 623.9 1246.7 624.2 1248.0 624.3 1249.2 624.1 1250.5 624.2 1251.7 623.9 1253.0 623.6 1254.2 623.4 1255.5 622.9 1256.7 622.4 1258.0 622.1 1259.2 622.5 1260.5 622.5 1261.7 622.7 1263.0 622.3 1264.2 622.5 1265.5 621.9 1266.7 622.3 1268.0 622.3 1269.2 622.0 1270.5 622.2 1271.7 622.2 1273.0 622.4 1274.2 622.2 1275.5 622.5 1276.7 622.2 1278.0 622.3 1279.2 622.8 1280.5 622.9 1281.7 622.5 1283.0 622.6 1284.2 622.3 1285.5 622.3 1286.7 622.9 1288.0 622.8 1289.2 622.6 1290.5 623.0 1291.7 622.7 1293.0 623.1 1294.2 622.5 1295.5 622.7 1296.7 622.8 1298.0 623.0 1299.2 623.1 1300.5 622.8 1301.7 623.0 1303.0 622.9 1304.2 623.2 1305.5 622.8 1306.7 623.6 1308.0 623.2 1309.2 623.3 1310.5 623.3 1311.7 623.3 1313.0 623.3 1314.2 623.5 1315.5 623.5 1316.7 623.5 1318.0 623.6 1319.2 623.7 1320.5 624.0 1321.7 623.9 1323.0 623.8 1324.2 624.0 1325.5 623.8 1326.7 624.4 1328.0 623.9 1329.2 624.1 1330.5 624.2 1331.7 624.2 1333.0 624.5 1334.2 624.3 1335.5 624.4 1336.7 624.2 1338.0 624.5 1339.2 624.8 1340.5 624.1 1341.7 624.1 1343.0 624.4 1344.2 624.4 1345.5 624.2 1346.7 624.1 1348.0 624.3 1349.2 624.1 1350.5 623.8 1351.7 624.0 1353.0 623.9 1354.2 623.9 1355.5 623.8 1356.7 623.8 1358.0 624.0 1359.2 623.6 1360.5 623.6 1361.7 623.4 1363.0 623.4 1364.2 623.0 1365.5 623.1 1366.7 623.2 1368.0 623.5 1369.2 623.2 1370.5 623.1 1371.7 623.2 1373.0 623.4 1374.2 623.6 1375.5 623.5 1376.7 623.2 1378.0 623.7 1379.2 623.5 1380.5 623.2 1381.7 623.5 1383.0 623.3 1384.2 623.7 1385.5 622.8 1386.7 623.6 1388.0 623.2 1389.2 623.4 1390.5 623.9 1391.7 623.9 1393.0 623.5 1394.2 623.6 1395.5 624.1 1396.7 623.6 1398.0 623.6 1399.2 624.0 1400.5 624.6 1401.7 623.6 1403.0 624.3 1404.2 624.0 1405.5 623.8 1406.7 623.8 1408.0 623.8 1409.2 623.9 1410.5 623.5 1411.7 623.2 1413.0 623.0 1414.2 623.3 1415.5 623.5 1416.7 623.4 1418.0 623.6 1419.2 623.6 1420.5 623.6 1421.4 623.4"/>
</svg>
<g stroke="#000" stroke-width="2.5">
<line x1="239.00" y1="821.4" x2="239.00" y2="835.9"/>
<line x1="438.00" y1="821.4" x2="438.00" y2="835.9"/>
<line x1="638.00" y1="821.4" x2="638.00" y2="835.9"/>
<line x1="837.00" y1="821.4" x2="837.00" y2="835.9"/>
<line x1="1036.00" y1="821.4" x2="1036.00" y2="835.9"/>
<line x1="1235.00" y1="821.4" x2="1235.00" y2="835.9"/>
<line x1="1434.00" y1="821.4" x2="1434.00" y2="835.9"/>
<line x1="169.5" y1="718.00" x2="154.0" y2="718.00"/>
<line x1="169.5" y1="580.00" x2="154.0" y2="580.00"/>
<line x1="169.5" y1="442.00" x2="154.0" y2="442.00"/>
<line x1="169.5" y1="305.00" x2="154.0" y2="305.00"/>
<line x1="169.5" y1="167.00" x2="154.0" y2="167.00"/>
<line x1="169.5" y1="29.00" x2="154.0" y2="29.00"/>
</g>
<rect x="169.5" y="5.4" width="1313.0" height="816.0" fill="none" stroke="#000" stroke-width="2.85"/>
<text class="tk" transform="translate(239.00 878.0) scale(0.98 1.03)" text-anchor="middle">13:48</text>
<text class="tk" transform="translate(438.00 878.0) scale(0.98 1.03)" text-anchor="middle">13:53</text>
<text class="tk" transform="translate(638.00 878.0) scale(0.98 1.03)" text-anchor="middle">13:58</text>
<text class="tk" transform="translate(837.00 878.0) scale(0.98 1.03)" text-anchor="middle">14:03</text>
<text class="tk" transform="translate(1036.00 878.0) scale(0.98 1.03)" text-anchor="middle">14:08</text>
<text class="tk" transform="translate(1235.00 878.0) scale(0.98 1.03)" text-anchor="middle">14:13</text>
<text class="tk" transform="translate(1434.00 878.0) scale(0.98 1.03)" text-anchor="middle">14:18</text>
<text class="tk" transform="translate(139.3 733.20) scale(0.98 1.03)" text-anchor="end">500</text>
<text class="tk" transform="translate(139.3 595.20) scale(0.98 1.03)" text-anchor="end">1000</text>
<text class="tk" transform="translate(139.3 457.20) scale(0.98 1.03)" text-anchor="end">1500</text>
<text class="tk" transform="translate(139.3 320.20) scale(0.98 1.03)" text-anchor="end">2000</text>
<text class="tk" transform="translate(139.3 182.20) scale(0.98 1.03)" text-anchor="end">2500</text>
<text class="tk" transform="translate(139.3 44.20) scale(0.98 1.03)" text-anchor="end">3000</text>
<text class="tk" transform="translate(826 928.5) scale(1.003 1)" text-anchor="middle">Times (UT+8)</text>
<text class="tk" transform="translate(32.3 414.9) rotate(-90) scale(0.995 1.025)" text-anchor="middle">Data / mV</text>
<line x1="1518.9" y1="43" x2="1581.0" y2="43" stroke="#1f77b4" stroke-width="4.0"/>
<text class="lg" transform="translate(1602.9 54.40) scale(1.005 1.08)">68.5-69.5 GHz_R</text>
<line x1="1518.9" y1="86" x2="1581.0" y2="86" stroke="#aec7e8" stroke-width="4.0"/>
<text class="lg" transform="translate(1602.9 97.01) scale(1.005 1.08)">66.5-67.5 GHz_R</text>
<line x1="1518.9" y1="128" x2="1581.0" y2="128" stroke="#ff7f0e" stroke-width="4.0"/>
<text class="lg" transform="translate(1602.9 139.62) scale(1.005 1.08)">64.5-65.5 GHz_R</text>
<line x1="1518.9" y1="171" x2="1581.0" y2="171" stroke="#ffbb78" stroke-width="4.0"/>
<text class="lg" transform="translate(1602.9 182.23) scale(1.005 1.08)">62.5-63.5 GHz_R</text>
<line x1="1518.9" y1="213" x2="1581.0" y2="213" stroke="#2ca02c" stroke-width="4.0"/>
<text class="lg" transform="translate(1602.9 224.84) scale(1.005 1.08)">60.5-61.5 GHz_R</text>
<line x1="1518.9" y1="256" x2="1581.0" y2="256" stroke="#98df8a" stroke-width="4.0"/>
<text class="lg" transform="translate(1602.9 267.45) scale(1.005 1.08)">58.5-59.5 GHz_R</text>
<line x1="1518.9" y1="299" x2="1581.0" y2="299" stroke="#d62728" stroke-width="4.0"/>
<text class="lg" transform="translate(1602.9 310.06) scale(1.005 1.08)">56.5-57.5 GHz_R</text>
<line x1="1518.9" y1="341" x2="1581.0" y2="341" stroke="#ff9896" stroke-width="4.0"/>
<text class="lg" transform="translate(1602.9 352.67) scale(1.005 1.08)">54.5-55.5 GHz_R</text>
<line x1="1518.9" y1="384" x2="1581.0" y2="384" stroke="#9467bd" stroke-width="4.0"/>
<text class="lg" transform="translate(1602.9 395.28) scale(1.005 1.08)">52.5-53.5 GHz_R</text>
<line x1="1518.9" y1="426" x2="1581.0" y2="426" stroke="#c5b0d5" stroke-width="4.0"/>
<text class="lg" transform="translate(1602.9 437.89) scale(1.005 1.08)">50.5-51.5 GHz_R</text>
<line x1="1518.9" y1="469" x2="1581.0" y2="469" stroke="#8c564b" stroke-width="4.0"/>
<text class="lg" transform="translate(1602.9 480.50) scale(1.005 1.08)">68.5-69.5 GHz_L</text>
<line x1="1518.9" y1="512" x2="1581.0" y2="512" stroke="#c49c94" stroke-width="4.0"/>
<text class="lg" transform="translate(1602.9 523.11) scale(1.005 1.08)">66.5-67.5 GHz_L</text>
<line x1="1518.9" y1="554" x2="1581.0" y2="554" stroke="#e377c2" stroke-width="4.0"/>
<text class="lg" transform="translate(1602.9 565.72) scale(1.005 1.08)">64.5-65.5 GHz_L</text>
<line x1="1518.9" y1="597" x2="1581.0" y2="597" stroke="#f7b6d2" stroke-width="4.0"/>
<text class="lg" transform="translate(1602.9 608.33) scale(1.005 1.08)">62.5-63.5 GHz_L</text>
<line x1="1518.9" y1="639" x2="1581.0" y2="639" stroke="#7f7f7f" stroke-width="4.0"/>
<text class="lg" transform="translate(1602.9 650.94) scale(1.005 1.08)">60.5-61.5 GHz_L</text>
<line x1="1518.9" y1="682" x2="1581.0" y2="682" stroke="#c7c7c7" stroke-width="4.0"/>
<text class="lg" transform="translate(1602.9 693.55) scale(1.005 1.08)">58.5-59.5 GHz_L</text>
<line x1="1518.9" y1="725" x2="1581.0" y2="725" stroke="#bcbd22" stroke-width="4.0"/>
<text class="lg" transform="translate(1602.9 736.16) scale(1.005 1.08)">56.5-57.5 GHz_L</text>
<line x1="1518.9" y1="767" x2="1581.0" y2="767" stroke="#dbdb8d" stroke-width="4.0"/>
<text class="lg" transform="translate(1602.9 778.77) scale(1.005 1.08)">54.5-55.5 GHz_L</text>
<line x1="1518.9" y1="810" x2="1581.0" y2="810" stroke="#17becf" stroke-width="4.0"/>
<text class="lg" transform="translate(1602.9 821.38) scale(1.005 1.08)">52.5-53.5 GHz_L</text>
<line x1="1518.9" y1="852" x2="1581.0" y2="852" stroke="#9edae5" stroke-width="4.0"/>
<text class="lg" transform="translate(1602.9 863.99) scale(1.005 1.08)">50.5-51.5 GHz_L</text>
</svg></body></html>
